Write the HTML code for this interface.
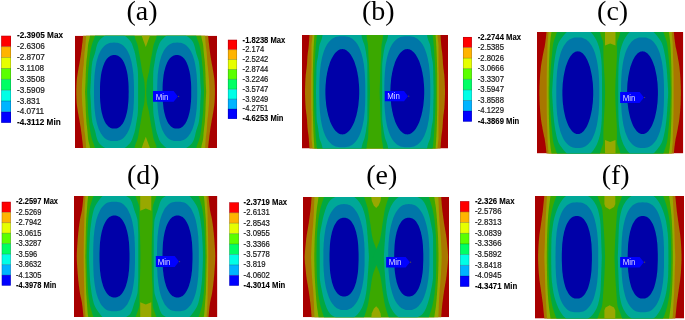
<!DOCTYPE html>
<html><head><meta charset="utf-8"><style>
html,body{margin:0;padding:0;background:#fff;width:685px;height:320px;overflow:hidden}
svg{display:block}
text{will-change:transform}
.lb{font-family:"Liberation Sans",sans-serif;fill:#1a1a1a;stroke:#1a1a1a;stroke-width:0.22px}
.b{font-weight:bold;fill:#000;stroke:#000;stroke-width:0.1px}
.mn{font-family:"Liberation Sans",sans-serif;font-size:8.3px;fill:#dcdcff}
.tt{font-family:"Liberation Serif",serif;font-size:28px;fill:#000}
</style></head><body>
<svg width="685" height="320" viewBox="0 0 685 320">
<clipPath id="c0"><rect x="75" y="35.7" width="142" height="112.3"/></clipPath>
<g clip-path="url(#c0)">
<rect x="75" y="35.7" width="142" height="112.3" fill="#a80000"/>
<path d="M83.1 33.7 L83.1 35.7 L83 36.7 L82.9 37.7 L82.8 38.7 L82.7 39.7 L82.6 40.7 L82.5 41.7 L82.4 42.7 L82.2 43.7 L82.1 44.7 L82 45.7 L81.9 46.7 L81.8 47.7 L81.7 48.7 L81.5 49.7 L81.4 50.7 L81.3 51.7 L81.1 52.7 L81 53.7 L80.9 54.7 L80.7 55.7 L80.6 56.7 L80.4 57.7 L80.2 58.7 L80.1 59.7 L79.9 60.7 L79.7 61.7 L79.6 62.7 L79.4 63.7 L79.2 64.7 L79 65.7 L78.8 66.7 L78.6 67.7 L78.5 68.7 L78.3 69.7 L78.1 70.7 L77.9 71.7 L77.8 72.7 L77.6 73.7 L77.5 74.7 L77.3 75.7 L77.2 76.7 L77 77.7 L76.9 78.7 L76.8 79.7 L76.7 80.7 L76.6 81.7 L76.6 82.7 L76.5 83.7 L76.5 84.7 L76.4 85.7 L76.4 86.7 L76.4 87.7 L76.3 88.7 L76.3 89.7 L76.3 90.7 L76.3 91.7 L76.3 93 L76.3 94 L76.3 95 L76.4 96 L76.4 97 L76.4 98 L76.5 99 L76.5 100 L76.6 101 L76.6 102 L76.7 103 L76.8 104 L76.9 105 L77 106 L77.2 107 L77.3 108 L77.5 109 L77.6 110 L77.8 111 L77.9 112 L78.1 113 L78.3 114 L78.5 115 L78.6 116 L78.8 117 L79 118 L79.2 119 L79.4 120 L79.6 121 L79.7 122 L79.9 123 L80.1 124 L80.2 125 L80.4 126 L80.6 127 L80.7 128 L80.9 129 L81 130 L81.1 131 L81.3 132 L81.4 133 L81.5 134 L81.7 135 L81.8 136 L81.9 137 L82 138 L82.1 139 L82.2 140 L82.4 141 L82.5 142 L82.6 143 L82.7 144 L82.8 145 L82.9 146 L83 147 L83.1 148 L83.1 150 L208.1 150 L208.1 148 L208.2 147 L208.3 146 L208.4 145 L208.5 144 L208.6 143 L208.7 142 L208.8 141 L209 140 L209.1 139 L209.2 138 L209.3 137 L209.4 136 L209.5 135 L209.7 134 L209.8 133 L209.9 132 L210.1 131 L210.2 130 L210.3 129 L210.5 128 L210.6 127 L210.8 126 L211 125 L211.1 124 L211.3 123 L211.5 122 L211.6 121 L211.8 120 L212 119 L212.2 118 L212.4 117 L212.6 116 L212.7 115 L212.9 114 L213.1 113 L213.3 112 L213.4 111 L213.6 110 L213.7 109 L213.9 108 L214 107 L214.2 106 L214.3 105 L214.4 104 L214.5 103 L214.6 102 L214.6 101 L214.7 100 L214.7 99 L214.8 98 L214.8 97 L214.8 96 L214.9 95 L214.9 94 L214.9 93 L214.9 91.7 L214.9 90.7 L214.9 89.7 L214.9 88.7 L214.8 87.7 L214.8 86.7 L214.8 85.7 L214.7 84.7 L214.7 83.7 L214.6 82.7 L214.6 81.7 L214.5 80.7 L214.4 79.7 L214.3 78.7 L214.2 77.7 L214 76.7 L213.9 75.7 L213.7 74.7 L213.6 73.7 L213.4 72.7 L213.3 71.7 L213.1 70.7 L212.9 69.7 L212.7 68.7 L212.6 67.7 L212.4 66.7 L212.2 65.7 L212 64.7 L211.8 63.7 L211.6 62.7 L211.5 61.7 L211.3 60.7 L211.1 59.7 L211 58.7 L210.8 57.7 L210.6 56.7 L210.5 55.7 L210.3 54.7 L210.2 53.7 L210.1 52.7 L209.9 51.7 L209.8 50.7 L209.7 49.7 L209.5 48.7 L209.4 47.7 L209.3 46.7 L209.2 45.7 L209.1 44.7 L209 43.7 L208.8 42.7 L208.7 41.7 L208.6 40.7 L208.5 39.7 L208.4 38.7 L208.3 37.7 L208.2 36.7 L208.1 35.7 L208.1 33.7Z" fill="#a87700"/>
<path d="M86.1 33.7 L86.1 35.7 L86 36.7 L86 37.7 L85.9 38.7 L85.9 39.7 L85.8 40.7 L85.7 41.7 L85.7 42.7 L85.6 43.7 L85.5 44.7 L85.4 45.7 L85.3 46.7 L85.2 47.7 L85 48.7 L84.9 49.7 L84.8 50.7 L84.6 51.7 L84.5 52.7 L84.4 53.7 L84.4 54.7 L84.3 55.7 L84.2 56.7 L84.2 57.7 L84.1 58.7 L84.1 59.7 L84 60.7 L83.9 61.7 L83.8 62.7 L83.8 63.7 L83.7 64.7 L83.6 65.7 L83.4 66.7 L83.3 67.7 L83.2 68.7 L83.1 69.7 L83 70.7 L82.9 71.7 L82.8 72.7 L82.7 73.7 L82.7 74.7 L82.6 75.7 L82.5 76.7 L82.4 77.7 L82.3 78.7 L82.2 79.7 L82.2 80.7 L82.1 81.7 L82.1 82.7 L82 83.7 L82 84.7 L81.9 85.7 L81.9 86.7 L81.9 87.7 L81.8 88.7 L81.8 89.7 L81.8 90.7 L81.8 91.7 L81.8 93 L81.8 94 L81.8 95 L81.9 96 L81.9 97 L81.9 98 L82 99 L82 100 L82.1 101 L82.1 102 L82.2 103 L82.2 104 L82.3 105 L82.4 106 L82.5 107 L82.6 108 L82.7 109 L82.7 110 L82.8 111 L82.9 112 L83 113 L83.1 114 L83.2 115 L83.3 116 L83.4 117 L83.6 118 L83.7 119 L83.8 120 L83.8 121 L83.9 122 L84 123 L84.1 124 L84.1 125 L84.2 126 L84.2 127 L84.3 128 L84.4 129 L84.4 130 L84.5 131 L84.6 132 L84.8 133 L84.9 134 L85 135 L85.2 136 L85.3 137 L85.4 138 L85.5 139 L85.6 140 L85.7 141 L85.7 142 L85.8 143 L85.9 144 L85.9 145 L86 146 L86 147 L86.1 148 L86.1 150 L205.1 150 L205.1 148 L205.2 147 L205.2 146 L205.3 145 L205.3 144 L205.4 143 L205.5 142 L205.5 141 L205.6 140 L205.7 139 L205.8 138 L205.9 137 L206 136 L206.2 135 L206.3 134 L206.4 133 L206.6 132 L206.7 131 L206.8 130 L206.8 129 L206.9 128 L207 127 L207 126 L207.1 125 L207.1 124 L207.2 123 L207.3 122 L207.4 121 L207.4 120 L207.5 119 L207.6 118 L207.8 117 L207.9 116 L208 115 L208.1 114 L208.2 113 L208.3 112 L208.4 111 L208.5 110 L208.5 109 L208.6 108 L208.7 107 L208.8 106 L208.9 105 L209 104 L209 103 L209.1 102 L209.1 101 L209.2 100 L209.2 99 L209.3 98 L209.3 97 L209.3 96 L209.4 95 L209.4 94 L209.4 93 L209.4 91.7 L209.4 90.7 L209.4 89.7 L209.4 88.7 L209.3 87.7 L209.3 86.7 L209.3 85.7 L209.2 84.7 L209.2 83.7 L209.1 82.7 L209.1 81.7 L209 80.7 L209 79.7 L208.9 78.7 L208.8 77.7 L208.7 76.7 L208.6 75.7 L208.5 74.7 L208.5 73.7 L208.4 72.7 L208.3 71.7 L208.2 70.7 L208.1 69.7 L208 68.7 L207.9 67.7 L207.8 66.7 L207.6 65.7 L207.5 64.7 L207.4 63.7 L207.4 62.7 L207.3 61.7 L207.2 60.7 L207.1 59.7 L207.1 58.7 L207 57.7 L207 56.7 L206.9 55.7 L206.8 54.7 L206.8 53.7 L206.7 52.7 L206.6 51.7 L206.4 50.7 L206.3 49.7 L206.2 48.7 L206 47.7 L205.9 46.7 L205.8 45.7 L205.7 44.7 L205.6 43.7 L205.5 42.7 L205.5 41.7 L205.4 40.7 L205.3 39.7 L205.3 38.7 L205.2 37.7 L205.2 36.7 L205.1 35.7 L205.1 33.7Z" fill="#98a800"/>
<path d="M90 33.7 L90 35.7 L89.8 36.7 L89.7 37.7 L89.5 38.7 L89.2 39.7 L89 40.7 L88.7 41.7 L88.5 42.7 L88.3 43.7 L88.1 44.7 L88 45.7 L87.9 46.7 L87.8 47.7 L87.7 48.7 L87.7 49.7 L87.6 50.7 L87.5 51.7 L87.4 52.7 L87.3 53.7 L87.2 54.7 L87.1 55.7 L87 56.7 L86.9 57.7 L86.7 58.7 L86.6 59.7 L86.5 60.7 L86.4 61.7 L86.3 62.7 L86.3 63.7 L86.2 64.7 L86.1 65.7 L86.1 66.7 L86 67.7 L86 68.7 L85.9 69.7 L85.9 70.7 L85.8 71.7 L85.8 72.7 L85.7 73.7 L85.7 74.7 L85.7 75.7 L85.7 76.7 L85.6 77.7 L85.6 78.7 L85.6 79.7 L85.5 80.7 L85.5 81.7 L85.5 82.7 L85.4 83.7 L85.4 84.7 L85.3 85.7 L85.3 86.7 L85.2 87.7 L85.2 88.7 L85.1 89.7 L85.1 90.7 L85 91.7 L85.1 93 L85.1 94 L85.2 95 L85.2 96 L85.3 97 L85.3 98 L85.4 99 L85.4 100 L85.5 101 L85.5 102 L85.5 103 L85.6 104 L85.6 105 L85.6 106 L85.7 107 L85.7 108 L85.7 109 L85.7 110 L85.8 111 L85.8 112 L85.9 113 L85.9 114 L86 115 L86 116 L86.1 117 L86.1 118 L86.2 119 L86.3 120 L86.3 121 L86.4 122 L86.5 123 L86.6 124 L86.7 125 L86.9 126 L87 127 L87.1 128 L87.2 129 L87.3 130 L87.4 131 L87.5 132 L87.6 133 L87.7 134 L87.7 135 L87.8 136 L87.9 137 L88 138 L88.1 139 L88.3 140 L88.5 141 L88.7 142 L89 143 L89.2 144 L89.5 145 L89.7 146 L89.8 147 L90 148 L90 150 L201.2 150 L201.2 148 L201.4 147 L201.5 146 L201.7 145 L202 144 L202.2 143 L202.5 142 L202.7 141 L202.9 140 L203.1 139 L203.2 138 L203.3 137 L203.4 136 L203.5 135 L203.5 134 L203.6 133 L203.7 132 L203.8 131 L203.9 130 L204 129 L204.1 128 L204.2 127 L204.3 126 L204.5 125 L204.6 124 L204.7 123 L204.8 122 L204.9 121 L204.9 120 L205 119 L205.1 118 L205.1 117 L205.2 116 L205.2 115 L205.3 114 L205.3 113 L205.4 112 L205.4 111 L205.5 110 L205.5 109 L205.5 108 L205.5 107 L205.6 106 L205.6 105 L205.6 104 L205.7 103 L205.7 102 L205.7 101 L205.8 100 L205.8 99 L205.9 98 L205.9 97 L206 96 L206 95 L206.1 94 L206.1 93 L206.2 91.7 L206.1 90.7 L206.1 89.7 L206 88.7 L206 87.7 L205.9 86.7 L205.9 85.7 L205.8 84.7 L205.8 83.7 L205.7 82.7 L205.7 81.7 L205.7 80.7 L205.6 79.7 L205.6 78.7 L205.6 77.7 L205.5 76.7 L205.5 75.7 L205.5 74.7 L205.5 73.7 L205.4 72.7 L205.4 71.7 L205.3 70.7 L205.3 69.7 L205.2 68.7 L205.2 67.7 L205.1 66.7 L205.1 65.7 L205 64.7 L204.9 63.7 L204.9 62.7 L204.8 61.7 L204.7 60.7 L204.6 59.7 L204.5 58.7 L204.3 57.7 L204.2 56.7 L204.1 55.7 L204 54.7 L203.9 53.7 L203.8 52.7 L203.7 51.7 L203.6 50.7 L203.5 49.7 L203.5 48.7 L203.4 47.7 L203.3 46.7 L203.2 45.7 L203.1 44.7 L202.9 43.7 L202.7 42.7 L202.5 41.7 L202.2 40.7 L202 39.7 L201.7 38.7 L201.5 37.7 L201.4 36.7 L201.2 35.7 L201.2 33.7Z" fill="#3ba800"/>
<path d="M140.8 33 L151 33 L148 41 L145.8 47 L143.5 41Z" fill="#98a800"/>
<path d="M140.8 150.7 L151 150.7 L148 142.7 L145.8 136.7 L143.5 142.7Z" fill="#98a800"/>
<path d="M95 33.7 L95 35.7 L94.7 36.7 L94.4 37.7 L94.1 38.7 L93.7 39.7 L93.3 40.7 L92.9 41.7 L92.5 42.7 L92.2 43.7 L91.9 44.7 L91.6 45.7 L91.4 46.7 L91.2 47.7 L90.9 48.7 L90.7 49.7 L90.6 50.7 L90.4 51.7 L90.2 52.7 L90.1 53.7 L90 54.7 L89.9 55.7 L89.7 56.7 L89.6 57.7 L89.5 58.7 L89.4 59.7 L89.3 60.7 L89.2 61.7 L89.1 62.7 L89 63.7 L88.9 64.7 L88.8 65.7 L88.6 66.7 L88.5 67.7 L88.4 68.7 L88.3 69.7 L88.2 70.7 L88.1 71.7 L88.1 72.7 L88 73.7 L87.9 74.7 L87.9 75.7 L87.8 76.7 L87.8 77.7 L87.8 78.7 L87.7 79.7 L87.7 80.7 L87.6 81.7 L87.6 82.7 L87.5 83.7 L87.5 84.7 L87.4 85.7 L87.4 86.7 L87.3 87.7 L87.3 88.7 L87.2 89.7 L87.2 90.7 L87.1 91.7 L87.2 93 L87.2 94 L87.3 95 L87.3 96 L87.4 97 L87.4 98 L87.5 99 L87.5 100 L87.6 101 L87.6 102 L87.7 103 L87.7 104 L87.8 105 L87.8 106 L87.8 107 L87.9 108 L87.9 109 L88 110 L88.1 111 L88.1 112 L88.2 113 L88.3 114 L88.4 115 L88.5 116 L88.6 117 L88.8 118 L88.9 119 L89 120 L89.1 121 L89.2 122 L89.3 123 L89.4 124 L89.5 125 L89.6 126 L89.7 127 L89.9 128 L90 129 L90.1 130 L90.2 131 L90.4 132 L90.6 133 L90.7 134 L90.9 135 L91.2 136 L91.4 137 L91.6 138 L91.9 139 L92.2 140 L92.5 141 L92.9 142 L93.3 143 L93.7 144 L94.1 145 L94.4 146 L94.7 147 L95 148 L95 150 L134.6 150 L134.6 148 L134.7 147 L134.9 146 L135.2 145 L135.6 144 L136 143 L136.4 142 L136.8 141 L137.2 140 L137.5 139 L137.8 138 L138 137 L138.2 136 L138.4 135 L138.5 134 L138.7 133 L138.9 132 L139 131 L139.2 130 L139.4 129 L139.6 128 L139.8 127 L140 126 L140.1 125 L140.3 124 L140.5 123 L140.6 122 L140.8 121 L141 120 L141.1 119 L141.3 118 L141.4 117 L141.6 116 L141.7 115 L141.9 114 L142.1 113 L142.2 112 L142.4 111 L142.7 110 L142.9 109 L143.1 108 L143.4 107 L143.6 106 L143.9 105 L144.1 104 L144.2 103 L144.4 102 L144.5 101 L144.5 100 L144.6 99 L144.7 98 L144.7 97 L144.8 96 L144.8 95 L144.9 94 L144.9 93 L144.9 91.7 L144.9 90.7 L144.9 89.7 L144.8 88.7 L144.8 87.7 L144.7 86.7 L144.7 85.7 L144.6 84.7 L144.5 83.7 L144.5 82.7 L144.4 81.7 L144.2 80.7 L144.1 79.7 L143.9 78.7 L143.6 77.7 L143.4 76.7 L143.1 75.7 L142.9 74.7 L142.7 73.7 L142.4 72.7 L142.2 71.7 L142.1 70.7 L141.9 69.7 L141.7 68.7 L141.6 67.7 L141.4 66.7 L141.3 65.7 L141.1 64.7 L141 63.7 L140.8 62.7 L140.6 61.7 L140.5 60.7 L140.3 59.7 L140.1 58.7 L140 57.7 L139.8 56.7 L139.6 55.7 L139.4 54.7 L139.2 53.7 L139 52.7 L138.9 51.7 L138.7 50.7 L138.5 49.7 L138.4 48.7 L138.2 47.7 L138 46.7 L137.8 45.7 L137.5 44.7 L137.2 43.7 L136.8 42.7 L136.4 41.7 L136 40.7 L135.6 39.7 L135.2 38.7 L134.9 37.7 L134.7 36.7 L134.6 35.7 L134.6 33.7Z" fill="#00a842"/>
<path d="M196.2 33.7 L196.2 35.7 L196.5 36.7 L196.8 37.7 L197.1 38.7 L197.5 39.7 L197.9 40.7 L198.3 41.7 L198.7 42.7 L199 43.7 L199.3 44.7 L199.6 45.7 L199.8 46.7 L200 47.7 L200.3 48.7 L200.5 49.7 L200.6 50.7 L200.8 51.7 L201 52.7 L201.1 53.7 L201.2 54.7 L201.3 55.7 L201.5 56.7 L201.6 57.7 L201.7 58.7 L201.8 59.7 L201.9 60.7 L202 61.7 L202.1 62.7 L202.2 63.7 L202.3 64.7 L202.4 65.7 L202.6 66.7 L202.7 67.7 L202.8 68.7 L202.9 69.7 L203 70.7 L203.1 71.7 L203.1 72.7 L203.2 73.7 L203.3 74.7 L203.3 75.7 L203.4 76.7 L203.4 77.7 L203.4 78.7 L203.5 79.7 L203.5 80.7 L203.6 81.7 L203.6 82.7 L203.7 83.7 L203.7 84.7 L203.8 85.7 L203.8 86.7 L203.9 87.7 L203.9 88.7 L204 89.7 L204 90.7 L204.1 91.7 L204 93 L204 94 L203.9 95 L203.9 96 L203.8 97 L203.8 98 L203.7 99 L203.7 100 L203.6 101 L203.6 102 L203.5 103 L203.5 104 L203.4 105 L203.4 106 L203.4 107 L203.3 108 L203.3 109 L203.2 110 L203.1 111 L203.1 112 L203 113 L202.9 114 L202.8 115 L202.7 116 L202.6 117 L202.4 118 L202.3 119 L202.2 120 L202.1 121 L202 122 L201.9 123 L201.8 124 L201.7 125 L201.6 126 L201.5 127 L201.3 128 L201.2 129 L201.1 130 L201 131 L200.8 132 L200.6 133 L200.5 134 L200.3 135 L200 136 L199.8 137 L199.6 138 L199.3 139 L199 140 L198.7 141 L198.3 142 L197.9 143 L197.5 144 L197.1 145 L196.8 146 L196.5 147 L196.2 148 L196.2 150 L156.6 150 L156.6 148 L156.5 147 L156.3 146 L156 145 L155.6 144 L155.2 143 L154.8 142 L154.4 141 L154 140 L153.7 139 L153.4 138 L153.2 137 L153 136 L152.8 135 L152.7 134 L152.5 133 L152.3 132 L152.2 131 L152 130 L151.8 129 L151.6 128 L151.4 127 L151.2 126 L151.1 125 L150.9 124 L150.7 123 L150.6 122 L150.4 121 L150.2 120 L150.1 119 L149.9 118 L149.8 117 L149.6 116 L149.5 115 L149.3 114 L149.1 113 L149 112 L148.8 111 L148.5 110 L148.3 109 L148.1 108 L147.8 107 L147.6 106 L147.3 105 L147.1 104 L147 103 L146.8 102 L146.7 101 L146.7 100 L146.6 99 L146.5 98 L146.5 97 L146.4 96 L146.4 95 L146.3 94 L146.3 93 L146.3 91.7 L146.3 90.7 L146.3 89.7 L146.4 88.7 L146.4 87.7 L146.5 86.7 L146.5 85.7 L146.6 84.7 L146.7 83.7 L146.7 82.7 L146.8 81.7 L147 80.7 L147.1 79.7 L147.3 78.7 L147.6 77.7 L147.8 76.7 L148.1 75.7 L148.3 74.7 L148.5 73.7 L148.8 72.7 L149 71.7 L149.1 70.7 L149.3 69.7 L149.5 68.7 L149.6 67.7 L149.8 66.7 L149.9 65.7 L150.1 64.7 L150.2 63.7 L150.4 62.7 L150.6 61.7 L150.7 60.7 L150.9 59.7 L151.1 58.7 L151.2 57.7 L151.4 56.7 L151.6 55.7 L151.8 54.7 L152 53.7 L152.2 52.7 L152.3 51.7 L152.5 50.7 L152.7 49.7 L152.8 48.7 L153 47.7 L153.2 46.7 L153.4 45.7 L153.7 44.7 L154 43.7 L154.4 42.7 L154.8 41.7 L155.2 40.7 L155.6 39.7 L156 38.7 L156.3 37.7 L156.5 36.7 L156.6 35.7 L156.6 33.7Z" fill="#00a842"/>
<path d="M105.2 33.7 L105.2 35.7 L103.4 36.7 L102.1 37.7 L100.9 38.7 L99.9 39.7 L99.1 40.7 L98.5 41.7 L97.9 42.7 L97.5 43.7 L97.1 44.7 L96.8 45.7 L96.5 46.7 L96.2 47.7 L96 48.7 L95.8 49.7 L95.6 50.7 L95.3 51.7 L95.1 52.7 L94.8 53.7 L94.5 54.7 L94.1 55.7 L93.8 56.7 L93.5 57.7 L93.1 58.7 L92.8 59.7 L92.6 60.7 L92.3 61.7 L92.2 62.7 L92.1 63.7 L91.9 64.7 L91.8 65.7 L91.7 66.7 L91.6 67.7 L91.5 68.7 L91.5 69.7 L91.4 70.7 L91.3 71.7 L91.3 72.7 L91.2 73.7 L91.1 74.7 L91.1 75.7 L91 76.7 L91 77.7 L91 78.7 L90.9 79.7 L90.9 80.7 L90.8 81.7 L90.8 82.7 L90.7 83.7 L90.6 84.7 L90.6 85.7 L90.5 86.7 L90.5 87.7 L90.4 88.7 L90.3 89.7 L90.3 90.7 L90.2 91.7 L90.3 93 L90.3 94 L90.4 95 L90.5 96 L90.5 97 L90.6 98 L90.6 99 L90.7 100 L90.8 101 L90.8 102 L90.9 103 L90.9 104 L91 105 L91 106 L91 107 L91.1 108 L91.1 109 L91.2 110 L91.3 111 L91.3 112 L91.4 113 L91.5 114 L91.5 115 L91.6 116 L91.7 117 L91.8 118 L91.9 119 L92.1 120 L92.2 121 L92.3 122 L92.6 123 L92.8 124 L93.1 125 L93.5 126 L93.8 127 L94.1 128 L94.5 129 L94.8 130 L95.1 131 L95.3 132 L95.6 133 L95.8 134 L96 135 L96.2 136 L96.5 137 L96.8 138 L97.1 139 L97.5 140 L97.9 141 L98.5 142 L99.1 143 L99.9 144 L100.9 145 L102.1 146 L103.4 147 L105.2 148 L105.2 150 L124.6 150 L124.6 148 L126.1 147 L127.2 146 L128.1 145 L129.2 144 L130.1 143 L130.8 142 L131.4 141 L131.9 140 L132.3 139 L132.6 138 L133 137 L133.3 136 L133.6 135 L134 134 L134.3 133 L134.6 132 L134.8 131 L135.1 130 L135.3 129 L135.5 128 L135.6 127 L135.8 126 L136 125 L136.1 124 L136.3 123 L136.5 122 L136.6 121 L136.8 120 L137 119 L137.1 118 L137.3 117 L137.5 116 L137.6 115 L137.7 114 L137.8 113 L137.9 112 L137.9 111 L138 110 L138 109 L138 108 L138 107 L138.1 106 L138.1 105 L138.1 104 L138.1 103 L138.1 102 L138.1 101 L138.1 100 L138.1 99 L138.1 98 L138.1 97 L138.1 96 L138.1 95 L138.1 94 L138.1 93 L138.1 91.7 L138.1 90.7 L138.1 89.7 L138.1 88.7 L138.1 87.7 L138.1 86.7 L138.1 85.7 L138.1 84.7 L138.1 83.7 L138.1 82.7 L138.1 81.7 L138.1 80.7 L138.1 79.7 L138.1 78.7 L138.1 77.7 L138 76.7 L138 75.7 L138 74.7 L138 73.7 L137.9 72.7 L137.9 71.7 L137.8 70.7 L137.7 69.7 L137.6 68.7 L137.5 67.7 L137.3 66.7 L137.1 65.7 L137 64.7 L136.8 63.7 L136.6 62.7 L136.5 61.7 L136.3 60.7 L136.1 59.7 L136 58.7 L135.8 57.7 L135.6 56.7 L135.5 55.7 L135.3 54.7 L135.1 53.7 L134.8 52.7 L134.6 51.7 L134.3 50.7 L134 49.7 L133.6 48.7 L133.3 47.7 L133 46.7 L132.6 45.7 L132.3 44.7 L131.9 43.7 L131.4 42.7 L130.8 41.7 L130.1 40.7 L129.2 39.7 L128.1 38.7 L127.2 37.7 L126.1 36.7 L124.6 35.7 L124.6 33.7Z" fill="#00a898"/>
<path d="M186 33.7 L186 35.7 L187.8 36.7 L189.1 37.7 L190.3 38.7 L191.3 39.7 L192.1 40.7 L192.7 41.7 L193.3 42.7 L193.7 43.7 L194.1 44.7 L194.4 45.7 L194.7 46.7 L195 47.7 L195.2 48.7 L195.4 49.7 L195.6 50.7 L195.9 51.7 L196.1 52.7 L196.4 53.7 L196.7 54.7 L197.1 55.7 L197.4 56.7 L197.7 57.7 L198.1 58.7 L198.4 59.7 L198.6 60.7 L198.9 61.7 L199 62.7 L199.1 63.7 L199.3 64.7 L199.4 65.7 L199.5 66.7 L199.6 67.7 L199.7 68.7 L199.7 69.7 L199.8 70.7 L199.9 71.7 L199.9 72.7 L200 73.7 L200.1 74.7 L200.1 75.7 L200.2 76.7 L200.2 77.7 L200.2 78.7 L200.3 79.7 L200.3 80.7 L200.4 81.7 L200.4 82.7 L200.5 83.7 L200.6 84.7 L200.6 85.7 L200.7 86.7 L200.7 87.7 L200.8 88.7 L200.9 89.7 L200.9 90.7 L201 91.7 L200.9 93 L200.9 94 L200.8 95 L200.7 96 L200.7 97 L200.6 98 L200.6 99 L200.5 100 L200.4 101 L200.4 102 L200.3 103 L200.3 104 L200.2 105 L200.2 106 L200.2 107 L200.1 108 L200.1 109 L200 110 L199.9 111 L199.9 112 L199.8 113 L199.7 114 L199.7 115 L199.6 116 L199.5 117 L199.4 118 L199.3 119 L199.1 120 L199 121 L198.9 122 L198.6 123 L198.4 124 L198.1 125 L197.7 126 L197.4 127 L197.1 128 L196.7 129 L196.4 130 L196.1 131 L195.9 132 L195.6 133 L195.4 134 L195.2 135 L195 136 L194.7 137 L194.4 138 L194.1 139 L193.7 140 L193.3 141 L192.7 142 L192.1 143 L191.3 144 L190.3 145 L189.1 146 L187.8 147 L186 148 L186 150 L166.6 150 L166.6 148 L165.1 147 L164 146 L163.1 145 L162 144 L161.1 143 L160.4 142 L159.8 141 L159.3 140 L158.9 139 L158.6 138 L158.2 137 L157.9 136 L157.6 135 L157.2 134 L156.9 133 L156.6 132 L156.4 131 L156.1 130 L155.9 129 L155.7 128 L155.6 127 L155.4 126 L155.2 125 L155.1 124 L154.9 123 L154.7 122 L154.6 121 L154.4 120 L154.2 119 L154.1 118 L153.9 117 L153.7 116 L153.6 115 L153.5 114 L153.4 113 L153.3 112 L153.3 111 L153.2 110 L153.2 109 L153.2 108 L153.2 107 L153.1 106 L153.1 105 L153.1 104 L153.1 103 L153.1 102 L153.1 101 L153.1 100 L153.1 99 L153.1 98 L153.1 97 L153.1 96 L153.1 95 L153.1 94 L153.1 93 L153.1 91.7 L153.1 90.7 L153.1 89.7 L153.1 88.7 L153.1 87.7 L153.1 86.7 L153.1 85.7 L153.1 84.7 L153.1 83.7 L153.1 82.7 L153.1 81.7 L153.1 80.7 L153.1 79.7 L153.1 78.7 L153.1 77.7 L153.2 76.7 L153.2 75.7 L153.2 74.7 L153.2 73.7 L153.3 72.7 L153.3 71.7 L153.4 70.7 L153.5 69.7 L153.6 68.7 L153.7 67.7 L153.9 66.7 L154.1 65.7 L154.2 64.7 L154.4 63.7 L154.6 62.7 L154.7 61.7 L154.9 60.7 L155.1 59.7 L155.2 58.7 L155.4 57.7 L155.6 56.7 L155.7 55.7 L155.9 54.7 L156.1 53.7 L156.4 52.7 L156.6 51.7 L156.9 50.7 L157.2 49.7 L157.6 48.7 L157.9 47.7 L158.2 46.7 L158.6 45.7 L158.9 44.7 L159.3 43.7 L159.8 42.7 L160.4 41.7 L161.1 40.7 L162 39.7 L163.1 38.7 L164 37.7 L165.1 36.7 L166.6 35.7 L166.6 33.7Z" fill="#00a898"/>
<path d="M134 91.8 L134 96.5 L133.9 99.9 L133.8 103 L133.6 105.9 L133.5 108.6 L133.2 111.1 L132.9 113.5 L132.6 115.8 L132.2 118 L131.8 120.1 L131.4 122.1 L130.9 124 L130.3 125.9 L129.8 127.6 L129.2 129.2 L128.5 130.7 L127.8 132.1 L127.1 133.4 L126.3 134.6 L125.5 135.7 L124.6 136.8 L123.7 137.7 L122.8 138.5 L121.8 139.2 L120.8 139.8 L119.7 140.2 L118.5 140.6 L117.3 140.9 L115.9 141 L114 141.1 L112.1 141 L110.7 140.9 L109.5 140.6 L108.3 140.2 L107.2 139.8 L106.2 139.2 L105.2 138.5 L104.3 137.7 L103.4 136.8 L102.5 135.7 L101.7 134.6 L100.9 133.4 L100.2 132.1 L99.5 130.7 L98.8 129.2 L98.2 127.6 L97.7 125.9 L97.1 124 L96.6 122.1 L96.2 120.1 L95.8 118 L95.4 115.8 L95.1 113.5 L94.8 111.1 L94.5 108.6 L94.4 105.9 L94.2 103 L94.1 99.9 L94 96.5 L94 91.9 L94 87.2 L94.1 83.8 L94.2 80.7 L94.4 77.8 L94.5 75.1 L94.8 72.6 L95.1 70.2 L95.4 67.9 L95.8 65.7 L96.2 63.6 L96.6 61.6 L97.1 59.7 L97.7 57.8 L98.2 56.1 L98.8 54.5 L99.5 53 L100.2 51.6 L100.9 50.3 L101.7 49.1 L102.5 48 L103.4 46.9 L104.3 46 L105.2 45.2 L106.2 44.5 L107.2 43.9 L108.3 43.5 L109.5 43.1 L110.7 42.8 L112.1 42.7 L114 42.6 L115.9 42.7 L117.3 42.8 L118.5 43.1 L119.7 43.5 L120.8 43.9 L121.8 44.5 L122.8 45.2 L123.7 46 L124.6 46.9 L125.5 48 L126.3 49.1 L127.1 50.3 L127.8 51.6 L128.5 53 L129.2 54.5 L129.8 56.1 L130.3 57.8 L130.9 59.7 L131.4 61.6 L131.8 63.6 L132.2 65.7 L132.6 67.9 L132.9 70.2 L133.2 72.6 L133.5 75.1 L133.6 77.8 L133.8 80.7 L133.9 83.8 L134 87.2Z" fill="#0077a8"/>
<path d="M157.2 91.8 L157.2 96.5 L157.3 99.9 L157.4 103 L157.6 105.9 L157.7 108.6 L158 111.1 L158.3 113.5 L158.6 115.8 L159 118 L159.4 120.1 L159.8 122.1 L160.3 124 L160.9 125.9 L161.4 127.6 L162 129.2 L162.7 130.7 L163.4 132.1 L164.1 133.4 L164.9 134.6 L165.7 135.7 L166.6 136.8 L167.5 137.7 L168.4 138.5 L169.4 139.2 L170.4 139.8 L171.5 140.2 L172.7 140.6 L173.9 140.9 L175.3 141 L177.2 141.1 L179.1 141 L180.5 140.9 L181.7 140.6 L182.9 140.2 L184 139.8 L185 139.2 L186 138.5 L186.9 137.7 L187.8 136.8 L188.7 135.7 L189.5 134.6 L190.3 133.4 L191 132.1 L191.7 130.7 L192.4 129.2 L193 127.6 L193.5 125.9 L194.1 124 L194.6 122.1 L195 120.1 L195.4 118 L195.8 115.8 L196.1 113.5 L196.4 111.1 L196.7 108.6 L196.8 105.9 L197 103 L197.1 99.9 L197.2 96.5 L197.2 91.9 L197.2 87.2 L197.1 83.8 L197 80.7 L196.8 77.8 L196.7 75.1 L196.4 72.6 L196.1 70.2 L195.8 67.9 L195.4 65.7 L195 63.6 L194.6 61.6 L194.1 59.7 L193.5 57.8 L193 56.1 L192.4 54.5 L191.7 53 L191 51.6 L190.3 50.3 L189.5 49.1 L188.7 48 L187.8 46.9 L186.9 46 L186 45.2 L185 44.5 L184 43.9 L182.9 43.5 L181.7 43.1 L180.5 42.8 L179.1 42.7 L177.2 42.6 L175.3 42.7 L173.9 42.8 L172.7 43.1 L171.5 43.5 L170.4 43.9 L169.4 44.5 L168.4 45.2 L167.5 46 L166.6 46.9 L165.7 48 L164.9 49.1 L164.1 50.3 L163.4 51.6 L162.7 53 L162 54.5 L161.4 56.1 L160.9 57.8 L160.3 59.7 L159.8 61.6 L159.4 63.6 L159 65.7 L158.6 67.9 L158.3 70.2 L158 72.6 L157.7 75.1 L157.6 77.8 L157.4 80.7 L157.3 83.8 L157.2 87.2Z" fill="#0077a8"/>
<path d="M128.7 91.8 L128.6 94.7 L128.6 97 L128.5 99.2 L128.4 101.2 L128.2 103.2 L128 105.1 L127.8 106.9 L127.6 108.7 L127.3 110.3 L127 112 L126.6 113.5 L126.2 115 L125.8 116.4 L125.4 117.8 L124.9 119 L124.4 120.2 L123.9 121.4 L123.3 122.4 L122.8 123.4 L122.2 124.3 L121.5 125.1 L120.9 125.8 L120.2 126.5 L119.5 127 L118.7 127.5 L118 127.9 L117.2 128.2 L116.3 128.4 L115.4 128.6 L114.3 128.6 L113.2 128.6 L112.3 128.4 L111.4 128.2 L110.6 127.9 L109.9 127.5 L109.1 127 L108.4 126.5 L107.7 125.8 L107.1 125.1 L106.4 124.3 L105.8 123.4 L105.3 122.4 L104.7 121.4 L104.2 120.2 L103.7 119 L103.2 117.8 L102.8 116.4 L102.4 115 L102 113.5 L101.6 112 L101.3 110.3 L101 108.7 L100.8 106.9 L100.6 105.1 L100.4 103.2 L100.2 101.2 L100.1 99.2 L100 97 L100 94.7 L100 91.9 L100 89 L100 86.7 L100.1 84.5 L100.2 82.5 L100.4 80.5 L100.6 78.6 L100.8 76.8 L101 75 L101.3 73.4 L101.6 71.7 L102 70.2 L102.4 68.7 L102.8 67.3 L103.2 65.9 L103.7 64.7 L104.2 63.5 L104.7 62.3 L105.3 61.3 L105.8 60.3 L106.4 59.4 L107.1 58.6 L107.7 57.9 L108.4 57.2 L109.1 56.7 L109.9 56.2 L110.6 55.8 L111.4 55.5 L112.3 55.3 L113.2 55.1 L114.3 55.1 L115.4 55.1 L116.3 55.3 L117.2 55.5 L118 55.8 L118.7 56.2 L119.5 56.7 L120.2 57.2 L120.9 57.9 L121.5 58.6 L122.2 59.4 L122.8 60.3 L123.3 61.3 L123.9 62.3 L124.4 63.5 L124.9 64.7 L125.4 65.9 L125.8 67.3 L126.2 68.7 L126.6 70.2 L127 71.7 L127.3 73.4 L127.6 75 L127.8 76.8 L128 78.6 L128.2 80.5 L128.4 82.5 L128.5 84.5 L128.6 86.7 L128.6 89Z" fill="#0000a8"/>
<path d="M162.5 91.8 L162.6 94.7 L162.6 97 L162.7 99.2 L162.8 101.2 L163 103.2 L163.2 105.1 L163.4 106.9 L163.6 108.7 L163.9 110.3 L164.2 112 L164.6 113.5 L165 115 L165.4 116.4 L165.8 117.8 L166.3 119 L166.8 120.2 L167.3 121.4 L167.9 122.4 L168.4 123.4 L169 124.3 L169.7 125.1 L170.3 125.8 L171 126.5 L171.7 127 L172.5 127.5 L173.2 127.9 L174 128.2 L174.9 128.4 L175.8 128.6 L176.9 128.6 L178 128.6 L178.9 128.4 L179.8 128.2 L180.6 127.9 L181.3 127.5 L182.1 127 L182.8 126.5 L183.5 125.8 L184.1 125.1 L184.8 124.3 L185.4 123.4 L185.9 122.4 L186.5 121.4 L187 120.2 L187.5 119 L188 117.8 L188.4 116.4 L188.8 115 L189.2 113.5 L189.6 112 L189.9 110.3 L190.2 108.7 L190.4 106.9 L190.6 105.1 L190.8 103.2 L191 101.2 L191.1 99.2 L191.2 97 L191.2 94.7 L191.2 91.9 L191.2 89 L191.2 86.7 L191.1 84.5 L191 82.5 L190.8 80.5 L190.6 78.6 L190.4 76.8 L190.2 75 L189.9 73.4 L189.6 71.7 L189.2 70.2 L188.8 68.7 L188.4 67.3 L188 65.9 L187.5 64.7 L187 63.5 L186.5 62.3 L185.9 61.3 L185.4 60.3 L184.8 59.4 L184.1 58.6 L183.5 57.9 L182.8 57.2 L182.1 56.7 L181.3 56.2 L180.6 55.8 L179.8 55.5 L178.9 55.3 L178 55.1 L176.9 55.1 L175.8 55.1 L174.9 55.3 L174 55.5 L173.2 55.8 L172.5 56.2 L171.7 56.7 L171 57.2 L170.3 57.9 L169.7 58.6 L169 59.4 L168.4 60.3 L167.9 61.3 L167.3 62.3 L166.8 63.5 L166.3 64.7 L165.8 65.9 L165.4 67.3 L165 68.7 L164.6 70.2 L164.2 71.7 L163.9 73.4 L163.6 75 L163.4 76.8 L163.2 78.6 L163 80.5 L162.8 82.5 L162.7 84.5 L162.6 86.7 L162.6 89Z" fill="#0000a8"/>
</g>
<path d="M153 91 L173.6 91 L177.9 96.4 L173.6 101.8 L153 101.8Z" fill="#0000ff"/>
<circle cx="178.6" cy="96.4" r="0.6" fill="#5a5040"/>
<text transform="translate(155.8 99.9) scale(0.95 1)" class="mn">Min</text>
<clipPath id="c1"><rect x="302" y="35" width="146" height="113.5"/></clipPath>
<g clip-path="url(#c1)">
<rect x="302" y="35" width="146" height="113.5" fill="#a80000"/>
<path d="M309.5 33 L309.5 35 L309.4 36 L309.4 37 L309.3 38 L309.2 39 L309.2 40 L309.1 41 L309 42 L308.9 43 L308.9 44 L308.8 45 L308.7 46 L308.6 47 L308.5 48 L308.4 49 L308.2 50 L308.1 51 L307.9 52 L307.8 53 L307.7 54 L307.6 55 L307.5 56 L307.4 57 L307.4 58 L307.3 59 L307.2 60 L307.2 61 L307.1 62 L307.1 63 L307 64 L306.9 65 L306.8 66 L306.7 67 L306.6 68 L306.5 69 L306.3 70 L306.2 71 L306.1 72 L306 73 L305.8 74 L305.7 75 L305.6 76 L305.6 77 L305.5 78 L305.4 79 L305.4 80 L305.3 81 L305.3 82 L305.2 83 L305.2 84 L305.2 85 L305.1 86 L305.1 87 L305.1 88 L305 89 L305 90 L305 91 L305 93.5 L305 94.5 L305.1 95.5 L305.1 96.5 L305.1 97.5 L305.2 98.5 L305.2 99.5 L305.2 100.5 L305.3 101.5 L305.3 102.5 L305.4 103.5 L305.4 104.5 L305.5 105.5 L305.6 106.5 L305.6 107.5 L305.7 108.5 L305.8 109.5 L306 110.5 L306.1 111.5 L306.2 112.5 L306.3 113.5 L306.5 114.5 L306.6 115.5 L306.7 116.5 L306.8 117.5 L306.9 118.5 L307 119.5 L307.1 120.5 L307.1 121.5 L307.2 122.5 L307.2 123.5 L307.3 124.5 L307.4 125.5 L307.4 126.5 L307.5 127.5 L307.6 128.5 L307.7 129.5 L307.8 130.5 L307.9 131.5 L308.1 132.5 L308.2 133.5 L308.4 134.5 L308.5 135.5 L308.6 136.5 L308.7 137.5 L308.8 138.5 L308.9 139.5 L308.9 140.5 L309 141.5 L309.1 142.5 L309.2 143.5 L309.2 144.5 L309.3 145.5 L309.4 146.5 L309.4 147.5 L309.5 148.5 L309.5 150.5 L440.5 150.5 L440.5 148.5 L440.6 147.5 L440.6 146.5 L440.7 145.5 L440.8 144.5 L440.8 143.5 L440.9 142.5 L441 141.5 L441.1 140.5 L441.1 139.5 L441.2 138.5 L441.3 137.5 L441.4 136.5 L441.5 135.5 L441.6 134.5 L441.8 133.5 L441.9 132.5 L442.1 131.5 L442.2 130.5 L442.3 129.5 L442.4 128.5 L442.5 127.5 L442.6 126.5 L442.6 125.5 L442.7 124.5 L442.8 123.5 L442.8 122.5 L442.9 121.5 L442.9 120.5 L443 119.5 L443.1 118.5 L443.2 117.5 L443.3 116.5 L443.4 115.5 L443.5 114.5 L443.7 113.5 L443.8 112.5 L443.9 111.5 L444 110.5 L444.2 109.5 L444.3 108.5 L444.4 107.5 L444.4 106.5 L444.5 105.5 L444.6 104.5 L444.6 103.5 L444.7 102.5 L444.7 101.5 L444.8 100.5 L444.8 99.5 L444.8 98.5 L444.9 97.5 L444.9 96.5 L444.9 95.5 L445 94.5 L445 93.5 L445 91 L445 90 L445 89 L444.9 88 L444.9 87 L444.9 86 L444.8 85 L444.8 84 L444.8 83 L444.7 82 L444.7 81 L444.6 80 L444.6 79 L444.5 78 L444.4 77 L444.4 76 L444.3 75 L444.2 74 L444 73 L443.9 72 L443.8 71 L443.7 70 L443.5 69 L443.4 68 L443.3 67 L443.2 66 L443.1 65 L443 64 L442.9 63 L442.9 62 L442.8 61 L442.8 60 L442.7 59 L442.6 58 L442.6 57 L442.5 56 L442.4 55 L442.3 54 L442.2 53 L442.1 52 L441.9 51 L441.8 50 L441.6 49 L441.5 48 L441.4 47 L441.3 46 L441.2 45 L441.1 44 L441.1 43 L441 42 L440.9 41 L440.8 40 L440.8 39 L440.7 38 L440.6 37 L440.6 36 L440.5 35 L440.5 33Z" fill="#a87700"/>
<path d="M312.5 33 L312.5 35 L312.4 36 L312.4 37 L312.3 38 L312.2 39 L312.1 40 L312 41 L311.8 42 L311.7 43 L311.6 44 L311.5 45 L311.5 46 L311.5 47 L311.5 48 L311.5 49 L311.5 50 L311.5 51 L311.5 52 L311.5 53 L311.5 54 L311.5 55 L311.5 56 L311.5 57 L311.5 58 L311.5 59 L311.5 60 L311.5 61 L311.5 62 L311.5 63 L311.5 64 L311.5 65 L311.5 66 L311.5 67 L311.5 68 L311.4 69 L311.4 70 L311.4 71 L311.3 72 L311.3 73 L311.3 74 L311.2 75 L311.2 76 L311.2 77 L311.2 78 L311.2 79 L311.2 80 L311.2 81 L311.2 82 L311.2 83 L311.2 84 L311.2 85 L311.2 86 L311.2 87 L311.2 88 L311.2 89 L311.2 90 L311.2 91 L311.2 93.5 L311.2 94.5 L311.2 95.5 L311.2 96.5 L311.2 97.5 L311.2 98.5 L311.2 99.5 L311.2 100.5 L311.2 101.5 L311.2 102.5 L311.2 103.5 L311.2 104.5 L311.2 105.5 L311.2 106.5 L311.2 107.5 L311.2 108.5 L311.3 109.5 L311.3 110.5 L311.3 111.5 L311.4 112.5 L311.4 113.5 L311.4 114.5 L311.5 115.5 L311.5 116.5 L311.5 117.5 L311.5 118.5 L311.5 119.5 L311.5 120.5 L311.5 121.5 L311.5 122.5 L311.5 123.5 L311.5 124.5 L311.5 125.5 L311.5 126.5 L311.5 127.5 L311.5 128.5 L311.5 129.5 L311.5 130.5 L311.5 131.5 L311.5 132.5 L311.5 133.5 L311.5 134.5 L311.5 135.5 L311.5 136.5 L311.5 137.5 L311.5 138.5 L311.6 139.5 L311.7 140.5 L311.8 141.5 L312 142.5 L312.1 143.5 L312.2 144.5 L312.3 145.5 L312.4 146.5 L312.4 147.5 L312.5 148.5 L312.5 150.5 L437.5 150.5 L437.5 148.5 L437.6 147.5 L437.6 146.5 L437.7 145.5 L437.8 144.5 L437.9 143.5 L438 142.5 L438.2 141.5 L438.3 140.5 L438.4 139.5 L438.5 138.5 L438.5 137.5 L438.5 136.5 L438.5 135.5 L438.5 134.5 L438.5 133.5 L438.5 132.5 L438.5 131.5 L438.5 130.5 L438.5 129.5 L438.5 128.5 L438.5 127.5 L438.5 126.5 L438.5 125.5 L438.5 124.5 L438.5 123.5 L438.5 122.5 L438.5 121.5 L438.5 120.5 L438.5 119.5 L438.5 118.5 L438.5 117.5 L438.5 116.5 L438.5 115.5 L438.6 114.5 L438.6 113.5 L438.6 112.5 L438.7 111.5 L438.7 110.5 L438.7 109.5 L438.8 108.5 L438.8 107.5 L438.8 106.5 L438.8 105.5 L438.8 104.5 L438.8 103.5 L438.8 102.5 L438.8 101.5 L438.8 100.5 L438.8 99.5 L438.8 98.5 L438.8 97.5 L438.8 96.5 L438.8 95.5 L438.8 94.5 L438.8 93.5 L438.8 91 L438.8 90 L438.8 89 L438.8 88 L438.8 87 L438.8 86 L438.8 85 L438.8 84 L438.8 83 L438.8 82 L438.8 81 L438.8 80 L438.8 79 L438.8 78 L438.8 77 L438.8 76 L438.8 75 L438.7 74 L438.7 73 L438.7 72 L438.6 71 L438.6 70 L438.6 69 L438.5 68 L438.5 67 L438.5 66 L438.5 65 L438.5 64 L438.5 63 L438.5 62 L438.5 61 L438.5 60 L438.5 59 L438.5 58 L438.5 57 L438.5 56 L438.5 55 L438.5 54 L438.5 53 L438.5 52 L438.5 51 L438.5 50 L438.5 49 L438.5 48 L438.5 47 L438.5 46 L438.5 45 L438.4 44 L438.3 43 L438.2 42 L438 41 L437.9 40 L437.8 39 L437.7 38 L437.6 37 L437.6 36 L437.5 35 L437.5 33Z" fill="#98a800"/>
<path d="M314.4 33 L314.4 35 L314.3 36 L314.3 37 L314.2 38 L314.1 39 L314.1 40 L314 41 L313.9 42 L313.9 43 L313.8 44 L313.8 45 L313.7 46 L313.6 47 L313.6 48 L313.6 49 L313.5 50 L313.5 51 L313.4 52 L313.4 53 L313.3 54 L313.3 55 L313.3 56 L313.2 57 L313.2 58 L313.2 59 L313.1 60 L313.1 61 L313.1 62 L313 63 L313 64 L313 65 L313 66 L313 67 L312.9 68 L312.9 69 L312.9 70 L312.9 71 L312.9 72 L312.8 73 L312.8 74 L312.8 75 L312.8 76 L312.8 77 L312.8 78 L312.8 79 L312.8 80 L312.8 81 L312.8 82 L312.8 83 L312.8 84 L312.8 85 L312.8 86 L312.8 87 L312.8 88 L312.8 89 L312.8 90 L312.8 91 L312.8 93.5 L312.8 94.5 L312.8 95.5 L312.8 96.5 L312.8 97.5 L312.8 98.5 L312.8 99.5 L312.8 100.5 L312.8 101.5 L312.8 102.5 L312.8 103.5 L312.8 104.5 L312.8 105.5 L312.8 106.5 L312.8 107.5 L312.8 108.5 L312.8 109.5 L312.8 110.5 L312.9 111.5 L312.9 112.5 L312.9 113.5 L312.9 114.5 L312.9 115.5 L313 116.5 L313 117.5 L313 118.5 L313 119.5 L313 120.5 L313.1 121.5 L313.1 122.5 L313.1 123.5 L313.2 124.5 L313.2 125.5 L313.2 126.5 L313.3 127.5 L313.3 128.5 L313.3 129.5 L313.4 130.5 L313.4 131.5 L313.5 132.5 L313.5 133.5 L313.6 134.5 L313.6 135.5 L313.6 136.5 L313.7 137.5 L313.8 138.5 L313.8 139.5 L313.9 140.5 L313.9 141.5 L314 142.5 L314.1 143.5 L314.1 144.5 L314.2 145.5 L314.3 146.5 L314.3 147.5 L314.4 148.5 L314.4 150.5 L435.6 150.5 L435.6 148.5 L435.7 147.5 L435.7 146.5 L435.8 145.5 L435.9 144.5 L435.9 143.5 L436 142.5 L436.1 141.5 L436.1 140.5 L436.2 139.5 L436.2 138.5 L436.3 137.5 L436.4 136.5 L436.4 135.5 L436.4 134.5 L436.5 133.5 L436.5 132.5 L436.6 131.5 L436.6 130.5 L436.7 129.5 L436.7 128.5 L436.7 127.5 L436.8 126.5 L436.8 125.5 L436.8 124.5 L436.9 123.5 L436.9 122.5 L436.9 121.5 L437 120.5 L437 119.5 L437 118.5 L437 117.5 L437 116.5 L437.1 115.5 L437.1 114.5 L437.1 113.5 L437.1 112.5 L437.1 111.5 L437.2 110.5 L437.2 109.5 L437.2 108.5 L437.2 107.5 L437.2 106.5 L437.2 105.5 L437.2 104.5 L437.2 103.5 L437.2 102.5 L437.2 101.5 L437.2 100.5 L437.2 99.5 L437.2 98.5 L437.2 97.5 L437.2 96.5 L437.2 95.5 L437.2 94.5 L437.2 93.5 L437.2 91 L437.2 90 L437.2 89 L437.2 88 L437.2 87 L437.2 86 L437.2 85 L437.2 84 L437.2 83 L437.2 82 L437.2 81 L437.2 80 L437.2 79 L437.2 78 L437.2 77 L437.2 76 L437.2 75 L437.2 74 L437.2 73 L437.1 72 L437.1 71 L437.1 70 L437.1 69 L437.1 68 L437 67 L437 66 L437 65 L437 64 L437 63 L436.9 62 L436.9 61 L436.9 60 L436.8 59 L436.8 58 L436.8 57 L436.7 56 L436.7 55 L436.7 54 L436.6 53 L436.6 52 L436.5 51 L436.5 50 L436.4 49 L436.4 48 L436.4 47 L436.3 46 L436.2 45 L436.2 44 L436.1 43 L436.1 42 L436 41 L435.9 40 L435.9 39 L435.8 38 L435.7 37 L435.7 36 L435.6 35 L435.6 33Z" fill="#3ba800"/>
<path d="M317 33 L317 35 L316.9 36 L316.7 37 L316.6 38 L316.5 39 L316.4 40 L316.3 41 L316.2 42 L316.1 43 L316 44 L315.9 45 L315.8 46 L315.7 47 L315.6 48 L315.6 49 L315.5 50 L315.4 51 L315.4 52 L315.3 53 L315.3 54 L315.2 55 L315.1 56 L315.1 57 L315 58 L315 59 L314.9 60 L314.9 61 L314.8 62 L314.8 63 L314.7 64 L314.7 65 L314.7 66 L314.6 67 L314.5 68 L314.5 69 L314.4 70 L314.4 71 L314.3 72 L314.3 73 L314.2 74 L314.2 75 L314.2 76 L314.1 77 L314.1 78 L314.1 79 L314.1 80 L314 81 L314 82 L314 83 L314 84 L314 85 L313.9 86 L313.9 87 L313.9 88 L313.9 89 L313.9 90 L313.9 91 L313.9 93.5 L313.9 94.5 L313.9 95.5 L313.9 96.5 L313.9 97.5 L314 98.5 L314 99.5 L314 100.5 L314 101.5 L314 102.5 L314.1 103.5 L314.1 104.5 L314.1 105.5 L314.1 106.5 L314.2 107.5 L314.2 108.5 L314.2 109.5 L314.3 110.5 L314.3 111.5 L314.4 112.5 L314.4 113.5 L314.5 114.5 L314.5 115.5 L314.6 116.5 L314.7 117.5 L314.7 118.5 L314.7 119.5 L314.8 120.5 L314.8 121.5 L314.9 122.5 L314.9 123.5 L315 124.5 L315 125.5 L315.1 126.5 L315.1 127.5 L315.2 128.5 L315.3 129.5 L315.3 130.5 L315.4 131.5 L315.4 132.5 L315.5 133.5 L315.6 134.5 L315.6 135.5 L315.7 136.5 L315.8 137.5 L315.9 138.5 L316 139.5 L316.1 140.5 L316.2 141.5 L316.3 142.5 L316.4 143.5 L316.5 144.5 L316.6 145.5 L316.7 146.5 L316.9 147.5 L317 148.5 L317 150.5 L366.5 150.5 L366.5 148.5 L366.6 147.5 L366.7 146.5 L366.8 145.5 L366.9 144.5 L367.1 143.5 L367.3 142.5 L367.5 141.5 L367.7 140.5 L367.9 139.5 L368 138.5 L368.1 137.5 L368.2 136.5 L368.2 135.5 L368.2 134.5 L368.3 133.5 L368.3 132.5 L368.3 131.5 L368.3 130.5 L368.4 129.5 L368.4 128.5 L368.4 127.5 L368.5 126.5 L368.6 125.5 L368.6 124.5 L368.7 123.5 L368.8 122.5 L368.8 121.5 L368.9 120.5 L368.9 119.5 L369 118.5 L369 117.5 L369.1 116.5 L369.1 115.5 L369.2 114.5 L369.2 113.5 L369.2 112.5 L369.3 111.5 L369.3 110.5 L369.4 109.5 L369.4 108.5 L369.4 107.5 L369.5 106.5 L369.5 105.5 L369.5 104.5 L369.6 103.5 L369.6 102.5 L369.6 101.5 L369.7 100.5 L369.7 99.5 L369.8 98.5 L369.8 97.5 L369.8 96.5 L369.9 95.5 L369.9 94.5 L369.9 93.5 L370 91 L369.9 90 L369.9 89 L369.9 88 L369.8 87 L369.8 86 L369.8 85 L369.7 84 L369.7 83 L369.6 82 L369.6 81 L369.6 80 L369.5 79 L369.5 78 L369.5 77 L369.4 76 L369.4 75 L369.4 74 L369.3 73 L369.3 72 L369.2 71 L369.2 70 L369.2 69 L369.1 68 L369.1 67 L369 66 L369 65 L368.9 64 L368.9 63 L368.8 62 L368.8 61 L368.7 60 L368.6 59 L368.6 58 L368.5 57 L368.4 56 L368.4 55 L368.4 54 L368.3 53 L368.3 52 L368.3 51 L368.3 50 L368.2 49 L368.2 48 L368.2 47 L368.1 46 L368 45 L367.9 44 L367.7 43 L367.5 42 L367.3 41 L367.1 40 L366.9 39 L366.8 38 L366.7 37 L366.6 36 L366.5 35 L366.5 33Z" fill="#00a842"/>
<path d="M432.6 33 L432.6 35 L432.7 36 L432.9 37 L433 38 L433.1 39 L433.2 40 L433.3 41 L433.4 42 L433.5 43 L433.6 44 L433.7 45 L433.8 46 L433.9 47 L434 48 L434 49 L434.1 50 L434.2 51 L434.2 52 L434.3 53 L434.3 54 L434.4 55 L434.5 56 L434.5 57 L434.6 58 L434.6 59 L434.7 60 L434.7 61 L434.8 62 L434.8 63 L434.9 64 L434.9 65 L434.9 66 L435 67 L435.1 68 L435.1 69 L435.2 70 L435.2 71 L435.3 72 L435.3 73 L435.4 74 L435.4 75 L435.4 76 L435.5 77 L435.5 78 L435.5 79 L435.5 80 L435.6 81 L435.6 82 L435.6 83 L435.6 84 L435.6 85 L435.7 86 L435.7 87 L435.7 88 L435.7 89 L435.7 90 L435.7 91 L435.7 93.5 L435.7 94.5 L435.7 95.5 L435.7 96.5 L435.7 97.5 L435.6 98.5 L435.6 99.5 L435.6 100.5 L435.6 101.5 L435.6 102.5 L435.5 103.5 L435.5 104.5 L435.5 105.5 L435.5 106.5 L435.4 107.5 L435.4 108.5 L435.4 109.5 L435.3 110.5 L435.3 111.5 L435.2 112.5 L435.2 113.5 L435.1 114.5 L435.1 115.5 L435 116.5 L434.9 117.5 L434.9 118.5 L434.9 119.5 L434.8 120.5 L434.8 121.5 L434.7 122.5 L434.7 123.5 L434.6 124.5 L434.6 125.5 L434.5 126.5 L434.5 127.5 L434.4 128.5 L434.3 129.5 L434.3 130.5 L434.2 131.5 L434.2 132.5 L434.1 133.5 L434 134.5 L434 135.5 L433.9 136.5 L433.8 137.5 L433.7 138.5 L433.6 139.5 L433.5 140.5 L433.4 141.5 L433.3 142.5 L433.2 143.5 L433.1 144.5 L433 145.5 L432.9 146.5 L432.7 147.5 L432.6 148.5 L432.6 150.5 L383.1 150.5 L383.1 148.5 L383 147.5 L382.9 146.5 L382.8 145.5 L382.7 144.5 L382.5 143.5 L382.3 142.5 L382.1 141.5 L381.9 140.5 L381.7 139.5 L381.6 138.5 L381.5 137.5 L381.4 136.5 L381.4 135.5 L381.4 134.5 L381.3 133.5 L381.3 132.5 L381.3 131.5 L381.3 130.5 L381.2 129.5 L381.2 128.5 L381.2 127.5 L381.1 126.5 L381 125.5 L381 124.5 L380.9 123.5 L380.8 122.5 L380.8 121.5 L380.7 120.5 L380.7 119.5 L380.6 118.5 L380.6 117.5 L380.5 116.5 L380.5 115.5 L380.4 114.5 L380.4 113.5 L380.4 112.5 L380.3 111.5 L380.3 110.5 L380.2 109.5 L380.2 108.5 L380.2 107.5 L380.1 106.5 L380.1 105.5 L380.1 104.5 L380 103.5 L380 102.5 L380 101.5 L379.9 100.5 L379.9 99.5 L379.8 98.5 L379.8 97.5 L379.8 96.5 L379.7 95.5 L379.7 94.5 L379.7 93.5 L379.6 91 L379.7 90 L379.7 89 L379.7 88 L379.8 87 L379.8 86 L379.8 85 L379.9 84 L379.9 83 L380 82 L380 81 L380 80 L380.1 79 L380.1 78 L380.1 77 L380.2 76 L380.2 75 L380.2 74 L380.3 73 L380.3 72 L380.4 71 L380.4 70 L380.4 69 L380.5 68 L380.5 67 L380.6 66 L380.6 65 L380.7 64 L380.7 63 L380.8 62 L380.8 61 L380.9 60 L381 59 L381 58 L381.1 57 L381.2 56 L381.2 55 L381.2 54 L381.3 53 L381.3 52 L381.3 51 L381.3 50 L381.4 49 L381.4 48 L381.4 47 L381.5 46 L381.6 45 L381.7 44 L381.9 43 L382.1 42 L382.3 41 L382.5 40 L382.7 39 L382.8 38 L382.9 37 L383 36 L383.1 35 L383.1 33Z" fill="#00a842"/>
<path d="M322.5 33 L322.5 35 L322.4 36 L322.2 37 L322 38 L321.7 39 L321.4 40 L321 41 L320.6 42 L320.2 43 L319.8 44 L319.5 45 L319.3 46 L319.1 47 L319 48 L318.9 49 L318.8 50 L318.7 51 L318.5 52 L318.4 53 L318.3 54 L318.2 55 L318 56 L317.9 57 L317.7 58 L317.5 59 L317.3 60 L317.1 61 L316.9 62 L316.8 63 L316.7 64 L316.6 65 L316.6 66 L316.5 67 L316.5 68 L316.5 69 L316.4 70 L316.4 71 L316.4 72 L316.4 73 L316.4 74 L316.4 75 L316.3 76 L316.3 77 L316.3 78 L316.3 79 L316.3 80 L316.2 81 L316.2 82 L316.2 83 L316.2 84 L316.1 85 L316.1 86 L316.1 87 L316.1 88 L316.1 89 L316 90 L316 91 L316 93.5 L316.1 94.5 L316.1 95.5 L316.1 96.5 L316.1 97.5 L316.1 98.5 L316.2 99.5 L316.2 100.5 L316.2 101.5 L316.2 102.5 L316.3 103.5 L316.3 104.5 L316.3 105.5 L316.3 106.5 L316.3 107.5 L316.4 108.5 L316.4 109.5 L316.4 110.5 L316.4 111.5 L316.4 112.5 L316.4 113.5 L316.5 114.5 L316.5 115.5 L316.5 116.5 L316.6 117.5 L316.6 118.5 L316.7 119.5 L316.8 120.5 L316.9 121.5 L317.1 122.5 L317.3 123.5 L317.5 124.5 L317.7 125.5 L317.9 126.5 L318 127.5 L318.2 128.5 L318.3 129.5 L318.4 130.5 L318.5 131.5 L318.7 132.5 L318.8 133.5 L318.9 134.5 L319 135.5 L319.1 136.5 L319.3 137.5 L319.5 138.5 L319.8 139.5 L320.2 140.5 L320.6 141.5 L321 142.5 L321.4 143.5 L321.7 144.5 L322 145.5 L322.2 146.5 L322.4 147.5 L322.5 148.5 L322.5 150.5 L361.5 150.5 L361.5 148.5 L361.6 147.5 L361.8 146.5 L362 145.5 L362.3 144.5 L362.6 143.5 L362.9 142.5 L363.3 141.5 L363.7 140.5 L364.1 139.5 L364.4 138.5 L364.7 137.5 L364.9 136.5 L365.1 135.5 L365.3 134.5 L365.5 133.5 L365.7 132.5 L365.9 131.5 L366 130.5 L366.2 129.5 L366.3 128.5 L366.4 127.5 L366.6 126.5 L366.7 125.5 L366.9 124.5 L367 123.5 L367.1 122.5 L367.2 121.5 L367.3 120.5 L367.4 119.5 L367.4 118.5 L367.4 117.5 L367.4 116.5 L367.4 115.5 L367.4 114.5 L367.4 113.5 L367.4 112.5 L367.4 111.5 L367.4 110.5 L367.4 109.5 L367.4 108.5 L367.4 107.5 L367.4 106.5 L367.4 105.5 L367.4 104.5 L367.4 103.5 L367.4 102.5 L367.4 101.5 L367.4 100.5 L367.4 99.5 L367.4 98.5 L367.4 97.5 L367.4 96.5 L367.4 95.5 L367.4 94.5 L367.4 93.5 L367.4 91 L367.4 90 L367.4 89 L367.4 88 L367.4 87 L367.4 86 L367.4 85 L367.4 84 L367.4 83 L367.4 82 L367.4 81 L367.4 80 L367.4 79 L367.4 78 L367.4 77 L367.4 76 L367.4 75 L367.4 74 L367.4 73 L367.4 72 L367.4 71 L367.4 70 L367.4 69 L367.4 68 L367.4 67 L367.4 66 L367.4 65 L367.4 64 L367.3 63 L367.2 62 L367.1 61 L367 60 L366.9 59 L366.7 58 L366.6 57 L366.4 56 L366.3 55 L366.2 54 L366 53 L365.9 52 L365.7 51 L365.5 50 L365.3 49 L365.1 48 L364.9 47 L364.7 46 L364.4 45 L364.1 44 L363.7 43 L363.3 42 L362.9 41 L362.6 40 L362.3 39 L362 38 L361.8 37 L361.6 36 L361.5 35 L361.5 33Z" fill="#00a898"/>
<path d="M427.1 33 L427.1 35 L427.2 36 L427.4 37 L427.6 38 L427.9 39 L428.2 40 L428.6 41 L429 42 L429.4 43 L429.8 44 L430.1 45 L430.3 46 L430.5 47 L430.6 48 L430.7 49 L430.8 50 L430.9 51 L431.1 52 L431.2 53 L431.3 54 L431.4 55 L431.6 56 L431.7 57 L431.9 58 L432.1 59 L432.3 60 L432.5 61 L432.7 62 L432.8 63 L432.9 64 L433 65 L433 66 L433.1 67 L433.1 68 L433.1 69 L433.2 70 L433.2 71 L433.2 72 L433.2 73 L433.2 74 L433.2 75 L433.3 76 L433.3 77 L433.3 78 L433.3 79 L433.3 80 L433.4 81 L433.4 82 L433.4 83 L433.4 84 L433.5 85 L433.5 86 L433.5 87 L433.5 88 L433.5 89 L433.6 90 L433.6 91 L433.6 93.5 L433.5 94.5 L433.5 95.5 L433.5 96.5 L433.5 97.5 L433.5 98.5 L433.4 99.5 L433.4 100.5 L433.4 101.5 L433.4 102.5 L433.3 103.5 L433.3 104.5 L433.3 105.5 L433.3 106.5 L433.3 107.5 L433.2 108.5 L433.2 109.5 L433.2 110.5 L433.2 111.5 L433.2 112.5 L433.2 113.5 L433.1 114.5 L433.1 115.5 L433.1 116.5 L433 117.5 L433 118.5 L432.9 119.5 L432.8 120.5 L432.7 121.5 L432.5 122.5 L432.3 123.5 L432.1 124.5 L431.9 125.5 L431.7 126.5 L431.6 127.5 L431.4 128.5 L431.3 129.5 L431.2 130.5 L431.1 131.5 L430.9 132.5 L430.8 133.5 L430.7 134.5 L430.6 135.5 L430.5 136.5 L430.3 137.5 L430.1 138.5 L429.8 139.5 L429.4 140.5 L429 141.5 L428.6 142.5 L428.2 143.5 L427.9 144.5 L427.6 145.5 L427.4 146.5 L427.2 147.5 L427.1 148.5 L427.1 150.5 L388.1 150.5 L388.1 148.5 L388 147.5 L387.8 146.5 L387.6 145.5 L387.3 144.5 L387 143.5 L386.7 142.5 L386.3 141.5 L385.9 140.5 L385.5 139.5 L385.2 138.5 L384.9 137.5 L384.7 136.5 L384.5 135.5 L384.3 134.5 L384.1 133.5 L383.9 132.5 L383.7 131.5 L383.6 130.5 L383.4 129.5 L383.3 128.5 L383.2 127.5 L383 126.5 L382.9 125.5 L382.7 124.5 L382.6 123.5 L382.5 122.5 L382.4 121.5 L382.3 120.5 L382.2 119.5 L382.2 118.5 L382.2 117.5 L382.2 116.5 L382.2 115.5 L382.2 114.5 L382.2 113.5 L382.2 112.5 L382.2 111.5 L382.2 110.5 L382.2 109.5 L382.2 108.5 L382.2 107.5 L382.2 106.5 L382.2 105.5 L382.2 104.5 L382.2 103.5 L382.2 102.5 L382.2 101.5 L382.2 100.5 L382.2 99.5 L382.2 98.5 L382.2 97.5 L382.2 96.5 L382.2 95.5 L382.2 94.5 L382.2 93.5 L382.2 91 L382.2 90 L382.2 89 L382.2 88 L382.2 87 L382.2 86 L382.2 85 L382.2 84 L382.2 83 L382.2 82 L382.2 81 L382.2 80 L382.2 79 L382.2 78 L382.2 77 L382.2 76 L382.2 75 L382.2 74 L382.2 73 L382.2 72 L382.2 71 L382.2 70 L382.2 69 L382.2 68 L382.2 67 L382.2 66 L382.2 65 L382.2 64 L382.3 63 L382.4 62 L382.5 61 L382.6 60 L382.7 59 L382.9 58 L383 57 L383.2 56 L383.3 55 L383.4 54 L383.6 53 L383.7 52 L383.9 51 L384.1 50 L384.3 49 L384.5 48 L384.7 47 L384.9 46 L385.2 45 L385.5 44 L385.9 43 L386.3 42 L386.7 41 L387 40 L387.3 39 L387.6 38 L387.8 37 L388 36 L388.1 35 L388.1 33Z" fill="#00a898"/>
<path d="M365.3 91.8 L365.3 97.5 L365.2 101.5 L365.1 105.1 L364.9 108.3 L364.7 111.4 L364.4 114.3 L364.1 117 L363.8 119.6 L363.3 122 L362.9 124.3 L362.4 126.6 L361.8 128.7 L361.2 130.7 L360.6 132.5 L359.9 134.3 L359.2 136 L358.4 137.5 L357.6 138.9 L356.7 140.3 L355.8 141.5 L354.8 142.6 L353.8 143.6 L352.7 144.4 L351.6 145.2 L350.4 145.8 L349.2 146.4 L347.8 146.8 L346.3 147.1 L344.7 147.2 L342.3 147.3 L339.9 147.2 L338.3 147.1 L336.8 146.8 L335.4 146.4 L334.2 145.8 L333 145.2 L331.9 144.4 L330.8 143.6 L329.8 142.6 L328.8 141.5 L327.9 140.3 L327 138.9 L326.2 137.5 L325.4 136 L324.7 134.3 L324 132.5 L323.4 130.7 L322.8 128.7 L322.2 126.6 L321.7 124.3 L321.3 122 L320.8 119.6 L320.5 117 L320.2 114.3 L319.9 111.4 L319.7 108.3 L319.5 105.1 L319.4 101.5 L319.3 97.5 L319.3 91.8 L319.3 86 L319.4 82 L319.5 78.4 L319.7 75.2 L319.9 72.1 L320.2 69.2 L320.5 66.5 L320.8 63.9 L321.3 61.5 L321.7 59.2 L322.2 56.9 L322.8 54.8 L323.4 52.8 L324 51 L324.7 49.2 L325.4 47.5 L326.2 46 L327 44.6 L327.9 43.2 L328.8 42 L329.8 40.9 L330.8 39.9 L331.9 39.1 L333 38.3 L334.2 37.7 L335.4 37.1 L336.8 36.7 L338.3 36.4 L339.9 36.3 L342.3 36.2 L344.7 36.3 L346.3 36.4 L347.8 36.7 L349.2 37.1 L350.4 37.7 L351.6 38.3 L352.7 39.1 L353.8 39.9 L354.8 40.9 L355.8 42 L356.7 43.2 L357.6 44.6 L358.4 46 L359.2 47.5 L359.9 49.2 L360.6 51 L361.2 52.8 L361.8 54.8 L362.4 56.9 L362.9 59.2 L363.3 61.5 L363.8 63.9 L364.1 66.5 L364.4 69.2 L364.7 72.1 L364.9 75.2 L365.1 78.4 L365.2 82 L365.3 86Z" fill="#0077a8"/>
<path d="M384.3 91.8 L384.3 97.5 L384.4 101.5 L384.5 105.1 L384.7 108.3 L384.9 111.4 L385.2 114.3 L385.5 117 L385.8 119.6 L386.3 122 L386.7 124.3 L387.2 126.6 L387.8 128.7 L388.4 130.7 L389 132.5 L389.7 134.3 L390.4 136 L391.2 137.5 L392 138.9 L392.9 140.3 L393.8 141.5 L394.8 142.6 L395.8 143.6 L396.9 144.4 L398 145.2 L399.2 145.8 L400.4 146.4 L401.8 146.8 L403.3 147.1 L404.9 147.2 L407.3 147.3 L409.7 147.2 L411.3 147.1 L412.8 146.8 L414.2 146.4 L415.4 145.8 L416.6 145.2 L417.7 144.4 L418.8 143.6 L419.8 142.6 L420.8 141.5 L421.7 140.3 L422.6 138.9 L423.4 137.5 L424.2 136 L424.9 134.3 L425.6 132.5 L426.2 130.7 L426.8 128.7 L427.4 126.6 L427.9 124.3 L428.3 122 L428.8 119.6 L429.1 117 L429.4 114.3 L429.7 111.4 L429.9 108.3 L430.1 105.1 L430.2 101.5 L430.3 97.5 L430.3 91.8 L430.3 86 L430.2 82 L430.1 78.4 L429.9 75.2 L429.7 72.1 L429.4 69.2 L429.1 66.5 L428.8 63.9 L428.3 61.5 L427.9 59.2 L427.4 56.9 L426.8 54.8 L426.2 52.8 L425.6 51 L424.9 49.2 L424.2 47.5 L423.4 46 L422.6 44.6 L421.7 43.2 L420.8 42 L419.8 40.9 L418.8 39.9 L417.7 39.1 L416.6 38.3 L415.4 37.7 L414.2 37.1 L412.8 36.7 L411.3 36.4 L409.7 36.3 L407.3 36.2 L404.9 36.3 L403.3 36.4 L401.8 36.7 L400.4 37.1 L399.2 37.7 L398 38.3 L396.9 39.1 L395.8 39.9 L394.8 40.9 L393.8 42 L392.9 43.2 L392 44.6 L391.2 46 L390.4 47.5 L389.7 49.2 L389 51 L388.4 52.8 L387.8 54.8 L387.2 56.9 L386.7 59.2 L386.3 61.5 L385.8 63.9 L385.5 66.5 L385.2 69.2 L384.9 72.1 L384.7 75.2 L384.5 78.4 L384.4 82 L384.3 86Z" fill="#0077a8"/>
<path d="M359.2 91.8 L359.2 94 L359.1 96.2 L359 98.4 L358.8 100.6 L358.6 102.8 L358.4 104.9 L358.1 107 L357.7 109.1 L357.4 111.1 L356.9 113.1 L356.5 115 L356 116.8 L355.4 118.6 L354.9 120.3 L354.3 121.9 L353.6 123.4 L352.9 124.9 L352.2 126.3 L351.5 127.5 L350.8 128.7 L350 129.8 L349.2 130.7 L348.4 131.6 L347.5 132.3 L346.7 132.9 L345.8 133.5 L344.9 133.9 L344.1 134.2 L343.2 134.3 L342.3 134.4 L341.4 134.3 L340.5 134.2 L339.7 133.9 L338.8 133.5 L337.9 132.9 L337.1 132.3 L336.2 131.6 L335.4 130.7 L334.6 129.8 L333.9 128.7 L333.1 127.5 L332.4 126.3 L331.7 124.9 L331 123.4 L330.3 121.9 L329.7 120.3 L329.2 118.6 L328.6 116.8 L328.1 115 L327.7 113.1 L327.2 111.1 L326.9 109.1 L326.5 107 L326.2 104.9 L326 102.8 L325.8 100.6 L325.6 98.4 L325.5 96.2 L325.4 94 L325.4 91.8 L325.4 89.5 L325.5 87.3 L325.6 85.1 L325.8 82.9 L326 80.7 L326.2 78.6 L326.5 76.5 L326.9 74.4 L327.2 72.4 L327.7 70.4 L328.1 68.5 L328.6 66.7 L329.2 64.9 L329.7 63.2 L330.3 61.6 L331 60.1 L331.7 58.6 L332.4 57.2 L333.1 56 L333.9 54.8 L334.6 53.7 L335.4 52.8 L336.2 51.9 L337.1 51.2 L337.9 50.6 L338.8 50 L339.7 49.6 L340.5 49.3 L341.4 49.2 L342.3 49.1 L343.2 49.2 L344.1 49.3 L344.9 49.6 L345.8 50 L346.7 50.6 L347.5 51.2 L348.4 51.9 L349.2 52.8 L350 53.7 L350.8 54.8 L351.5 56 L352.2 57.2 L352.9 58.6 L353.6 60.1 L354.3 61.6 L354.9 63.2 L355.4 64.9 L356 66.7 L356.5 68.5 L356.9 70.4 L357.4 72.4 L357.7 74.4 L358.1 76.5 L358.4 78.6 L358.6 80.7 L358.8 82.9 L359 85.1 L359.1 87.3 L359.2 89.5Z" fill="#0000a8"/>
<path d="M390.4 91.8 L390.4 94 L390.5 96.2 L390.6 98.4 L390.8 100.6 L391 102.8 L391.2 104.9 L391.5 107 L391.9 109.1 L392.2 111.1 L392.7 113.1 L393.1 115 L393.6 116.8 L394.2 118.6 L394.7 120.3 L395.3 121.9 L396 123.4 L396.7 124.9 L397.4 126.3 L398.1 127.5 L398.9 128.7 L399.6 129.8 L400.4 130.7 L401.2 131.6 L402.1 132.3 L402.9 132.9 L403.8 133.5 L404.7 133.9 L405.5 134.2 L406.4 134.3 L407.3 134.4 L408.2 134.3 L409.1 134.2 L409.9 133.9 L410.8 133.5 L411.7 132.9 L412.5 132.3 L413.4 131.6 L414.2 130.7 L415 129.8 L415.8 128.7 L416.5 127.5 L417.2 126.3 L417.9 124.9 L418.6 123.4 L419.3 121.9 L419.9 120.3 L420.4 118.6 L421 116.8 L421.5 115 L421.9 113.1 L422.4 111.1 L422.7 109.1 L423.1 107 L423.4 104.9 L423.6 102.8 L423.8 100.6 L424 98.4 L424.1 96.2 L424.2 94 L424.2 91.8 L424.2 89.5 L424.1 87.3 L424 85.1 L423.8 82.9 L423.6 80.7 L423.4 78.6 L423.1 76.5 L422.7 74.4 L422.4 72.4 L421.9 70.4 L421.5 68.5 L421 66.7 L420.4 64.9 L419.9 63.2 L419.3 61.6 L418.6 60.1 L417.9 58.6 L417.2 57.2 L416.5 56 L415.8 54.8 L415 53.7 L414.2 52.8 L413.4 51.9 L412.5 51.2 L411.7 50.6 L410.8 50 L409.9 49.6 L409.1 49.3 L408.2 49.2 L407.3 49.1 L406.4 49.2 L405.5 49.3 L404.7 49.6 L403.8 50 L402.9 50.6 L402.1 51.2 L401.2 51.9 L400.4 52.8 L399.6 53.7 L398.9 54.8 L398.1 56 L397.4 57.2 L396.7 58.6 L396 60.1 L395.3 61.6 L394.7 63.2 L394.2 64.9 L393.6 66.7 L393.1 68.5 L392.7 70.4 L392.2 72.4 L391.9 74.4 L391.5 76.5 L391.2 78.6 L391 80.7 L390.8 82.9 L390.6 85.1 L390.5 87.3 L390.4 89.5Z" fill="#0000a8"/>
</g>
<path d="M384.9 91.1 L404 91.1 L408 96.2 L404 101.3 L384.9 101.3Z" fill="#0000ff"/>
<circle cx="408.7" cy="96.2" r="0.6" fill="#5a5040"/>
<text transform="translate(387.2 99.4) scale(0.95 1)" class="mn">Min</text>
<clipPath id="c2"><rect x="537" y="32" width="146.3" height="121.4"/></clipPath>
<g clip-path="url(#c2)">
<rect x="537" y="32" width="146.3" height="121.4" fill="#a80000"/>
<path d="M546.5 30 L546.5 32 L546.4 33 L546.3 34 L546.2 35 L546.1 36 L546 37 L545.9 38 L545.8 39 L545.6 40 L545.5 41 L545.4 42 L545.2 43 L545.1 44 L544.9 45 L544.8 46 L544.6 47 L544.4 48 L544.1 49 L543.9 50 L543.7 51 L543.5 52 L543.3 53 L543.1 54 L542.9 55 L542.7 56 L542.5 57 L542.4 58 L542.2 59 L542 60 L541.8 61 L541.6 62 L541.5 63 L541.3 64 L541.2 65 L541 66 L540.9 67 L540.8 68 L540.7 69 L540.6 70 L540.5 71 L540.4 72 L540.3 73 L540.2 74 L540.1 75 L540.1 76 L540 77 L539.9 78 L539.9 79 L539.8 80 L539.7 81 L539.7 82 L539.7 83 L539.6 84 L539.6 85 L539.5 86 L539.5 87 L539.5 88 L539.5 89 L539.4 90 L539.4 91 L539.4 92 L539.4 94.4 L539.4 95.4 L539.5 96.4 L539.5 97.4 L539.5 98.4 L539.5 99.4 L539.6 100.4 L539.6 101.4 L539.7 102.4 L539.7 103.4 L539.7 104.4 L539.8 105.4 L539.9 106.4 L539.9 107.4 L540 108.4 L540.1 109.4 L540.1 110.4 L540.2 111.4 L540.3 112.4 L540.4 113.4 L540.5 114.4 L540.6 115.4 L540.7 116.4 L540.8 117.4 L540.9 118.4 L541 119.4 L541.2 120.4 L541.3 121.4 L541.5 122.4 L541.6 123.4 L541.8 124.4 L542 125.4 L542.2 126.4 L542.4 127.4 L542.5 128.4 L542.7 129.4 L542.9 130.4 L543.1 131.4 L543.3 132.4 L543.5 133.4 L543.7 134.4 L543.9 135.4 L544.1 136.4 L544.4 137.4 L544.6 138.4 L544.8 139.4 L544.9 140.4 L545.1 141.4 L545.2 142.4 L545.4 143.4 L545.5 144.4 L545.6 145.4 L545.8 146.4 L545.9 147.4 L546 148.4 L546.1 149.4 L546.2 150.4 L546.3 151.4 L546.4 152.4 L546.5 153.4 L546.5 155.4 L673.8 155.4 L673.8 153.4 L673.9 152.4 L674 151.4 L674.1 150.4 L674.2 149.4 L674.3 148.4 L674.4 147.4 L674.5 146.4 L674.7 145.4 L674.8 144.4 L674.9 143.4 L675.1 142.4 L675.2 141.4 L675.4 140.4 L675.5 139.4 L675.7 138.4 L675.9 137.4 L676.2 136.4 L676.4 135.4 L676.6 134.4 L676.8 133.4 L677 132.4 L677.2 131.4 L677.4 130.4 L677.6 129.4 L677.8 128.4 L677.9 127.4 L678.1 126.4 L678.3 125.4 L678.5 124.4 L678.7 123.4 L678.8 122.4 L679 121.4 L679.1 120.4 L679.3 119.4 L679.4 118.4 L679.5 117.4 L679.6 116.4 L679.7 115.4 L679.8 114.4 L679.9 113.4 L680 112.4 L680.1 111.4 L680.2 110.4 L680.2 109.4 L680.3 108.4 L680.4 107.4 L680.4 106.4 L680.5 105.4 L680.6 104.4 L680.6 103.4 L680.6 102.4 L680.7 101.4 L680.7 100.4 L680.8 99.4 L680.8 98.4 L680.8 97.4 L680.8 96.4 L680.9 95.4 L680.9 94.4 L680.9 92 L680.9 91 L680.9 90 L680.8 89 L680.8 88 L680.8 87 L680.8 86 L680.7 85 L680.7 84 L680.6 83 L680.6 82 L680.6 81 L680.5 80 L680.4 79 L680.4 78 L680.3 77 L680.2 76 L680.2 75 L680.1 74 L680 73 L679.9 72 L679.8 71 L679.7 70 L679.6 69 L679.5 68 L679.4 67 L679.3 66 L679.1 65 L679 64 L678.8 63 L678.7 62 L678.5 61 L678.3 60 L678.1 59 L677.9 58 L677.8 57 L677.6 56 L677.4 55 L677.2 54 L677 53 L676.8 52 L676.6 51 L676.4 50 L676.2 49 L675.9 48 L675.7 47 L675.5 46 L675.4 45 L675.2 44 L675.1 43 L674.9 42 L674.8 41 L674.7 40 L674.5 39 L674.4 38 L674.3 37 L674.2 36 L674.1 35 L674 34 L673.9 33 L673.8 32 L673.8 30Z" fill="#a87700"/>
<path d="M548.5 30 L548.5 32 L548.4 33 L548.4 34 L548.3 35 L548.2 36 L548.1 37 L548.1 38 L548 39 L547.9 40 L547.8 41 L547.7 42 L547.6 43 L547.6 44 L547.6 45 L547.5 46 L547.5 47 L547.5 48 L547.4 49 L547.4 50 L547.4 51 L547.4 52 L547.4 53 L547.3 54 L547.3 55 L547.3 56 L547.2 57 L547.2 58 L547.2 59 L547.1 60 L547.1 61 L547.1 62 L547 63 L547 64 L547 65 L546.9 66 L546.9 67 L546.9 68 L546.9 69 L546.9 70 L546.8 71 L546.8 72 L546.8 73 L546.8 74 L546.8 75 L546.7 76 L546.7 77 L546.7 78 L546.7 79 L546.7 80 L546.7 81 L546.7 82 L546.7 83 L546.7 84 L546.7 85 L546.7 86 L546.7 87 L546.7 88 L546.7 89 L546.7 90 L546.7 91 L546.7 92 L546.7 94.4 L546.7 95.4 L546.7 96.4 L546.7 97.4 L546.7 98.4 L546.7 99.4 L546.7 100.4 L546.7 101.4 L546.7 102.4 L546.7 103.4 L546.7 104.4 L546.7 105.4 L546.7 106.4 L546.7 107.4 L546.7 108.4 L546.7 109.4 L546.8 110.4 L546.8 111.4 L546.8 112.4 L546.8 113.4 L546.8 114.4 L546.9 115.4 L546.9 116.4 L546.9 117.4 L546.9 118.4 L546.9 119.4 L547 120.4 L547 121.4 L547 122.4 L547.1 123.4 L547.1 124.4 L547.1 125.4 L547.2 126.4 L547.2 127.4 L547.2 128.4 L547.3 129.4 L547.3 130.4 L547.3 131.4 L547.4 132.4 L547.4 133.4 L547.4 134.4 L547.4 135.4 L547.4 136.4 L547.5 137.4 L547.5 138.4 L547.5 139.4 L547.6 140.4 L547.6 141.4 L547.6 142.4 L547.7 143.4 L547.8 144.4 L547.9 145.4 L548 146.4 L548.1 147.4 L548.1 148.4 L548.2 149.4 L548.3 150.4 L548.4 151.4 L548.4 152.4 L548.5 153.4 L548.5 155.4 L671.8 155.4 L671.8 153.4 L671.9 152.4 L671.9 151.4 L672 150.4 L672.1 149.4 L672.2 148.4 L672.2 147.4 L672.3 146.4 L672.4 145.4 L672.5 144.4 L672.6 143.4 L672.7 142.4 L672.7 141.4 L672.7 140.4 L672.8 139.4 L672.8 138.4 L672.8 137.4 L672.9 136.4 L672.9 135.4 L672.9 134.4 L672.9 133.4 L672.9 132.4 L673 131.4 L673 130.4 L673 129.4 L673.1 128.4 L673.1 127.4 L673.1 126.4 L673.2 125.4 L673.2 124.4 L673.2 123.4 L673.3 122.4 L673.3 121.4 L673.3 120.4 L673.4 119.4 L673.4 118.4 L673.4 117.4 L673.4 116.4 L673.4 115.4 L673.5 114.4 L673.5 113.4 L673.5 112.4 L673.5 111.4 L673.5 110.4 L673.6 109.4 L673.6 108.4 L673.6 107.4 L673.6 106.4 L673.6 105.4 L673.6 104.4 L673.6 103.4 L673.6 102.4 L673.6 101.4 L673.6 100.4 L673.6 99.4 L673.6 98.4 L673.6 97.4 L673.6 96.4 L673.6 95.4 L673.6 94.4 L673.6 92 L673.6 91 L673.6 90 L673.6 89 L673.6 88 L673.6 87 L673.6 86 L673.6 85 L673.6 84 L673.6 83 L673.6 82 L673.6 81 L673.6 80 L673.6 79 L673.6 78 L673.6 77 L673.6 76 L673.5 75 L673.5 74 L673.5 73 L673.5 72 L673.5 71 L673.4 70 L673.4 69 L673.4 68 L673.4 67 L673.4 66 L673.3 65 L673.3 64 L673.3 63 L673.2 62 L673.2 61 L673.2 60 L673.1 59 L673.1 58 L673.1 57 L673 56 L673 55 L673 54 L672.9 53 L672.9 52 L672.9 51 L672.9 50 L672.9 49 L672.8 48 L672.8 47 L672.8 46 L672.7 45 L672.7 44 L672.7 43 L672.6 42 L672.5 41 L672.4 40 L672.3 39 L672.2 38 L672.2 37 L672.1 36 L672 35 L671.9 34 L671.9 33 L671.8 32 L671.8 30Z" fill="#98a800"/>
<path d="M551.5 30 L551.5 32 L551.3 33 L551.2 34 L551 35 L550.9 36 L550.7 37 L550.6 38 L550.5 39 L550.4 40 L550.3 41 L550.2 42 L550.1 43 L550 44 L549.9 45 L549.9 46 L549.8 47 L549.7 48 L549.7 49 L549.6 50 L549.6 51 L549.5 52 L549.5 53 L549.4 54 L549.4 55 L549.4 56 L549.3 57 L549.3 58 L549.2 59 L549.2 60 L549.1 61 L549.1 62 L549.1 63 L549 64 L549 65 L549 66 L548.9 67 L548.9 68 L548.9 69 L548.9 70 L548.8 71 L548.8 72 L548.8 73 L548.8 74 L548.8 75 L548.8 76 L548.8 77 L548.7 78 L548.7 79 L548.7 80 L548.7 81 L548.7 82 L548.7 83 L548.7 84 L548.7 85 L548.7 86 L548.6 87 L548.6 88 L548.6 89 L548.6 90 L548.6 91 L548.6 92 L548.6 94.4 L548.6 95.4 L548.6 96.4 L548.6 97.4 L548.6 98.4 L548.7 99.4 L548.7 100.4 L548.7 101.4 L548.7 102.4 L548.7 103.4 L548.7 104.4 L548.7 105.4 L548.7 106.4 L548.7 107.4 L548.8 108.4 L548.8 109.4 L548.8 110.4 L548.8 111.4 L548.8 112.4 L548.8 113.4 L548.8 114.4 L548.9 115.4 L548.9 116.4 L548.9 117.4 L548.9 118.4 L549 119.4 L549 120.4 L549 121.4 L549.1 122.4 L549.1 123.4 L549.1 124.4 L549.2 125.4 L549.2 126.4 L549.3 127.4 L549.3 128.4 L549.4 129.4 L549.4 130.4 L549.4 131.4 L549.5 132.4 L549.5 133.4 L549.6 134.4 L549.6 135.4 L549.7 136.4 L549.7 137.4 L549.8 138.4 L549.9 139.4 L549.9 140.4 L550 141.4 L550.1 142.4 L550.2 143.4 L550.3 144.4 L550.4 145.4 L550.5 146.4 L550.6 147.4 L550.7 148.4 L550.9 149.4 L551 150.4 L551.2 151.4 L551.3 152.4 L551.5 153.4 L551.5 155.4 L668.8 155.4 L668.8 153.4 L669 152.4 L669.1 151.4 L669.3 150.4 L669.4 149.4 L669.6 148.4 L669.7 147.4 L669.8 146.4 L669.9 145.4 L670 144.4 L670.1 143.4 L670.2 142.4 L670.3 141.4 L670.4 140.4 L670.4 139.4 L670.5 138.4 L670.6 137.4 L670.6 136.4 L670.7 135.4 L670.7 134.4 L670.8 133.4 L670.8 132.4 L670.9 131.4 L670.9 130.4 L670.9 129.4 L671 128.4 L671 127.4 L671.1 126.4 L671.1 125.4 L671.2 124.4 L671.2 123.4 L671.2 122.4 L671.3 121.4 L671.3 120.4 L671.3 119.4 L671.4 118.4 L671.4 117.4 L671.4 116.4 L671.4 115.4 L671.5 114.4 L671.5 113.4 L671.5 112.4 L671.5 111.4 L671.5 110.4 L671.5 109.4 L671.5 108.4 L671.6 107.4 L671.6 106.4 L671.6 105.4 L671.6 104.4 L671.6 103.4 L671.6 102.4 L671.6 101.4 L671.6 100.4 L671.6 99.4 L671.7 98.4 L671.7 97.4 L671.7 96.4 L671.7 95.4 L671.7 94.4 L671.7 92 L671.7 91 L671.7 90 L671.7 89 L671.7 88 L671.7 87 L671.6 86 L671.6 85 L671.6 84 L671.6 83 L671.6 82 L671.6 81 L671.6 80 L671.6 79 L671.6 78 L671.5 77 L671.5 76 L671.5 75 L671.5 74 L671.5 73 L671.5 72 L671.5 71 L671.4 70 L671.4 69 L671.4 68 L671.4 67 L671.3 66 L671.3 65 L671.3 64 L671.2 63 L671.2 62 L671.2 61 L671.1 60 L671.1 59 L671 58 L671 57 L670.9 56 L670.9 55 L670.9 54 L670.8 53 L670.8 52 L670.7 51 L670.7 50 L670.6 49 L670.6 48 L670.5 47 L670.4 46 L670.4 45 L670.3 44 L670.2 43 L670.1 42 L670 41 L669.9 40 L669.8 39 L669.7 38 L669.6 37 L669.4 36 L669.3 35 L669.1 34 L669 33 L668.8 32 L668.8 30Z" fill="#3ba800"/>
<path d="M605 30 L615.5 30 L615.5 45.4 L610.2 43.4 L605 45.4Z" fill="#98a800"/>
<path d="M605 155.4 L615.5 155.4 L615.5 140 L610.2 142 L605 140Z" fill="#98a800"/>
<path d="M557 30 L557 32 L556.6 33 L556.2 34 L555.9 35 L555.6 36 L555.2 37 L554.9 38 L554.5 39 L554.2 40 L553.9 41 L553.6 42 L553.4 43 L553.2 44 L553 45 L552.9 46 L552.7 47 L552.6 48 L552.5 49 L552.4 50 L552.3 51 L552.2 52 L552.1 53 L552 54 L551.9 55 L551.8 56 L551.7 57 L551.6 58 L551.5 59 L551.4 60 L551.3 61 L551.3 62 L551.2 63 L551.1 64 L551 65 L550.9 66 L550.9 67 L550.8 68 L550.7 69 L550.7 70 L550.6 71 L550.5 72 L550.5 73 L550.4 74 L550.3 75 L550.3 76 L550.2 77 L550.2 78 L550.1 79 L550.1 80 L550 81 L550 82 L550 83 L549.9 84 L549.9 85 L549.9 86 L549.8 87 L549.8 88 L549.8 89 L549.8 90 L549.7 91 L549.7 92 L549.7 94.4 L549.8 95.4 L549.8 96.4 L549.8 97.4 L549.8 98.4 L549.9 99.4 L549.9 100.4 L549.9 101.4 L550 102.4 L550 103.4 L550 104.4 L550.1 105.4 L550.1 106.4 L550.2 107.4 L550.2 108.4 L550.3 109.4 L550.3 110.4 L550.4 111.4 L550.5 112.4 L550.5 113.4 L550.6 114.4 L550.7 115.4 L550.7 116.4 L550.8 117.4 L550.9 118.4 L550.9 119.4 L551 120.4 L551.1 121.4 L551.2 122.4 L551.3 123.4 L551.3 124.4 L551.4 125.4 L551.5 126.4 L551.6 127.4 L551.7 128.4 L551.8 129.4 L551.9 130.4 L552 131.4 L552.1 132.4 L552.2 133.4 L552.3 134.4 L552.4 135.4 L552.5 136.4 L552.6 137.4 L552.7 138.4 L552.9 139.4 L553 140.4 L553.2 141.4 L553.4 142.4 L553.6 143.4 L553.9 144.4 L554.2 145.4 L554.5 146.4 L554.9 147.4 L555.2 148.4 L555.6 149.4 L555.9 150.4 L556.2 151.4 L556.6 152.4 L557 153.4 L557 155.4 L600 155.4 L600 153.4 L600.2 152.4 L600.5 151.4 L600.7 150.4 L601 149.4 L601.4 148.4 L601.7 147.4 L602.1 146.4 L602.5 145.4 L602.9 144.4 L603.1 143.4 L603.3 142.4 L603.4 141.4 L603.4 140.4 L603.4 139.4 L603.4 138.4 L603.4 137.4 L603.4 136.4 L603.4 135.4 L603.4 134.4 L603.4 133.4 L603.4 132.4 L603.4 131.4 L603.4 130.4 L603.4 129.4 L603.4 128.4 L603.5 127.4 L603.5 126.4 L603.5 125.4 L603.6 124.4 L603.6 123.4 L603.7 122.4 L603.8 121.4 L603.8 120.4 L603.9 119.4 L603.9 118.4 L604 117.4 L604.1 116.4 L604.1 115.4 L604.2 114.4 L604.2 113.4 L604.3 112.4 L604.4 111.4 L604.4 110.4 L604.5 109.4 L604.5 108.4 L604.6 107.4 L604.7 106.4 L604.7 105.4 L604.8 104.4 L604.8 103.4 L604.8 102.4 L604.9 101.4 L604.9 100.4 L604.9 99.4 L605 98.4 L605 97.4 L605 96.4 L605 95.4 L605.1 94.4 L605.1 92 L605.1 91 L605 90 L605 89 L605 88 L605 87 L604.9 86 L604.9 85 L604.9 84 L604.8 83 L604.8 82 L604.8 81 L604.7 80 L604.7 79 L604.6 78 L604.5 77 L604.5 76 L604.4 75 L604.4 74 L604.3 73 L604.2 72 L604.2 71 L604.1 70 L604.1 69 L604 68 L603.9 67 L603.9 66 L603.8 65 L603.8 64 L603.7 63 L603.6 62 L603.6 61 L603.5 60 L603.5 59 L603.5 58 L603.4 57 L603.4 56 L603.4 55 L603.4 54 L603.4 53 L603.4 52 L603.4 51 L603.4 50 L603.4 49 L603.4 48 L603.4 47 L603.4 46 L603.4 45 L603.4 44 L603.3 43 L603.1 42 L602.9 41 L602.5 40 L602.1 39 L601.7 38 L601.4 37 L601 36 L600.7 35 L600.5 34 L600.2 33 L600 32 L600 30Z" fill="#00a842"/>
<path d="M663.3 30 L663.3 32 L663.7 33 L664.1 34 L664.4 35 L664.7 36 L665.1 37 L665.4 38 L665.8 39 L666.1 40 L666.4 41 L666.7 42 L666.9 43 L667.1 44 L667.3 45 L667.4 46 L667.6 47 L667.7 48 L667.8 49 L667.9 50 L668 51 L668.1 52 L668.2 53 L668.3 54 L668.4 55 L668.5 56 L668.6 57 L668.7 58 L668.8 59 L668.9 60 L669 61 L669 62 L669.1 63 L669.2 64 L669.3 65 L669.4 66 L669.4 67 L669.5 68 L669.6 69 L669.6 70 L669.7 71 L669.8 72 L669.8 73 L669.9 74 L670 75 L670 76 L670.1 77 L670.1 78 L670.2 79 L670.2 80 L670.3 81 L670.3 82 L670.3 83 L670.4 84 L670.4 85 L670.4 86 L670.5 87 L670.5 88 L670.5 89 L670.5 90 L670.6 91 L670.6 92 L670.6 94.4 L670.5 95.4 L670.5 96.4 L670.5 97.4 L670.5 98.4 L670.4 99.4 L670.4 100.4 L670.4 101.4 L670.3 102.4 L670.3 103.4 L670.3 104.4 L670.2 105.4 L670.2 106.4 L670.1 107.4 L670.1 108.4 L670 109.4 L670 110.4 L669.9 111.4 L669.8 112.4 L669.8 113.4 L669.7 114.4 L669.6 115.4 L669.6 116.4 L669.5 117.4 L669.4 118.4 L669.4 119.4 L669.3 120.4 L669.2 121.4 L669.1 122.4 L669 123.4 L669 124.4 L668.9 125.4 L668.8 126.4 L668.7 127.4 L668.6 128.4 L668.5 129.4 L668.4 130.4 L668.3 131.4 L668.2 132.4 L668.1 133.4 L668 134.4 L667.9 135.4 L667.8 136.4 L667.7 137.4 L667.6 138.4 L667.4 139.4 L667.3 140.4 L667.1 141.4 L666.9 142.4 L666.7 143.4 L666.4 144.4 L666.1 145.4 L665.8 146.4 L665.4 147.4 L665.1 148.4 L664.7 149.4 L664.4 150.4 L664.1 151.4 L663.7 152.4 L663.3 153.4 L663.3 155.4 L620.3 155.4 L620.3 153.4 L620.1 152.4 L619.8 151.4 L619.6 150.4 L619.3 149.4 L618.9 148.4 L618.6 147.4 L618.2 146.4 L617.8 145.4 L617.4 144.4 L617.2 143.4 L617 142.4 L616.9 141.4 L616.9 140.4 L616.9 139.4 L616.9 138.4 L616.9 137.4 L616.9 136.4 L616.9 135.4 L616.9 134.4 L616.9 133.4 L616.9 132.4 L616.9 131.4 L616.9 130.4 L616.9 129.4 L616.9 128.4 L616.8 127.4 L616.8 126.4 L616.8 125.4 L616.7 124.4 L616.7 123.4 L616.6 122.4 L616.5 121.4 L616.5 120.4 L616.4 119.4 L616.4 118.4 L616.3 117.4 L616.2 116.4 L616.2 115.4 L616.1 114.4 L616.1 113.4 L616 112.4 L615.9 111.4 L615.9 110.4 L615.8 109.4 L615.8 108.4 L615.7 107.4 L615.6 106.4 L615.6 105.4 L615.5 104.4 L615.5 103.4 L615.5 102.4 L615.4 101.4 L615.4 100.4 L615.4 99.4 L615.3 98.4 L615.3 97.4 L615.3 96.4 L615.3 95.4 L615.2 94.4 L615.2 92 L615.2 91 L615.3 90 L615.3 89 L615.3 88 L615.3 87 L615.4 86 L615.4 85 L615.4 84 L615.5 83 L615.5 82 L615.5 81 L615.6 80 L615.6 79 L615.7 78 L615.8 77 L615.8 76 L615.9 75 L615.9 74 L616 73 L616.1 72 L616.1 71 L616.2 70 L616.2 69 L616.3 68 L616.4 67 L616.4 66 L616.5 65 L616.5 64 L616.6 63 L616.7 62 L616.7 61 L616.8 60 L616.8 59 L616.8 58 L616.9 57 L616.9 56 L616.9 55 L616.9 54 L616.9 53 L616.9 52 L616.9 51 L616.9 50 L616.9 49 L616.9 48 L616.9 47 L616.9 46 L616.9 45 L616.9 44 L617 43 L617.2 42 L617.4 41 L617.8 40 L618.2 39 L618.6 38 L618.9 37 L619.3 36 L619.6 35 L619.8 34 L620.1 33 L620.3 32 L620.3 30Z" fill="#00a842"/>
<path d="M566.8 30 L566.8 32 L565.8 33 L564.9 34 L564 35 L563.2 36 L562.4 37 L561.7 38 L560.9 39 L560.2 40 L559.6 41 L559 42 L558.5 43 L558.1 44 L557.8 45 L557.4 46 L557.1 47 L556.9 48 L556.6 49 L556.4 50 L556.2 51 L556 52 L555.8 53 L555.6 54 L555.4 55 L555.2 56 L555.1 57 L554.9 58 L554.8 59 L554.6 60 L554.5 61 L554.4 62 L554.2 63 L554.1 64 L554 65 L553.9 66 L553.8 67 L553.7 68 L553.6 69 L553.5 70 L553.4 71 L553.4 72 L553.3 73 L553.2 74 L553.1 75 L553.1 76 L553 77 L553 78 L552.9 79 L552.8 80 L552.8 81 L552.7 82 L552.6 83 L552.6 84 L552.5 85 L552.5 86 L552.4 87 L552.3 88 L552.3 89 L552.2 90 L552.2 91 L552.1 92 L552.2 94.4 L552.2 95.4 L552.3 96.4 L552.3 97.4 L552.4 98.4 L552.5 99.4 L552.5 100.4 L552.6 101.4 L552.6 102.4 L552.7 103.4 L552.8 104.4 L552.8 105.4 L552.9 106.4 L553 107.4 L553 108.4 L553.1 109.4 L553.1 110.4 L553.2 111.4 L553.3 112.4 L553.4 113.4 L553.4 114.4 L553.5 115.4 L553.6 116.4 L553.7 117.4 L553.8 118.4 L553.9 119.4 L554 120.4 L554.1 121.4 L554.2 122.4 L554.4 123.4 L554.5 124.4 L554.6 125.4 L554.8 126.4 L554.9 127.4 L555.1 128.4 L555.2 129.4 L555.4 130.4 L555.6 131.4 L555.8 132.4 L556 133.4 L556.2 134.4 L556.4 135.4 L556.6 136.4 L556.9 137.4 L557.1 138.4 L557.4 139.4 L557.8 140.4 L558.1 141.4 L558.5 142.4 L559 143.4 L559.6 144.4 L560.2 145.4 L560.9 146.4 L561.7 147.4 L562.4 148.4 L563.2 149.4 L564 150.4 L564.9 151.4 L565.8 152.4 L566.8 153.4 L566.8 155.4 L590.5 155.4 L590.5 153.4 L591.5 152.4 L592.4 151.4 L593.2 150.4 L593.9 149.4 L594.5 148.4 L595.2 147.4 L595.7 146.4 L596.3 145.4 L596.8 144.4 L597.2 143.4 L597.6 142.4 L598 141.4 L598.3 140.4 L598.7 139.4 L599 138.4 L599.2 137.4 L599.5 136.4 L599.8 135.4 L600 134.4 L600.2 133.4 L600.4 132.4 L600.6 131.4 L600.7 130.4 L600.8 129.4 L600.9 128.4 L601.1 127.4 L601.2 126.4 L601.3 125.4 L601.4 124.4 L601.5 123.4 L601.5 122.4 L601.6 121.4 L601.7 120.4 L601.7 119.4 L601.8 118.4 L601.8 117.4 L601.8 116.4 L601.8 115.4 L601.9 114.4 L601.9 113.4 L601.9 112.4 L601.9 111.4 L601.9 110.4 L602 109.4 L602 108.4 L602 107.4 L602 106.4 L602 105.4 L602 104.4 L602 103.4 L602 102.4 L602 101.4 L602 100.4 L602 99.4 L602 98.4 L602 97.4 L602 96.4 L602 95.4 L602 94.4 L602 92 L602 91 L602 90 L602 89 L602 88 L602 87 L602 86 L602 85 L602 84 L602 83 L602 82 L602 81 L602 80 L602 79 L602 78 L602 77 L602 76 L601.9 75 L601.9 74 L601.9 73 L601.9 72 L601.9 71 L601.8 70 L601.8 69 L601.8 68 L601.8 67 L601.7 66 L601.7 65 L601.6 64 L601.5 63 L601.5 62 L601.4 61 L601.3 60 L601.2 59 L601.1 58 L600.9 57 L600.8 56 L600.7 55 L600.6 54 L600.4 53 L600.2 52 L600 51 L599.8 50 L599.5 49 L599.2 48 L599 47 L598.7 46 L598.3 45 L598 44 L597.6 43 L597.2 42 L596.8 41 L596.3 40 L595.7 39 L595.2 38 L594.5 37 L593.9 36 L593.2 35 L592.4 34 L591.5 33 L590.5 32 L590.5 30Z" fill="#00a898"/>
<path d="M653.5 30 L653.5 32 L654.5 33 L655.4 34 L656.3 35 L657.1 36 L657.9 37 L658.6 38 L659.4 39 L660.1 40 L660.7 41 L661.3 42 L661.8 43 L662.2 44 L662.5 45 L662.9 46 L663.2 47 L663.4 48 L663.7 49 L663.9 50 L664.1 51 L664.3 52 L664.5 53 L664.7 54 L664.9 55 L665.1 56 L665.2 57 L665.4 58 L665.5 59 L665.7 60 L665.8 61 L665.9 62 L666.1 63 L666.2 64 L666.3 65 L666.4 66 L666.5 67 L666.6 68 L666.7 69 L666.8 70 L666.9 71 L666.9 72 L667 73 L667.1 74 L667.2 75 L667.2 76 L667.3 77 L667.3 78 L667.4 79 L667.5 80 L667.5 81 L667.6 82 L667.7 83 L667.7 84 L667.8 85 L667.8 86 L667.9 87 L668 88 L668 89 L668.1 90 L668.1 91 L668.2 92 L668.1 94.4 L668.1 95.4 L668 96.4 L668 97.4 L667.9 98.4 L667.8 99.4 L667.8 100.4 L667.7 101.4 L667.7 102.4 L667.6 103.4 L667.5 104.4 L667.5 105.4 L667.4 106.4 L667.3 107.4 L667.3 108.4 L667.2 109.4 L667.2 110.4 L667.1 111.4 L667 112.4 L666.9 113.4 L666.9 114.4 L666.8 115.4 L666.7 116.4 L666.6 117.4 L666.5 118.4 L666.4 119.4 L666.3 120.4 L666.2 121.4 L666.1 122.4 L665.9 123.4 L665.8 124.4 L665.7 125.4 L665.5 126.4 L665.4 127.4 L665.2 128.4 L665.1 129.4 L664.9 130.4 L664.7 131.4 L664.5 132.4 L664.3 133.4 L664.1 134.4 L663.9 135.4 L663.7 136.4 L663.4 137.4 L663.2 138.4 L662.9 139.4 L662.5 140.4 L662.2 141.4 L661.8 142.4 L661.3 143.4 L660.7 144.4 L660.1 145.4 L659.4 146.4 L658.6 147.4 L657.9 148.4 L657.1 149.4 L656.3 150.4 L655.4 151.4 L654.5 152.4 L653.5 153.4 L653.5 155.4 L629.8 155.4 L629.8 153.4 L628.8 152.4 L627.9 151.4 L627.1 150.4 L626.4 149.4 L625.8 148.4 L625.1 147.4 L624.6 146.4 L624 145.4 L623.5 144.4 L623.1 143.4 L622.7 142.4 L622.3 141.4 L622 140.4 L621.6 139.4 L621.3 138.4 L621.1 137.4 L620.8 136.4 L620.5 135.4 L620.3 134.4 L620.1 133.4 L619.9 132.4 L619.7 131.4 L619.6 130.4 L619.5 129.4 L619.4 128.4 L619.2 127.4 L619.1 126.4 L619 125.4 L618.9 124.4 L618.8 123.4 L618.8 122.4 L618.7 121.4 L618.6 120.4 L618.6 119.4 L618.5 118.4 L618.5 117.4 L618.5 116.4 L618.5 115.4 L618.4 114.4 L618.4 113.4 L618.4 112.4 L618.4 111.4 L618.4 110.4 L618.3 109.4 L618.3 108.4 L618.3 107.4 L618.3 106.4 L618.3 105.4 L618.3 104.4 L618.3 103.4 L618.3 102.4 L618.3 101.4 L618.3 100.4 L618.3 99.4 L618.3 98.4 L618.3 97.4 L618.3 96.4 L618.3 95.4 L618.3 94.4 L618.3 92 L618.3 91 L618.3 90 L618.3 89 L618.3 88 L618.3 87 L618.3 86 L618.3 85 L618.3 84 L618.3 83 L618.3 82 L618.3 81 L618.3 80 L618.3 79 L618.3 78 L618.3 77 L618.3 76 L618.4 75 L618.4 74 L618.4 73 L618.4 72 L618.4 71 L618.5 70 L618.5 69 L618.5 68 L618.5 67 L618.6 66 L618.6 65 L618.7 64 L618.8 63 L618.8 62 L618.9 61 L619 60 L619.1 59 L619.2 58 L619.4 57 L619.5 56 L619.6 55 L619.7 54 L619.9 53 L620.1 52 L620.3 51 L620.5 50 L620.8 49 L621.1 48 L621.3 47 L621.6 46 L622 45 L622.3 44 L622.7 43 L623.1 42 L623.5 41 L624 40 L624.6 39 L625.1 38 L625.8 37 L626.4 36 L627.1 35 L627.9 34 L628.8 33 L629.8 32 L629.8 30Z" fill="#00a898"/>
<path d="M599.3 92.7 L599.3 97.9 L599.2 101.8 L599.1 105.2 L598.9 108.4 L598.7 111.5 L598.5 114.3 L598.1 117 L597.8 119.6 L597.4 122.1 L597 124.5 L596.5 126.7 L595.9 128.8 L595.4 130.9 L594.8 132.8 L594.1 134.6 L593.4 136.3 L592.6 137.9 L591.9 139.4 L591 140.7 L590.1 142 L589.2 143.1 L588.3 144.1 L587.3 145 L586.2 145.8 L585.1 146.5 L583.9 147 L582.7 147.5 L581.3 147.8 L579.8 147.9 L577.8 148 L575.8 147.9 L574.3 147.8 L572.9 147.5 L571.7 147 L570.5 146.5 L569.4 145.8 L568.3 145 L567.3 144.1 L566.4 143.1 L565.5 142 L564.6 140.7 L563.7 139.4 L563 137.9 L562.2 136.3 L561.5 134.6 L560.8 132.8 L560.2 130.9 L559.7 128.8 L559.1 126.7 L558.6 124.5 L558.2 122.1 L557.8 119.6 L557.5 117 L557.1 114.3 L556.9 111.5 L556.7 108.4 L556.5 105.2 L556.4 101.8 L556.3 97.9 L556.3 92.7 L556.3 87.5 L556.4 83.6 L556.5 80.2 L556.7 77 L556.9 73.9 L557.1 71.1 L557.5 68.4 L557.8 65.8 L558.2 63.3 L558.6 60.9 L559.1 58.7 L559.7 56.6 L560.2 54.5 L560.8 52.6 L561.5 50.8 L562.2 49.1 L563 47.5 L563.7 46 L564.6 44.7 L565.5 43.4 L566.4 42.3 L567.3 41.3 L568.3 40.4 L569.4 39.6 L570.5 38.9 L571.7 38.4 L572.9 37.9 L574.3 37.6 L575.8 37.5 L577.8 37.4 L579.8 37.5 L581.3 37.6 L582.7 37.9 L583.9 38.4 L585.1 38.9 L586.2 39.6 L587.3 40.4 L588.3 41.3 L589.2 42.3 L590.1 43.4 L591 44.7 L591.9 46 L592.6 47.5 L593.4 49.1 L594.1 50.8 L594.8 52.6 L595.4 54.5 L595.9 56.6 L596.5 58.7 L597 60.9 L597.4 63.3 L597.8 65.8 L598.1 68.4 L598.5 71.1 L598.7 73.9 L598.9 77 L599.1 80.2 L599.2 83.6 L599.3 87.5Z" fill="#0077a8"/>
<path d="M621 92.7 L621 97.9 L621.1 101.8 L621.2 105.2 L621.4 108.4 L621.6 111.5 L621.8 114.3 L622.2 117 L622.5 119.6 L622.9 122.1 L623.3 124.5 L623.8 126.7 L624.4 128.8 L624.9 130.9 L625.5 132.8 L626.2 134.6 L626.9 136.3 L627.7 137.9 L628.4 139.4 L629.3 140.7 L630.2 142 L631.1 143.1 L632 144.1 L633 145 L634.1 145.8 L635.2 146.5 L636.4 147 L637.6 147.5 L639 147.8 L640.5 147.9 L642.5 148 L644.5 147.9 L646 147.8 L647.4 147.5 L648.6 147 L649.8 146.5 L650.9 145.8 L652 145 L653 144.1 L653.9 143.1 L654.8 142 L655.7 140.7 L656.6 139.4 L657.3 137.9 L658.1 136.3 L658.8 134.6 L659.5 132.8 L660.1 130.9 L660.6 128.8 L661.2 126.7 L661.7 124.5 L662.1 122.1 L662.5 119.6 L662.8 117 L663.2 114.3 L663.4 111.5 L663.6 108.4 L663.8 105.2 L663.9 101.8 L664 97.9 L664 92.7 L664 87.5 L663.9 83.6 L663.8 80.2 L663.6 77 L663.4 73.9 L663.2 71.1 L662.8 68.4 L662.5 65.8 L662.1 63.3 L661.7 60.9 L661.2 58.7 L660.6 56.6 L660.1 54.5 L659.5 52.6 L658.8 50.8 L658.1 49.1 L657.3 47.5 L656.6 46 L655.7 44.7 L654.8 43.4 L653.9 42.3 L653 41.3 L652 40.4 L650.9 39.6 L649.8 38.9 L648.6 38.4 L647.4 37.9 L646 37.6 L644.5 37.5 L642.5 37.4 L640.5 37.5 L639 37.6 L637.6 37.9 L636.4 38.4 L635.2 38.9 L634.1 39.6 L633 40.4 L632 41.3 L631.1 42.3 L630.2 43.4 L629.3 44.7 L628.4 46 L627.7 47.5 L626.9 49.1 L626.2 50.8 L625.5 52.6 L624.9 54.5 L624.4 56.6 L623.8 58.7 L623.3 60.9 L622.9 63.3 L622.5 65.8 L622.2 68.4 L621.8 71.1 L621.6 73.9 L621.4 77 L621.2 80.2 L621.1 83.6 L621 87.5Z" fill="#0077a8"/>
<path d="M593.2 92.7 L593.2 94.9 L593.1 97 L593 99.2 L592.9 101.3 L592.7 103.4 L592.4 105.5 L592.2 107.5 L591.9 109.5 L591.5 111.5 L591.1 113.4 L590.7 115.2 L590.3 117 L589.8 118.8 L589.2 120.4 L588.7 122 L588.1 123.5 L587.5 124.9 L586.9 126.2 L586.2 127.4 L585.5 128.6 L584.8 129.6 L584.1 130.5 L583.3 131.4 L582.6 132.1 L581.8 132.7 L581 133.2 L580.2 133.6 L579.4 133.9 L578.6 134 L577.8 134.1 L577 134 L576.2 133.9 L575.4 133.6 L574.6 133.2 L573.8 132.7 L573 132.1 L572.3 131.4 L571.5 130.5 L570.8 129.6 L570.1 128.6 L569.4 127.4 L568.7 126.2 L568.1 124.9 L567.5 123.5 L566.9 122 L566.4 120.4 L565.8 118.8 L565.3 117 L564.9 115.2 L564.5 113.4 L564.1 111.5 L563.7 109.5 L563.4 107.5 L563.2 105.5 L562.9 103.4 L562.7 101.3 L562.6 99.2 L562.5 97 L562.4 94.9 L562.4 92.7 L562.4 90.5 L562.5 88.4 L562.6 86.2 L562.7 84.1 L562.9 82 L563.2 79.9 L563.4 77.9 L563.7 75.9 L564.1 73.9 L564.5 72 L564.9 70.2 L565.3 68.4 L565.8 66.6 L566.4 65 L566.9 63.4 L567.5 61.9 L568.1 60.5 L568.7 59.2 L569.4 58 L570.1 56.8 L570.8 55.8 L571.5 54.9 L572.3 54 L573 53.3 L573.8 52.7 L574.6 52.2 L575.4 51.8 L576.2 51.5 L577 51.4 L577.8 51.3 L578.6 51.4 L579.4 51.5 L580.2 51.8 L581 52.2 L581.8 52.7 L582.6 53.3 L583.3 54 L584.1 54.9 L584.8 55.8 L585.5 56.8 L586.2 58 L586.9 59.2 L587.5 60.5 L588.1 61.9 L588.7 63.4 L589.2 65 L589.8 66.6 L590.3 68.4 L590.7 70.2 L591.1 72 L591.5 73.9 L591.9 75.9 L592.2 77.9 L592.4 79.9 L592.7 82 L592.9 84.1 L593 86.2 L593.1 88.4 L593.2 90.5Z" fill="#0000a8"/>
<path d="M627.1 92.7 L627.1 94.9 L627.2 97 L627.3 99.2 L627.4 101.3 L627.6 103.4 L627.9 105.5 L628.1 107.5 L628.4 109.5 L628.8 111.5 L629.2 113.4 L629.6 115.2 L630 117 L630.5 118.8 L631.1 120.4 L631.6 122 L632.2 123.5 L632.8 124.9 L633.4 126.2 L634.1 127.4 L634.8 128.6 L635.5 129.6 L636.2 130.5 L637 131.4 L637.7 132.1 L638.5 132.7 L639.3 133.2 L640.1 133.6 L640.9 133.9 L641.7 134 L642.5 134.1 L643.3 134 L644.1 133.9 L644.9 133.6 L645.7 133.2 L646.5 132.7 L647.3 132.1 L648 131.4 L648.8 130.5 L649.5 129.6 L650.2 128.6 L650.9 127.4 L651.6 126.2 L652.2 124.9 L652.8 123.5 L653.4 122 L653.9 120.4 L654.5 118.8 L655 117 L655.4 115.2 L655.8 113.4 L656.2 111.5 L656.6 109.5 L656.9 107.5 L657.1 105.5 L657.4 103.4 L657.6 101.3 L657.7 99.2 L657.8 97 L657.9 94.9 L657.9 92.7 L657.9 90.5 L657.8 88.4 L657.7 86.2 L657.6 84.1 L657.4 82 L657.1 79.9 L656.9 77.9 L656.6 75.9 L656.2 73.9 L655.8 72 L655.4 70.2 L655 68.4 L654.5 66.6 L653.9 65 L653.4 63.4 L652.8 61.9 L652.2 60.5 L651.6 59.2 L650.9 58 L650.2 56.8 L649.5 55.8 L648.8 54.9 L648 54 L647.3 53.3 L646.5 52.7 L645.7 52.2 L644.9 51.8 L644.1 51.5 L643.3 51.4 L642.5 51.3 L641.7 51.4 L640.9 51.5 L640.1 51.8 L639.3 52.2 L638.5 52.7 L637.7 53.3 L637 54 L636.2 54.9 L635.5 55.8 L634.8 56.8 L634.1 58 L633.4 59.2 L632.8 60.5 L632.2 61.9 L631.6 63.4 L631.1 65 L630.5 66.6 L630 68.4 L629.6 70.2 L629.2 72 L628.8 73.9 L628.4 75.9 L628.1 77.9 L627.9 79.9 L627.6 82 L627.4 84.1 L627.3 86.2 L627.2 88.4 L627.1 90.5Z" fill="#0000a8"/>
</g>
<path d="M620.1 92.1 L639.6 92.1 L643.9 97.5 L639.6 102.9 L620.1 102.9Z" fill="#0000ff"/>
<circle cx="644.6" cy="97.5" r="0.6" fill="#5a5040"/>
<text transform="translate(622.8 100.9) scale(0.95 1)" class="mn">Min</text>
<clipPath id="c3"><rect x="74" y="196" width="143.4" height="121"/></clipPath>
<g clip-path="url(#c3)">
<rect x="74" y="196" width="143.4" height="121" fill="#a80000"/>
<path d="M83.5 194 L83.5 196 L83.4 197 L83.3 198 L83.2 199 L83.1 200 L83 201 L82.9 202 L82.8 203 L82.7 204 L82.6 205 L82.5 206 L82.4 207 L82.2 208 L82.1 209 L82 210 L81.8 211 L81.6 212 L81.4 213 L81.2 214 L81 215 L80.7 216 L80.5 217 L80.3 218 L80.1 219 L79.9 220 L79.8 221 L79.6 222 L79.5 223 L79.3 224 L79.2 225 L79.1 226 L78.9 227 L78.8 228 L78.7 229 L78.6 230 L78.5 231 L78.4 232 L78.2 233 L78.2 234 L78.1 235 L78 236 L77.9 237 L77.8 238 L77.7 239 L77.6 240 L77.6 241 L77.5 242 L77.4 243 L77.4 244 L77.3 245 L77.2 246 L77.2 247 L77.1 248 L77 249 L77 250 L76.9 251 L76.9 252 L76.8 253 L76.8 254 L76.8 255 L76.7 256 L76.8 258 L76.8 259 L76.8 260 L76.9 261 L76.9 262 L77 263 L77 264 L77.1 265 L77.2 266 L77.2 267 L77.3 268 L77.4 269 L77.4 270 L77.5 271 L77.6 272 L77.6 273 L77.7 274 L77.8 275 L77.9 276 L78 277 L78.1 278 L78.2 279 L78.2 280 L78.4 281 L78.5 282 L78.6 283 L78.7 284 L78.8 285 L78.9 286 L79.1 287 L79.2 288 L79.3 289 L79.5 290 L79.6 291 L79.8 292 L79.9 293 L80.1 294 L80.3 295 L80.5 296 L80.7 297 L81 298 L81.2 299 L81.4 300 L81.6 301 L81.8 302 L82 303 L82.1 304 L82.2 305 L82.4 306 L82.5 307 L82.6 308 L82.7 309 L82.8 310 L82.9 311 L83 312 L83.1 313 L83.2 314 L83.3 315 L83.4 316 L83.5 317 L83.5 319 L208.5 319 L208.5 317 L208.6 316 L208.7 315 L208.8 314 L208.9 313 L209 312 L209.1 311 L209.2 310 L209.3 309 L209.4 308 L209.5 307 L209.6 306 L209.8 305 L209.9 304 L210 303 L210.2 302 L210.4 301 L210.6 300 L210.8 299 L211 298 L211.3 297 L211.5 296 L211.7 295 L211.9 294 L212.1 293 L212.2 292 L212.4 291 L212.5 290 L212.7 289 L212.8 288 L212.9 287 L213.1 286 L213.2 285 L213.3 284 L213.4 283 L213.5 282 L213.6 281 L213.8 280 L213.8 279 L213.9 278 L214 277 L214.1 276 L214.2 275 L214.3 274 L214.4 273 L214.4 272 L214.5 271 L214.6 270 L214.6 269 L214.7 268 L214.8 267 L214.8 266 L214.9 265 L215 264 L215 263 L215.1 262 L215.1 261 L215.2 260 L215.2 259 L215.2 258 L215.3 256 L215.2 255 L215.2 254 L215.2 253 L215.1 252 L215.1 251 L215 250 L215 249 L214.9 248 L214.8 247 L214.8 246 L214.7 245 L214.6 244 L214.6 243 L214.5 242 L214.4 241 L214.4 240 L214.3 239 L214.2 238 L214.1 237 L214 236 L213.9 235 L213.8 234 L213.8 233 L213.6 232 L213.5 231 L213.4 230 L213.3 229 L213.2 228 L213.1 227 L212.9 226 L212.8 225 L212.7 224 L212.5 223 L212.4 222 L212.2 221 L212.1 220 L211.9 219 L211.7 218 L211.5 217 L211.3 216 L211 215 L210.8 214 L210.6 213 L210.4 212 L210.2 211 L210 210 L209.9 209 L209.8 208 L209.6 207 L209.5 206 L209.4 205 L209.3 204 L209.2 203 L209.1 202 L209 201 L208.9 200 L208.8 199 L208.7 198 L208.6 197 L208.5 196 L208.5 194Z" fill="#a87700"/>
<path d="M85.5 194 L85.5 196 L85.4 197 L85.4 198 L85.3 199 L85.2 200 L85.2 201 L85.1 202 L85 203 L84.9 204 L84.8 205 L84.8 206 L84.7 207 L84.6 208 L84.6 209 L84.6 210 L84.5 211 L84.5 212 L84.5 213 L84.5 214 L84.4 215 L84.4 216 L84.4 217 L84.4 218 L84.4 219 L84.3 220 L84.3 221 L84.3 222 L84.3 223 L84.2 224 L84.2 225 L84.2 226 L84.2 227 L84.1 228 L84.1 229 L84.1 230 L84.1 231 L84 232 L84 233 L84 234 L84 235 L83.9 236 L83.9 237 L83.9 238 L83.9 239 L83.9 240 L83.9 241 L83.8 242 L83.8 243 L83.8 244 L83.8 245 L83.8 246 L83.8 247 L83.8 248 L83.8 249 L83.7 250 L83.7 251 L83.7 252 L83.7 253 L83.7 254 L83.7 255 L83.7 256 L83.7 258 L83.7 259 L83.7 260 L83.7 261 L83.7 262 L83.7 263 L83.8 264 L83.8 265 L83.8 266 L83.8 267 L83.8 268 L83.8 269 L83.8 270 L83.8 271 L83.9 272 L83.9 273 L83.9 274 L83.9 275 L83.9 276 L83.9 277 L84 278 L84 279 L84 280 L84 281 L84.1 282 L84.1 283 L84.1 284 L84.1 285 L84.2 286 L84.2 287 L84.2 288 L84.2 289 L84.3 290 L84.3 291 L84.3 292 L84.3 293 L84.4 294 L84.4 295 L84.4 296 L84.4 297 L84.4 298 L84.5 299 L84.5 300 L84.5 301 L84.5 302 L84.6 303 L84.6 304 L84.6 305 L84.7 306 L84.8 307 L84.8 308 L84.9 309 L85 310 L85.1 311 L85.2 312 L85.2 313 L85.3 314 L85.4 315 L85.4 316 L85.5 317 L85.5 319 L206.5 319 L206.5 317 L206.6 316 L206.6 315 L206.7 314 L206.8 313 L206.8 312 L206.9 311 L207 310 L207.1 309 L207.2 308 L207.2 307 L207.3 306 L207.4 305 L207.4 304 L207.4 303 L207.5 302 L207.5 301 L207.5 300 L207.5 299 L207.6 298 L207.6 297 L207.6 296 L207.6 295 L207.6 294 L207.7 293 L207.7 292 L207.7 291 L207.7 290 L207.8 289 L207.8 288 L207.8 287 L207.8 286 L207.9 285 L207.9 284 L207.9 283 L207.9 282 L208 281 L208 280 L208 279 L208 278 L208.1 277 L208.1 276 L208.1 275 L208.1 274 L208.1 273 L208.1 272 L208.2 271 L208.2 270 L208.2 269 L208.2 268 L208.2 267 L208.2 266 L208.2 265 L208.2 264 L208.3 263 L208.3 262 L208.3 261 L208.3 260 L208.3 259 L208.3 258 L208.3 256 L208.3 255 L208.3 254 L208.3 253 L208.3 252 L208.3 251 L208.3 250 L208.2 249 L208.2 248 L208.2 247 L208.2 246 L208.2 245 L208.2 244 L208.2 243 L208.2 242 L208.1 241 L208.1 240 L208.1 239 L208.1 238 L208.1 237 L208.1 236 L208 235 L208 234 L208 233 L208 232 L207.9 231 L207.9 230 L207.9 229 L207.9 228 L207.8 227 L207.8 226 L207.8 225 L207.8 224 L207.7 223 L207.7 222 L207.7 221 L207.7 220 L207.6 219 L207.6 218 L207.6 217 L207.6 216 L207.6 215 L207.5 214 L207.5 213 L207.5 212 L207.5 211 L207.4 210 L207.4 209 L207.4 208 L207.3 207 L207.2 206 L207.2 205 L207.1 204 L207 203 L206.9 202 L206.8 201 L206.8 200 L206.7 199 L206.6 198 L206.6 197 L206.5 196 L206.5 194Z" fill="#98a800"/>
<path d="M88.3 194 L88.3 196 L88.1 197 L87.9 198 L87.8 199 L87.7 200 L87.6 201 L87.5 202 L87.4 203 L87.3 204 L87.3 205 L87.2 206 L87.1 207 L87.1 208 L87 209 L86.9 210 L86.8 211 L86.8 212 L86.7 213 L86.6 214 L86.5 215 L86.5 216 L86.4 217 L86.3 218 L86.2 219 L86.2 220 L86.1 221 L86.1 222 L86.1 223 L86 224 L86 225 L86 226 L85.9 227 L85.9 228 L85.9 229 L85.9 230 L85.8 231 L85.8 232 L85.8 233 L85.8 234 L85.8 235 L85.7 236 L85.7 237 L85.7 238 L85.7 239 L85.7 240 L85.6 241 L85.6 242 L85.6 243 L85.6 244 L85.5 245 L85.5 246 L85.5 247 L85.5 248 L85.5 249 L85.4 250 L85.4 251 L85.4 252 L85.4 253 L85.4 254 L85.3 255 L85.3 256 L85.3 258 L85.4 259 L85.4 260 L85.4 261 L85.4 262 L85.4 263 L85.5 264 L85.5 265 L85.5 266 L85.5 267 L85.5 268 L85.6 269 L85.6 270 L85.6 271 L85.6 272 L85.7 273 L85.7 274 L85.7 275 L85.7 276 L85.7 277 L85.8 278 L85.8 279 L85.8 280 L85.8 281 L85.8 282 L85.9 283 L85.9 284 L85.9 285 L85.9 286 L86 287 L86 288 L86 289 L86.1 290 L86.1 291 L86.1 292 L86.2 293 L86.2 294 L86.3 295 L86.4 296 L86.5 297 L86.5 298 L86.6 299 L86.7 300 L86.8 301 L86.8 302 L86.9 303 L87 304 L87.1 305 L87.1 306 L87.2 307 L87.3 308 L87.3 309 L87.4 310 L87.5 311 L87.6 312 L87.7 313 L87.8 314 L87.9 315 L88.1 316 L88.3 317 L88.3 319 L203.7 319 L203.7 317 L203.9 316 L204.1 315 L204.2 314 L204.3 313 L204.4 312 L204.5 311 L204.6 310 L204.7 309 L204.7 308 L204.8 307 L204.9 306 L204.9 305 L205 304 L205.1 303 L205.2 302 L205.2 301 L205.3 300 L205.4 299 L205.5 298 L205.5 297 L205.6 296 L205.7 295 L205.8 294 L205.8 293 L205.9 292 L205.9 291 L205.9 290 L206 289 L206 288 L206 287 L206.1 286 L206.1 285 L206.1 284 L206.1 283 L206.2 282 L206.2 281 L206.2 280 L206.2 279 L206.2 278 L206.3 277 L206.3 276 L206.3 275 L206.3 274 L206.3 273 L206.4 272 L206.4 271 L206.4 270 L206.4 269 L206.5 268 L206.5 267 L206.5 266 L206.5 265 L206.5 264 L206.6 263 L206.6 262 L206.6 261 L206.6 260 L206.6 259 L206.7 258 L206.7 256 L206.7 255 L206.6 254 L206.6 253 L206.6 252 L206.6 251 L206.6 250 L206.5 249 L206.5 248 L206.5 247 L206.5 246 L206.5 245 L206.4 244 L206.4 243 L206.4 242 L206.4 241 L206.3 240 L206.3 239 L206.3 238 L206.3 237 L206.3 236 L206.2 235 L206.2 234 L206.2 233 L206.2 232 L206.2 231 L206.1 230 L206.1 229 L206.1 228 L206.1 227 L206 226 L206 225 L206 224 L205.9 223 L205.9 222 L205.9 221 L205.8 220 L205.8 219 L205.7 218 L205.6 217 L205.5 216 L205.5 215 L205.4 214 L205.3 213 L205.2 212 L205.2 211 L205.1 210 L205 209 L204.9 208 L204.9 207 L204.8 206 L204.7 205 L204.7 204 L204.6 203 L204.5 202 L204.4 201 L204.3 200 L204.2 199 L204.1 198 L203.9 197 L203.7 196 L203.7 194Z" fill="#3ba800"/>
<path d="M140.2 194 L151.3 194 L151.3 210.7 L145.8 208.6 L140.2 210.7Z" fill="#98a800"/>
<path d="M140.2 319 L151.3 319 L151.3 302.3 L145.8 304.4 L140.2 302.3Z" fill="#98a800"/>
<path d="M93.5 194 L93.5 196 L93.1 197 L92.7 198 L92.4 199 L92.1 200 L91.8 201 L91.5 202 L91.2 203 L90.9 204 L90.6 205 L90.3 206 L90.1 207 L89.9 208 L89.7 209 L89.5 210 L89.4 211 L89.2 212 L89 213 L88.9 214 L88.7 215 L88.6 216 L88.5 217 L88.4 218 L88.3 219 L88.2 220 L88.1 221 L88 222 L87.9 223 L87.9 224 L87.8 225 L87.7 226 L87.7 227 L87.6 228 L87.6 229 L87.5 230 L87.5 231 L87.4 232 L87.4 233 L87.3 234 L87.3 235 L87.3 236 L87.2 237 L87.2 238 L87.2 239 L87.1 240 L87.1 241 L87.1 242 L87 243 L87 244 L87 245 L86.9 246 L86.9 247 L86.9 248 L86.9 249 L86.8 250 L86.8 251 L86.8 252 L86.8 253 L86.7 254 L86.7 255 L86.7 256 L86.7 258 L86.7 259 L86.8 260 L86.8 261 L86.8 262 L86.8 263 L86.9 264 L86.9 265 L86.9 266 L86.9 267 L87 268 L87 269 L87 270 L87.1 271 L87.1 272 L87.1 273 L87.2 274 L87.2 275 L87.2 276 L87.3 277 L87.3 278 L87.3 279 L87.4 280 L87.4 281 L87.5 282 L87.5 283 L87.6 284 L87.6 285 L87.7 286 L87.7 287 L87.8 288 L87.9 289 L87.9 290 L88 291 L88.1 292 L88.2 293 L88.3 294 L88.4 295 L88.5 296 L88.6 297 L88.7 298 L88.9 299 L89 300 L89.2 301 L89.4 302 L89.5 303 L89.7 304 L89.9 305 L90.1 306 L90.3 307 L90.6 308 L90.9 309 L91.2 310 L91.5 311 L91.8 312 L92.1 313 L92.4 314 L92.7 315 L93.1 316 L93.5 317 L93.5 319 L135.5 319 L135.5 317 L135.9 316 L136.3 315 L136.7 314 L137 313 L137.4 312 L137.8 311 L138.1 310 L138.5 309 L138.8 308 L139 307 L139.2 306 L139.4 305 L139.4 304 L139.4 303 L139.4 302 L139.4 301 L139.4 300 L139.4 299 L139.4 298 L139.4 297 L139.4 296 L139.4 295 L139.4 294 L139.4 293 L139.4 292 L139.4 291 L139.4 290 L139.4 289 L139.5 288 L139.5 287 L139.5 286 L139.6 285 L139.6 284 L139.7 283 L139.8 282 L139.8 281 L139.9 280 L139.9 279 L140 278 L140 277 L140.1 276 L140.1 275 L140.1 274 L140.1 273 L140.2 272 L140.2 271 L140.2 270 L140.2 269 L140.3 268 L140.3 267 L140.3 266 L140.3 265 L140.3 264 L140.3 263 L140.4 262 L140.4 261 L140.4 260 L140.4 259 L140.4 258 L140.4 256 L140.4 255 L140.4 254 L140.4 253 L140.4 252 L140.4 251 L140.3 250 L140.3 249 L140.3 248 L140.3 247 L140.3 246 L140.3 245 L140.2 244 L140.2 243 L140.2 242 L140.2 241 L140.1 240 L140.1 239 L140.1 238 L140.1 237 L140 236 L140 235 L139.9 234 L139.9 233 L139.8 232 L139.8 231 L139.7 230 L139.6 229 L139.6 228 L139.5 227 L139.5 226 L139.5 225 L139.4 224 L139.4 223 L139.4 222 L139.4 221 L139.4 220 L139.4 219 L139.4 218 L139.4 217 L139.4 216 L139.4 215 L139.4 214 L139.4 213 L139.4 212 L139.4 211 L139.4 210 L139.4 209 L139.4 208 L139.2 207 L139 206 L138.8 205 L138.5 204 L138.1 203 L137.8 202 L137.4 201 L137 200 L136.7 199 L136.3 198 L135.9 197 L135.5 196 L135.5 194Z" fill="#00a842"/>
<path d="M198.5 194 L198.5 196 L198.9 197 L199.3 198 L199.6 199 L199.9 200 L200.2 201 L200.5 202 L200.8 203 L201.1 204 L201.4 205 L201.7 206 L201.9 207 L202.1 208 L202.3 209 L202.5 210 L202.6 211 L202.8 212 L203 213 L203.1 214 L203.3 215 L203.4 216 L203.5 217 L203.6 218 L203.7 219 L203.8 220 L203.9 221 L204 222 L204.1 223 L204.1 224 L204.2 225 L204.3 226 L204.3 227 L204.4 228 L204.4 229 L204.5 230 L204.5 231 L204.6 232 L204.6 233 L204.7 234 L204.7 235 L204.7 236 L204.8 237 L204.8 238 L204.8 239 L204.9 240 L204.9 241 L204.9 242 L205 243 L205 244 L205 245 L205.1 246 L205.1 247 L205.1 248 L205.1 249 L205.2 250 L205.2 251 L205.2 252 L205.2 253 L205.3 254 L205.3 255 L205.3 256 L205.3 258 L205.3 259 L205.2 260 L205.2 261 L205.2 262 L205.2 263 L205.1 264 L205.1 265 L205.1 266 L205.1 267 L205 268 L205 269 L205 270 L204.9 271 L204.9 272 L204.9 273 L204.8 274 L204.8 275 L204.8 276 L204.7 277 L204.7 278 L204.7 279 L204.6 280 L204.6 281 L204.5 282 L204.5 283 L204.4 284 L204.4 285 L204.3 286 L204.3 287 L204.2 288 L204.1 289 L204.1 290 L204 291 L203.9 292 L203.8 293 L203.7 294 L203.6 295 L203.5 296 L203.4 297 L203.3 298 L203.1 299 L203 300 L202.8 301 L202.6 302 L202.5 303 L202.3 304 L202.1 305 L201.9 306 L201.7 307 L201.4 308 L201.1 309 L200.8 310 L200.5 311 L200.2 312 L199.9 313 L199.6 314 L199.3 315 L198.9 316 L198.5 317 L198.5 319 L156.5 319 L156.5 317 L156.1 316 L155.7 315 L155.3 314 L155 313 L154.6 312 L154.2 311 L153.9 310 L153.5 309 L153.2 308 L153 307 L152.8 306 L152.6 305 L152.6 304 L152.6 303 L152.6 302 L152.6 301 L152.6 300 L152.6 299 L152.6 298 L152.6 297 L152.6 296 L152.6 295 L152.6 294 L152.6 293 L152.6 292 L152.6 291 L152.6 290 L152.6 289 L152.5 288 L152.5 287 L152.5 286 L152.4 285 L152.4 284 L152.3 283 L152.2 282 L152.2 281 L152.1 280 L152.1 279 L152 278 L152 277 L151.9 276 L151.9 275 L151.9 274 L151.9 273 L151.8 272 L151.8 271 L151.8 270 L151.8 269 L151.7 268 L151.7 267 L151.7 266 L151.7 265 L151.7 264 L151.7 263 L151.6 262 L151.6 261 L151.6 260 L151.6 259 L151.6 258 L151.6 256 L151.6 255 L151.6 254 L151.6 253 L151.6 252 L151.6 251 L151.7 250 L151.7 249 L151.7 248 L151.7 247 L151.7 246 L151.7 245 L151.8 244 L151.8 243 L151.8 242 L151.8 241 L151.9 240 L151.9 239 L151.9 238 L151.9 237 L152 236 L152 235 L152.1 234 L152.1 233 L152.2 232 L152.2 231 L152.3 230 L152.4 229 L152.4 228 L152.5 227 L152.5 226 L152.5 225 L152.6 224 L152.6 223 L152.6 222 L152.6 221 L152.6 220 L152.6 219 L152.6 218 L152.6 217 L152.6 216 L152.6 215 L152.6 214 L152.6 213 L152.6 212 L152.6 211 L152.6 210 L152.6 209 L152.6 208 L152.8 207 L153 206 L153.2 205 L153.5 204 L153.9 203 L154.2 202 L154.6 201 L155 200 L155.3 199 L155.7 198 L156.1 197 L156.5 196 L156.5 194Z" fill="#00a842"/>
<path d="M102.6 194 L102.6 196 L101.6 197 L100.7 198 L99.9 199 L99.2 200 L98.4 201 L97.7 202 L97.1 203 L96.4 204 L95.8 205 L95.3 206 L94.8 207 L94.4 208 L94 209 L93.7 210 L93.4 211 L93.2 212 L92.9 213 L92.7 214 L92.5 215 L92.3 216 L92.1 217 L91.9 218 L91.7 219 L91.6 220 L91.4 221 L91.3 222 L91.2 223 L91 224 L90.9 225 L90.8 226 L90.7 227 L90.5 228 L90.4 229 L90.3 230 L90.2 231 L90.1 232 L90 233 L90 234 L89.9 235 L89.8 236 L89.8 237 L89.7 238 L89.7 239 L89.6 240 L89.6 241 L89.5 242 L89.5 243 L89.4 244 L89.4 245 L89.3 246 L89.3 247 L89.3 248 L89.2 249 L89.2 250 L89.2 251 L89.1 252 L89.1 253 L89.1 254 L89.1 255 L89.1 256 L89.1 258 L89.1 259 L89.1 260 L89.1 261 L89.2 262 L89.2 263 L89.2 264 L89.3 265 L89.3 266 L89.3 267 L89.4 268 L89.4 269 L89.5 270 L89.5 271 L89.6 272 L89.6 273 L89.7 274 L89.7 275 L89.8 276 L89.8 277 L89.9 278 L90 279 L90 280 L90.1 281 L90.2 282 L90.3 283 L90.4 284 L90.5 285 L90.7 286 L90.8 287 L90.9 288 L91 289 L91.2 290 L91.3 291 L91.4 292 L91.6 293 L91.7 294 L91.9 295 L92.1 296 L92.3 297 L92.5 298 L92.7 299 L92.9 300 L93.2 301 L93.4 302 L93.7 303 L94 304 L94.4 305 L94.8 306 L95.3 307 L95.8 308 L96.4 309 L97.1 310 L97.7 311 L98.4 312 L99.2 313 L99.9 314 L100.7 315 L101.6 316 L102.6 317 L102.6 319 L126.1 319 L126.1 317 L127.7 316 L129.2 315 L130.2 314 L130.8 313 L131.3 312 L131.8 311 L132.2 310 L132.5 309 L132.8 308 L133.1 307 L133.4 306 L133.7 305 L134 304 L134.3 303 L134.7 302 L135 301 L135.4 300 L135.8 299 L136.1 298 L136.4 297 L136.7 296 L137 295 L137.3 294 L137.5 293 L137.6 292 L137.7 291 L137.8 290 L137.8 289 L137.9 288 L137.9 287 L138 286 L138 285 L138.1 284 L138.1 283 L138.2 282 L138.2 281 L138.2 280 L138.3 279 L138.3 278 L138.3 277 L138.3 276 L138.3 275 L138.3 274 L138.3 273 L138.3 272 L138.3 271 L138.3 270 L138.3 269 L138.3 268 L138.3 267 L138.3 266 L138.3 265 L138.3 264 L138.3 263 L138.3 262 L138.3 261 L138.3 260 L138.3 259 L138.3 258 L138.3 256 L138.3 255 L138.3 254 L138.3 253 L138.3 252 L138.3 251 L138.3 250 L138.3 249 L138.3 248 L138.3 247 L138.3 246 L138.3 245 L138.3 244 L138.3 243 L138.3 242 L138.3 241 L138.3 240 L138.3 239 L138.3 238 L138.3 237 L138.3 236 L138.3 235 L138.3 234 L138.2 233 L138.2 232 L138.2 231 L138.1 230 L138.1 229 L138 228 L138 227 L137.9 226 L137.9 225 L137.8 224 L137.8 223 L137.7 222 L137.6 221 L137.5 220 L137.3 219 L137 218 L136.7 217 L136.4 216 L136.1 215 L135.8 214 L135.4 213 L135 212 L134.7 211 L134.3 210 L134 209 L133.7 208 L133.4 207 L133.1 206 L132.8 205 L132.5 204 L132.2 203 L131.8 202 L131.3 201 L130.8 200 L130.2 199 L129.2 198 L127.7 197 L126.1 196 L126.1 194Z" fill="#00a898"/>
<path d="M189.4 194 L189.4 196 L190.4 197 L191.3 198 L192.1 199 L192.8 200 L193.6 201 L194.3 202 L194.9 203 L195.6 204 L196.2 205 L196.7 206 L197.2 207 L197.6 208 L198 209 L198.3 210 L198.6 211 L198.8 212 L199.1 213 L199.3 214 L199.5 215 L199.7 216 L199.9 217 L200.1 218 L200.3 219 L200.4 220 L200.6 221 L200.7 222 L200.8 223 L201 224 L201.1 225 L201.2 226 L201.3 227 L201.5 228 L201.6 229 L201.7 230 L201.8 231 L201.9 232 L202 233 L202 234 L202.1 235 L202.2 236 L202.2 237 L202.3 238 L202.3 239 L202.4 240 L202.4 241 L202.5 242 L202.5 243 L202.6 244 L202.6 245 L202.7 246 L202.7 247 L202.7 248 L202.8 249 L202.8 250 L202.8 251 L202.9 252 L202.9 253 L202.9 254 L202.9 255 L202.9 256 L202.9 258 L202.9 259 L202.9 260 L202.9 261 L202.8 262 L202.8 263 L202.8 264 L202.7 265 L202.7 266 L202.7 267 L202.6 268 L202.6 269 L202.5 270 L202.5 271 L202.4 272 L202.4 273 L202.3 274 L202.3 275 L202.2 276 L202.2 277 L202.1 278 L202 279 L202 280 L201.9 281 L201.8 282 L201.7 283 L201.6 284 L201.5 285 L201.3 286 L201.2 287 L201.1 288 L201 289 L200.8 290 L200.7 291 L200.6 292 L200.4 293 L200.3 294 L200.1 295 L199.9 296 L199.7 297 L199.5 298 L199.3 299 L199.1 300 L198.8 301 L198.6 302 L198.3 303 L198 304 L197.6 305 L197.2 306 L196.7 307 L196.2 308 L195.6 309 L194.9 310 L194.3 311 L193.6 312 L192.8 313 L192.1 314 L191.3 315 L190.4 316 L189.4 317 L189.4 319 L165.9 319 L165.9 317 L164.3 316 L162.8 315 L161.8 314 L161.2 313 L160.7 312 L160.2 311 L159.8 310 L159.5 309 L159.2 308 L158.9 307 L158.6 306 L158.3 305 L158 304 L157.7 303 L157.3 302 L157 301 L156.6 300 L156.2 299 L155.9 298 L155.6 297 L155.3 296 L155 295 L154.7 294 L154.5 293 L154.4 292 L154.3 291 L154.2 290 L154.2 289 L154.1 288 L154.1 287 L154 286 L154 285 L153.9 284 L153.9 283 L153.8 282 L153.8 281 L153.8 280 L153.7 279 L153.7 278 L153.7 277 L153.7 276 L153.7 275 L153.7 274 L153.7 273 L153.7 272 L153.7 271 L153.7 270 L153.7 269 L153.7 268 L153.7 267 L153.7 266 L153.7 265 L153.7 264 L153.7 263 L153.7 262 L153.7 261 L153.7 260 L153.7 259 L153.7 258 L153.7 256 L153.7 255 L153.7 254 L153.7 253 L153.7 252 L153.7 251 L153.7 250 L153.7 249 L153.7 248 L153.7 247 L153.7 246 L153.7 245 L153.7 244 L153.7 243 L153.7 242 L153.7 241 L153.7 240 L153.7 239 L153.7 238 L153.7 237 L153.7 236 L153.7 235 L153.7 234 L153.8 233 L153.8 232 L153.8 231 L153.9 230 L153.9 229 L154 228 L154 227 L154.1 226 L154.1 225 L154.2 224 L154.2 223 L154.3 222 L154.4 221 L154.5 220 L154.7 219 L155 218 L155.3 217 L155.6 216 L155.9 215 L156.2 214 L156.6 213 L157 212 L157.3 211 L157.7 210 L158 209 L158.3 208 L158.6 207 L158.9 206 L159.2 205 L159.5 204 L159.8 203 L160.2 202 L160.7 201 L161.2 200 L161.8 199 L162.8 198 L164.3 197 L165.9 196 L165.9 194Z" fill="#00a898"/>
<path d="M135 256.5 L135 262.2 L134.9 266.1 L134.8 269.7 L134.6 272.9 L134.5 275.9 L134.2 278.7 L133.9 281.4 L133.6 283.9 L133.2 286.4 L132.8 288.7 L132.4 290.8 L131.9 292.9 L131.3 294.9 L130.7 296.7 L130.1 298.5 L129.4 300.1 L128.7 301.6 L128 303.1 L127.2 304.4 L126.4 305.6 L125.5 306.6 L124.6 307.6 L123.6 308.5 L122.6 309.2 L121.5 309.9 L120.3 310.4 L119.1 310.8 L117.8 311.1 L116.3 311.2 L114.1 311.3 L111.9 311.2 L110.4 311.1 L109.1 310.8 L107.9 310.4 L106.7 309.9 L105.6 309.2 L104.6 308.5 L103.6 307.6 L102.7 306.6 L101.8 305.6 L101 304.4 L100.2 303.1 L99.5 301.6 L98.8 300.1 L98.1 298.5 L97.5 296.7 L96.9 294.9 L96.3 292.9 L95.8 290.8 L95.4 288.7 L95 286.4 L94.6 283.9 L94.3 281.4 L94 278.7 L93.7 275.9 L93.6 272.9 L93.4 269.7 L93.3 266.1 L93.2 262.2 L93.2 256.5 L93.2 250.8 L93.3 246.9 L93.4 243.3 L93.6 240.1 L93.7 237.1 L94 234.3 L94.3 231.6 L94.6 229.1 L95 226.6 L95.4 224.3 L95.8 222.2 L96.3 220.1 L96.9 218.1 L97.5 216.3 L98.1 214.5 L98.8 212.9 L99.5 211.4 L100.2 209.9 L101 208.6 L101.8 207.4 L102.7 206.4 L103.6 205.4 L104.6 204.5 L105.6 203.8 L106.7 203.1 L107.9 202.6 L109.1 202.2 L110.4 201.9 L111.9 201.8 L114.1 201.7 L116.3 201.8 L117.8 201.9 L119.1 202.2 L120.3 202.6 L121.5 203.1 L122.6 203.8 L123.6 204.5 L124.6 205.4 L125.5 206.4 L126.4 207.4 L127.2 208.6 L128 209.9 L128.7 211.4 L129.4 212.9 L130.1 214.5 L130.7 216.3 L131.3 218.1 L131.9 220.1 L132.4 222.2 L132.8 224.3 L133.2 226.6 L133.6 229.1 L133.9 231.6 L134.2 234.3 L134.5 237.1 L134.6 240.1 L134.8 243.3 L134.9 246.9 L135 250.8Z" fill="#0077a8"/>
<path d="M157 256.5 L157 262.2 L157.1 266.1 L157.2 269.7 L157.4 272.9 L157.5 275.9 L157.8 278.7 L158.1 281.4 L158.4 283.9 L158.8 286.4 L159.2 288.7 L159.6 290.8 L160.1 292.9 L160.7 294.9 L161.3 296.7 L161.9 298.5 L162.6 300.1 L163.3 301.6 L164 303.1 L164.8 304.4 L165.6 305.6 L166.5 306.6 L167.4 307.6 L168.4 308.5 L169.4 309.2 L170.5 309.9 L171.7 310.4 L172.9 310.8 L174.2 311.1 L175.7 311.2 L177.9 311.3 L180.1 311.2 L181.6 311.1 L182.9 310.8 L184.1 310.4 L185.3 309.9 L186.4 309.2 L187.4 308.5 L188.4 307.6 L189.3 306.6 L190.2 305.6 L191 304.4 L191.8 303.1 L192.5 301.6 L193.2 300.1 L193.9 298.5 L194.5 296.7 L195.1 294.9 L195.7 292.9 L196.2 290.8 L196.6 288.7 L197 286.4 L197.4 283.9 L197.7 281.4 L198 278.7 L198.3 275.9 L198.4 272.9 L198.6 269.7 L198.7 266.1 L198.8 262.2 L198.8 256.5 L198.8 250.8 L198.7 246.9 L198.6 243.3 L198.4 240.1 L198.3 237.1 L198 234.3 L197.7 231.6 L197.4 229.1 L197 226.6 L196.6 224.3 L196.2 222.2 L195.7 220.1 L195.1 218.1 L194.5 216.3 L193.9 214.5 L193.2 212.9 L192.5 211.4 L191.8 209.9 L191 208.6 L190.2 207.4 L189.3 206.4 L188.4 205.4 L187.4 204.5 L186.4 203.8 L185.3 203.1 L184.1 202.6 L182.9 202.2 L181.6 201.9 L180.1 201.8 L177.9 201.7 L175.7 201.8 L174.2 201.9 L172.9 202.2 L171.7 202.6 L170.5 203.1 L169.4 203.8 L168.4 204.5 L167.4 205.4 L166.5 206.4 L165.6 207.4 L164.8 208.6 L164 209.9 L163.3 211.4 L162.6 212.9 L161.9 214.5 L161.3 216.3 L160.7 218.1 L160.1 220.1 L159.6 222.2 L159.2 224.3 L158.8 226.6 L158.4 229.1 L158.1 231.6 L157.8 234.3 L157.5 237.1 L157.4 240.1 L157.2 243.3 L157.1 246.9 L157 250.8Z" fill="#0077a8"/>
<path d="M129.5 256.5 L129.5 259.6 L129.4 262.2 L129.3 264.6 L129.2 266.9 L129.1 269.1 L128.9 271.2 L128.6 273.3 L128.4 275.2 L128.1 277.1 L127.7 278.9 L127.4 280.6 L127 282.3 L126.5 283.8 L126.1 285.3 L125.6 286.8 L125.1 288.1 L124.5 289.3 L123.9 290.5 L123.3 291.6 L122.7 292.6 L122 293.5 L121.4 294.3 L120.6 295 L119.9 295.7 L119.1 296.2 L118.3 296.6 L117.5 297 L116.6 297.2 L115.7 297.4 L114.5 297.4 L113.3 297.4 L112.4 297.2 L111.5 297 L110.7 296.6 L109.9 296.2 L109.1 295.7 L108.4 295 L107.6 294.3 L107 293.5 L106.3 292.6 L105.7 291.6 L105.1 290.5 L104.5 289.3 L103.9 288.1 L103.4 286.8 L102.9 285.3 L102.5 283.8 L102 282.3 L101.6 280.6 L101.3 278.9 L100.9 277.1 L100.6 275.2 L100.4 273.3 L100.1 271.2 L99.9 269.1 L99.8 266.9 L99.7 264.6 L99.6 262.2 L99.5 259.6 L99.5 256.5 L99.5 253.4 L99.6 250.8 L99.7 248.4 L99.8 246.1 L99.9 243.9 L100.1 241.8 L100.4 239.7 L100.6 237.8 L100.9 235.9 L101.3 234.1 L101.6 232.4 L102 230.7 L102.5 229.2 L102.9 227.7 L103.4 226.2 L103.9 224.9 L104.5 223.7 L105.1 222.5 L105.7 221.4 L106.3 220.4 L107 219.5 L107.6 218.7 L108.4 218 L109.1 217.3 L109.9 216.8 L110.7 216.4 L111.5 216 L112.4 215.8 L113.3 215.6 L114.5 215.6 L115.7 215.6 L116.6 215.8 L117.5 216 L118.3 216.4 L119.1 216.8 L119.9 217.3 L120.6 218 L121.4 218.7 L122 219.5 L122.7 220.4 L123.3 221.4 L123.9 222.5 L124.5 223.7 L125.1 224.9 L125.6 226.2 L126.1 227.7 L126.5 229.2 L127 230.7 L127.4 232.4 L127.7 234.1 L128.1 235.9 L128.4 237.8 L128.6 239.7 L128.9 241.8 L129.1 243.9 L129.2 246.1 L129.3 248.4 L129.4 250.8 L129.5 253.4Z" fill="#0000a8"/>
<path d="M162.5 256.5 L162.5 259.6 L162.6 262.2 L162.7 264.6 L162.8 266.9 L162.9 269.1 L163.1 271.2 L163.4 273.3 L163.6 275.2 L163.9 277.1 L164.3 278.9 L164.6 280.6 L165 282.3 L165.5 283.8 L165.9 285.3 L166.4 286.8 L166.9 288.1 L167.5 289.3 L168.1 290.5 L168.7 291.6 L169.3 292.6 L170 293.5 L170.6 294.3 L171.4 295 L172.1 295.7 L172.9 296.2 L173.7 296.6 L174.5 297 L175.4 297.2 L176.3 297.4 L177.5 297.4 L178.7 297.4 L179.6 297.2 L180.5 297 L181.3 296.6 L182.1 296.2 L182.9 295.7 L183.6 295 L184.4 294.3 L185 293.5 L185.7 292.6 L186.3 291.6 L186.9 290.5 L187.5 289.3 L188.1 288.1 L188.6 286.8 L189.1 285.3 L189.5 283.8 L190 282.3 L190.4 280.6 L190.7 278.9 L191.1 277.1 L191.4 275.2 L191.6 273.3 L191.9 271.2 L192.1 269.1 L192.2 266.9 L192.3 264.6 L192.4 262.2 L192.5 259.6 L192.5 256.5 L192.5 253.4 L192.4 250.8 L192.3 248.4 L192.2 246.1 L192.1 243.9 L191.9 241.8 L191.6 239.7 L191.4 237.8 L191.1 235.9 L190.7 234.1 L190.4 232.4 L190 230.7 L189.5 229.2 L189.1 227.7 L188.6 226.2 L188.1 224.9 L187.5 223.7 L186.9 222.5 L186.3 221.4 L185.7 220.4 L185 219.5 L184.4 218.7 L183.6 218 L182.9 217.3 L182.1 216.8 L181.3 216.4 L180.5 216 L179.6 215.8 L178.7 215.6 L177.5 215.6 L176.3 215.6 L175.4 215.8 L174.5 216 L173.7 216.4 L172.9 216.8 L172.1 217.3 L171.4 218 L170.6 218.7 L170 219.5 L169.3 220.4 L168.7 221.4 L168.1 222.5 L167.5 223.7 L166.9 224.9 L166.4 226.2 L165.9 227.7 L165.5 229.2 L165 230.7 L164.6 232.4 L164.3 234.1 L163.9 235.9 L163.6 237.8 L163.4 239.7 L163.1 241.8 L162.9 243.9 L162.8 246.1 L162.7 248.4 L162.6 250.8 L162.5 253.4Z" fill="#0000a8"/>
</g>
<path d="M155.8 256.1 L174.7 256.1 L178.9 261.6 L174.7 267 L155.8 267Z" fill="#0000ff"/>
<circle cx="179.6" cy="261.6" r="0.6" fill="#5a5040"/>
<text transform="translate(157.8 265) scale(0.95 1)" class="mn">Min</text>
<clipPath id="c4"><rect x="303" y="197" width="146" height="120.2"/></clipPath>
<g clip-path="url(#c4)">
<rect x="303" y="197" width="146" height="120.2" fill="#a80000"/>
<path d="M311.6 195 L311.6 197 L311.5 198 L311.5 199 L311.4 200 L311.3 201 L311.2 202 L311.2 203 L311.1 204 L311 205 L310.9 206 L310.8 207 L310.7 208 L310.6 209 L310.5 210 L310.4 211 L310.3 212 L310.1 213 L310 214 L309.9 215 L309.7 216 L309.6 217 L309.5 218 L309.3 219 L309.2 220 L309 221 L308.9 222 L308.8 223 L308.6 224 L308.4 225 L308.3 226 L308.1 227 L307.9 228 L307.8 229 L307.6 230 L307.4 231 L307.2 232 L307.1 233 L306.9 234 L306.7 235 L306.6 236 L306.5 237 L306.3 238 L306.2 239 L306.1 240 L306 241 L305.9 242 L305.8 243 L305.7 244 L305.6 245 L305.5 246 L305.4 247 L305.3 248 L305.2 249 L305.1 250 L305 251 L304.9 252 L304.9 253 L304.8 254 L304.7 255 L304.7 256 L304.6 257 L304.7 258.2 L304.7 259.2 L304.8 260.2 L304.9 261.2 L304.9 262.2 L305 263.2 L305.1 264.2 L305.2 265.2 L305.3 266.2 L305.4 267.2 L305.5 268.2 L305.6 269.2 L305.7 270.2 L305.8 271.2 L305.9 272.2 L306 273.2 L306.1 274.2 L306.2 275.2 L306.3 276.2 L306.5 277.2 L306.6 278.2 L306.7 279.2 L306.9 280.2 L307.1 281.2 L307.2 282.2 L307.4 283.2 L307.6 284.2 L307.8 285.2 L307.9 286.2 L308.1 287.2 L308.3 288.2 L308.4 289.2 L308.6 290.2 L308.8 291.2 L308.9 292.2 L309 293.2 L309.2 294.2 L309.3 295.2 L309.5 296.2 L309.6 297.2 L309.7 298.2 L309.9 299.2 L310 300.2 L310.1 301.2 L310.3 302.2 L310.4 303.2 L310.5 304.2 L310.6 305.2 L310.7 306.2 L310.8 307.2 L310.9 308.2 L311 309.2 L311.1 310.2 L311.2 311.2 L311.2 312.2 L311.3 313.2 L311.4 314.2 L311.5 315.2 L311.5 316.2 L311.6 317.2 L311.6 319.2 L441.2 319.2 L441.2 317.2 L441.3 316.2 L441.3 315.2 L441.4 314.2 L441.5 313.2 L441.6 312.2 L441.6 311.2 L441.7 310.2 L441.8 309.2 L441.9 308.2 L442 307.2 L442.1 306.2 L442.2 305.2 L442.3 304.2 L442.4 303.2 L442.5 302.2 L442.7 301.2 L442.8 300.2 L442.9 299.2 L443.1 298.2 L443.2 297.2 L443.3 296.2 L443.5 295.2 L443.6 294.2 L443.8 293.2 L443.9 292.2 L444 291.2 L444.2 290.2 L444.4 289.2 L444.5 288.2 L444.7 287.2 L444.9 286.2 L445 285.2 L445.2 284.2 L445.4 283.2 L445.6 282.2 L445.7 281.2 L445.9 280.2 L446.1 279.2 L446.2 278.2 L446.3 277.2 L446.5 276.2 L446.6 275.2 L446.7 274.2 L446.8 273.2 L446.9 272.2 L447 271.2 L447.1 270.2 L447.2 269.2 L447.3 268.2 L447.4 267.2 L447.5 266.2 L447.6 265.2 L447.7 264.2 L447.8 263.2 L447.9 262.2 L447.9 261.2 L448 260.2 L448.1 259.2 L448.1 258.2 L448.2 257 L448.1 256 L448.1 255 L448 254 L447.9 253 L447.9 252 L447.8 251 L447.7 250 L447.6 249 L447.5 248 L447.4 247 L447.3 246 L447.2 245 L447.1 244 L447 243 L446.9 242 L446.8 241 L446.7 240 L446.6 239 L446.5 238 L446.3 237 L446.2 236 L446.1 235 L445.9 234 L445.7 233 L445.6 232 L445.4 231 L445.2 230 L445 229 L444.9 228 L444.7 227 L444.5 226 L444.4 225 L444.2 224 L444 223 L443.9 222 L443.8 221 L443.6 220 L443.5 219 L443.3 218 L443.2 217 L443.1 216 L442.9 215 L442.8 214 L442.7 213 L442.5 212 L442.4 211 L442.3 210 L442.2 209 L442.1 208 L442 207 L441.9 206 L441.8 205 L441.7 204 L441.6 203 L441.6 202 L441.5 201 L441.4 200 L441.3 199 L441.3 198 L441.2 197 L441.2 195Z" fill="#a87700"/>
<path d="M314.5 195 L314.5 197 L314.4 198 L314.4 199 L314.3 200 L314.3 201 L314.2 202 L314.2 203 L314.2 204 L314.1 205 L314.1 206 L314.1 207 L314 208 L314 209 L314 210 L313.9 211 L313.9 212 L313.8 213 L313.8 214 L313.7 215 L313.7 216 L313.6 217 L313.5 218 L313.5 219 L313.4 220 L313.4 221 L313.3 222 L313.2 223 L313.2 224 L313.1 225 L313 226 L312.9 227 L312.8 228 L312.7 229 L312.6 230 L312.5 231 L312.4 232 L312.4 233 L312.3 234 L312.2 235 L312.1 236 L312 237 L312 238 L311.9 239 L311.8 240 L311.8 241 L311.7 242 L311.7 243 L311.6 244 L311.6 245 L311.5 246 L311.5 247 L311.4 248 L311.4 249 L311.3 250 L311.3 251 L311.3 252 L311.2 253 L311.2 254 L311.2 255 L311.1 256 L311.1 257 L311.1 258.2 L311.2 259.2 L311.2 260.2 L311.2 261.2 L311.3 262.2 L311.3 263.2 L311.3 264.2 L311.4 265.2 L311.4 266.2 L311.5 267.2 L311.5 268.2 L311.6 269.2 L311.6 270.2 L311.7 271.2 L311.7 272.2 L311.8 273.2 L311.8 274.2 L311.9 275.2 L312 276.2 L312 277.2 L312.1 278.2 L312.2 279.2 L312.3 280.2 L312.4 281.2 L312.4 282.2 L312.5 283.2 L312.6 284.2 L312.7 285.2 L312.8 286.2 L312.9 287.2 L313 288.2 L313.1 289.2 L313.2 290.2 L313.2 291.2 L313.3 292.2 L313.4 293.2 L313.4 294.2 L313.5 295.2 L313.5 296.2 L313.6 297.2 L313.7 298.2 L313.7 299.2 L313.8 300.2 L313.8 301.2 L313.9 302.2 L313.9 303.2 L314 304.2 L314 305.2 L314 306.2 L314.1 307.2 L314.1 308.2 L314.1 309.2 L314.2 310.2 L314.2 311.2 L314.2 312.2 L314.3 313.2 L314.3 314.2 L314.4 315.2 L314.4 316.2 L314.5 317.2 L314.5 319.2 L438.3 319.2 L438.3 317.2 L438.4 316.2 L438.4 315.2 L438.5 314.2 L438.5 313.2 L438.6 312.2 L438.6 311.2 L438.6 310.2 L438.7 309.2 L438.7 308.2 L438.7 307.2 L438.8 306.2 L438.8 305.2 L438.8 304.2 L438.9 303.2 L438.9 302.2 L439 301.2 L439 300.2 L439.1 299.2 L439.1 298.2 L439.2 297.2 L439.3 296.2 L439.3 295.2 L439.4 294.2 L439.4 293.2 L439.5 292.2 L439.6 291.2 L439.6 290.2 L439.7 289.2 L439.8 288.2 L439.9 287.2 L440 286.2 L440.1 285.2 L440.2 284.2 L440.3 283.2 L440.4 282.2 L440.4 281.2 L440.5 280.2 L440.6 279.2 L440.7 278.2 L440.8 277.2 L440.8 276.2 L440.9 275.2 L441 274.2 L441 273.2 L441.1 272.2 L441.1 271.2 L441.2 270.2 L441.2 269.2 L441.3 268.2 L441.3 267.2 L441.4 266.2 L441.4 265.2 L441.5 264.2 L441.5 263.2 L441.5 262.2 L441.6 261.2 L441.6 260.2 L441.6 259.2 L441.7 258.2 L441.7 257 L441.7 256 L441.6 255 L441.6 254 L441.6 253 L441.5 252 L441.5 251 L441.5 250 L441.4 249 L441.4 248 L441.3 247 L441.3 246 L441.2 245 L441.2 244 L441.1 243 L441.1 242 L441 241 L441 240 L440.9 239 L440.8 238 L440.8 237 L440.7 236 L440.6 235 L440.5 234 L440.4 233 L440.4 232 L440.3 231 L440.2 230 L440.1 229 L440 228 L439.9 227 L439.8 226 L439.7 225 L439.6 224 L439.6 223 L439.5 222 L439.4 221 L439.4 220 L439.3 219 L439.3 218 L439.2 217 L439.1 216 L439.1 215 L439 214 L439 213 L438.9 212 L438.9 211 L438.8 210 L438.8 209 L438.8 208 L438.7 207 L438.7 206 L438.7 205 L438.6 204 L438.6 203 L438.6 202 L438.5 201 L438.5 200 L438.4 199 L438.4 198 L438.3 197 L438.3 195Z" fill="#98a800"/>
<path d="M318.5 195 L318.5 197 L318.4 198 L318.2 199 L318.1 200 L318 201 L317.8 202 L317.7 203 L317.5 204 L317.3 205 L317.2 206 L317 207 L316.9 208 L316.8 209 L316.7 210 L316.6 211 L316.5 212 L316.4 213 L316.3 214 L316.2 215 L316.1 216 L316.1 217 L316 218 L315.9 219 L315.8 220 L315.8 221 L315.7 222 L315.6 223 L315.6 224 L315.5 225 L315.4 226 L315.4 227 L315.3 228 L315.2 229 L315.2 230 L315.1 231 L315 232 L315 233 L314.9 234 L314.9 235 L314.8 236 L314.8 237 L314.7 238 L314.7 239 L314.7 240 L314.6 241 L314.6 242 L314.6 243 L314.5 244 L314.5 245 L314.5 246 L314.5 247 L314.4 248 L314.4 249 L314.4 250 L314.4 251 L314.4 252 L314.3 253 L314.3 254 L314.3 255 L314.3 256 L314.3 257 L314.3 258.2 L314.3 259.2 L314.3 260.2 L314.3 261.2 L314.4 262.2 L314.4 263.2 L314.4 264.2 L314.4 265.2 L314.4 266.2 L314.5 267.2 L314.5 268.2 L314.5 269.2 L314.5 270.2 L314.6 271.2 L314.6 272.2 L314.6 273.2 L314.7 274.2 L314.7 275.2 L314.7 276.2 L314.8 277.2 L314.8 278.2 L314.9 279.2 L314.9 280.2 L315 281.2 L315 282.2 L315.1 283.2 L315.2 284.2 L315.2 285.2 L315.3 286.2 L315.4 287.2 L315.4 288.2 L315.5 289.2 L315.6 290.2 L315.6 291.2 L315.7 292.2 L315.8 293.2 L315.8 294.2 L315.9 295.2 L316 296.2 L316.1 297.2 L316.1 298.2 L316.2 299.2 L316.3 300.2 L316.4 301.2 L316.5 302.2 L316.6 303.2 L316.7 304.2 L316.8 305.2 L316.9 306.2 L317 307.2 L317.2 308.2 L317.3 309.2 L317.5 310.2 L317.7 311.2 L317.8 312.2 L318 313.2 L318.1 314.2 L318.2 315.2 L318.4 316.2 L318.5 317.2 L318.5 319.2 L434.3 319.2 L434.3 317.2 L434.4 316.2 L434.6 315.2 L434.7 314.2 L434.8 313.2 L435 312.2 L435.1 311.2 L435.3 310.2 L435.5 309.2 L435.6 308.2 L435.8 307.2 L435.9 306.2 L436 305.2 L436.1 304.2 L436.2 303.2 L436.3 302.2 L436.4 301.2 L436.5 300.2 L436.6 299.2 L436.7 298.2 L436.7 297.2 L436.8 296.2 L436.9 295.2 L437 294.2 L437 293.2 L437.1 292.2 L437.2 291.2 L437.2 290.2 L437.3 289.2 L437.4 288.2 L437.4 287.2 L437.5 286.2 L437.6 285.2 L437.6 284.2 L437.7 283.2 L437.8 282.2 L437.8 281.2 L437.9 280.2 L437.9 279.2 L438 278.2 L438 277.2 L438.1 276.2 L438.1 275.2 L438.1 274.2 L438.2 273.2 L438.2 272.2 L438.2 271.2 L438.3 270.2 L438.3 269.2 L438.3 268.2 L438.3 267.2 L438.4 266.2 L438.4 265.2 L438.4 264.2 L438.4 263.2 L438.4 262.2 L438.5 261.2 L438.5 260.2 L438.5 259.2 L438.5 258.2 L438.5 257 L438.5 256 L438.5 255 L438.5 254 L438.5 253 L438.4 252 L438.4 251 L438.4 250 L438.4 249 L438.4 248 L438.3 247 L438.3 246 L438.3 245 L438.3 244 L438.2 243 L438.2 242 L438.2 241 L438.1 240 L438.1 239 L438.1 238 L438 237 L438 236 L437.9 235 L437.9 234 L437.8 233 L437.8 232 L437.7 231 L437.6 230 L437.6 229 L437.5 228 L437.4 227 L437.4 226 L437.3 225 L437.2 224 L437.2 223 L437.1 222 L437 221 L437 220 L436.9 219 L436.8 218 L436.7 217 L436.7 216 L436.6 215 L436.5 214 L436.4 213 L436.3 212 L436.2 211 L436.1 210 L436 209 L435.9 208 L435.8 207 L435.6 206 L435.5 205 L435.3 204 L435.1 203 L435 202 L434.8 201 L434.7 200 L434.6 199 L434.4 198 L434.3 197 L434.3 195Z" fill="#3ba800"/>
<path d="M371 195 L381.3 195 L380.5 201 L378.5 205.5 L376.2 208 L373.8 205.5 L371.8 201Z" fill="#98a800"/>
<path d="M371 319.2 L381.3 319.2 L380.5 313.2 L378.5 308.7 L376.2 306.2 L373.8 308.7 L371.8 313.2Z" fill="#98a800"/>
<path d="M324 195 L324 197 L323.7 198 L323.3 199 L323 200 L322.7 201 L322.3 202 L322 203 L321.7 204 L321.4 205 L321.1 206 L320.8 207 L320.5 208 L320.3 209 L320.1 210 L319.9 211 L319.7 212 L319.5 213 L319.3 214 L319.1 215 L318.9 216 L318.8 217 L318.6 218 L318.5 219 L318.3 220 L318.2 221 L318.1 222 L318 223 L317.9 224 L317.8 225 L317.7 226 L317.6 227 L317.5 228 L317.4 229 L317.3 230 L317.2 231 L317.2 232 L317.1 233 L317 234 L317 235 L316.9 236 L316.9 237 L316.8 238 L316.8 239 L316.8 240 L316.7 241 L316.7 242 L316.7 243 L316.7 244 L316.6 245 L316.6 246 L316.6 247 L316.6 248 L316.6 249 L316.6 250 L316.5 251 L316.5 252 L316.5 253 L316.5 254 L316.5 255 L316.5 256 L316.5 257 L316.5 258.2 L316.5 259.2 L316.5 260.2 L316.5 261.2 L316.5 262.2 L316.5 263.2 L316.6 264.2 L316.6 265.2 L316.6 266.2 L316.6 267.2 L316.6 268.2 L316.6 269.2 L316.7 270.2 L316.7 271.2 L316.7 272.2 L316.7 273.2 L316.8 274.2 L316.8 275.2 L316.8 276.2 L316.9 277.2 L316.9 278.2 L317 279.2 L317 280.2 L317.1 281.2 L317.2 282.2 L317.2 283.2 L317.3 284.2 L317.4 285.2 L317.5 286.2 L317.6 287.2 L317.7 288.2 L317.8 289.2 L317.9 290.2 L318 291.2 L318.1 292.2 L318.2 293.2 L318.3 294.2 L318.5 295.2 L318.6 296.2 L318.8 297.2 L318.9 298.2 L319.1 299.2 L319.3 300.2 L319.5 301.2 L319.7 302.2 L319.9 303.2 L320.1 304.2 L320.3 305.2 L320.5 306.2 L320.8 307.2 L321.1 308.2 L321.4 309.2 L321.7 310.2 L322 311.2 L322.3 312.2 L322.7 313.2 L323 314.2 L323.3 315.2 L323.7 316.2 L324 317.2 L324 319.2 L364 319.2 L364 317.2 L364.4 316.2 L364.8 315.2 L365.1 314.2 L365.4 313.2 L365.8 312.2 L366.1 311.2 L366.4 310.2 L366.7 309.2 L367 308.2 L367.3 307.2 L367.6 306.2 L367.8 305.2 L368 304.2 L368.2 303.2 L368.4 302.2 L368.6 301.2 L368.7 300.2 L368.9 299.2 L369.1 298.2 L369.2 297.2 L369.4 296.2 L369.5 295.2 L369.7 294.2 L369.8 293.2 L370 292.2 L370.2 291.2 L370.3 290.2 L370.5 289.2 L370.6 288.2 L370.7 287.2 L370.9 286.2 L371 285.2 L371.1 284.2 L371.3 283.2 L371.4 282.2 L371.6 281.2 L371.7 280.2 L371.9 279.2 L372.1 278.2 L372.3 277.2 L372.5 276.2 L372.7 275.2 L373 274.2 L373.3 273.2 L373.6 272.2 L374 271.2 L374.4 270.2 L374.8 269.2 L375.2 268.2 L375.6 267.2 L376 266.2 L376.4 265.2 L376.8 264.2 L377.3 263.2 L377.7 262.2 L378.1 261.2 L378.6 260.2 L379 259.2 L379.5 258.2 L380 257 L379.5 256 L379 255 L378.6 254 L378.1 253 L377.7 252 L377.3 251 L376.8 250 L376.4 249 L376 248 L375.6 247 L375.2 246 L374.8 245 L374.4 244 L374 243 L373.6 242 L373.3 241 L373 240 L372.7 239 L372.5 238 L372.3 237 L372.1 236 L371.9 235 L371.7 234 L371.6 233 L371.4 232 L371.3 231 L371.1 230 L371 229 L370.9 228 L370.7 227 L370.6 226 L370.5 225 L370.3 224 L370.2 223 L370 222 L369.8 221 L369.7 220 L369.5 219 L369.4 218 L369.2 217 L369.1 216 L368.9 215 L368.7 214 L368.6 213 L368.4 212 L368.2 211 L368 210 L367.8 209 L367.6 208 L367.3 207 L367 206 L366.7 205 L366.4 204 L366.1 203 L365.8 202 L365.4 201 L365.1 200 L364.8 199 L364.4 198 L364 197 L364 195Z" fill="#00a842"/>
<path d="M428.8 195 L428.8 197 L429.1 198 L429.5 199 L429.8 200 L430.1 201 L430.5 202 L430.8 203 L431.1 204 L431.4 205 L431.7 206 L432 207 L432.3 208 L432.5 209 L432.7 210 L432.9 211 L433.1 212 L433.3 213 L433.5 214 L433.7 215 L433.9 216 L434 217 L434.2 218 L434.3 219 L434.5 220 L434.6 221 L434.7 222 L434.8 223 L434.9 224 L435 225 L435.1 226 L435.2 227 L435.3 228 L435.4 229 L435.5 230 L435.6 231 L435.6 232 L435.7 233 L435.8 234 L435.8 235 L435.9 236 L435.9 237 L436 238 L436 239 L436 240 L436.1 241 L436.1 242 L436.1 243 L436.1 244 L436.2 245 L436.2 246 L436.2 247 L436.2 248 L436.2 249 L436.2 250 L436.3 251 L436.3 252 L436.3 253 L436.3 254 L436.3 255 L436.3 256 L436.3 257 L436.3 258.2 L436.3 259.2 L436.3 260.2 L436.3 261.2 L436.3 262.2 L436.3 263.2 L436.2 264.2 L436.2 265.2 L436.2 266.2 L436.2 267.2 L436.2 268.2 L436.2 269.2 L436.1 270.2 L436.1 271.2 L436.1 272.2 L436.1 273.2 L436 274.2 L436 275.2 L436 276.2 L435.9 277.2 L435.9 278.2 L435.8 279.2 L435.8 280.2 L435.7 281.2 L435.6 282.2 L435.6 283.2 L435.5 284.2 L435.4 285.2 L435.3 286.2 L435.2 287.2 L435.1 288.2 L435 289.2 L434.9 290.2 L434.8 291.2 L434.7 292.2 L434.6 293.2 L434.5 294.2 L434.3 295.2 L434.2 296.2 L434 297.2 L433.9 298.2 L433.7 299.2 L433.5 300.2 L433.3 301.2 L433.1 302.2 L432.9 303.2 L432.7 304.2 L432.5 305.2 L432.3 306.2 L432 307.2 L431.7 308.2 L431.4 309.2 L431.1 310.2 L430.8 311.2 L430.5 312.2 L430.1 313.2 L429.8 314.2 L429.5 315.2 L429.1 316.2 L428.8 317.2 L428.8 319.2 L388.8 319.2 L388.8 317.2 L388.4 316.2 L388 315.2 L387.7 314.2 L387.4 313.2 L387 312.2 L386.7 311.2 L386.4 310.2 L386.1 309.2 L385.8 308.2 L385.5 307.2 L385.2 306.2 L385 305.2 L384.8 304.2 L384.6 303.2 L384.4 302.2 L384.2 301.2 L384.1 300.2 L383.9 299.2 L383.7 298.2 L383.6 297.2 L383.4 296.2 L383.3 295.2 L383.1 294.2 L383 293.2 L382.8 292.2 L382.6 291.2 L382.5 290.2 L382.3 289.2 L382.2 288.2 L382.1 287.2 L381.9 286.2 L381.8 285.2 L381.7 284.2 L381.5 283.2 L381.4 282.2 L381.2 281.2 L381.1 280.2 L380.9 279.2 L380.7 278.2 L380.5 277.2 L380.3 276.2 L380.1 275.2 L379.8 274.2 L379.5 273.2 L379.2 272.2 L378.8 271.2 L378.4 270.2 L378 269.2 L377.6 268.2 L377.2 267.2 L376.8 266.2 L376.4 265.2 L376 264.2 L375.5 263.2 L375.1 262.2 L374.7 261.2 L374.2 260.2 L373.8 259.2 L373.3 258.2 L372.8 257 L373.3 256 L373.8 255 L374.2 254 L374.7 253 L375.1 252 L375.5 251 L376 250 L376.4 249 L376.8 248 L377.2 247 L377.6 246 L378 245 L378.4 244 L378.8 243 L379.2 242 L379.5 241 L379.8 240 L380.1 239 L380.3 238 L380.5 237 L380.7 236 L380.9 235 L381.1 234 L381.2 233 L381.4 232 L381.5 231 L381.7 230 L381.8 229 L381.9 228 L382.1 227 L382.2 226 L382.3 225 L382.5 224 L382.6 223 L382.8 222 L383 221 L383.1 220 L383.3 219 L383.4 218 L383.6 217 L383.7 216 L383.9 215 L384.1 214 L384.2 213 L384.4 212 L384.6 211 L384.8 210 L385 209 L385.2 208 L385.5 207 L385.8 206 L386.1 205 L386.4 204 L386.7 203 L387 202 L387.4 201 L387.7 200 L388 199 L388.4 198 L388.8 197 L388.8 195Z" fill="#00a842"/>
<path d="M335.4 195 L335.4 197 L333.5 198 L331.7 199 L330.5 200 L329.7 201 L329 202 L328.3 203 L327.8 204 L327.3 205 L326.8 206 L326.4 207 L326.1 208 L325.7 209 L325.3 210 L325 211 L324.7 212 L324.4 213 L324.1 214 L323.8 215 L323.5 216 L323.3 217 L323 218 L322.8 219 L322.6 220 L322.4 221 L322.2 222 L322 223 L321.8 224 L321.6 225 L321.4 226 L321.2 227 L321 228 L320.8 229 L320.6 230 L320.5 231 L320.3 232 L320.2 233 L320 234 L319.9 235 L319.8 236 L319.8 237 L319.7 238 L319.7 239 L319.7 240 L319.7 241 L319.7 242 L319.7 243 L319.7 244 L319.7 245 L319.7 246 L319.7 247 L319.7 248 L319.7 249 L319.7 250 L319.7 251 L319.7 252 L319.7 253 L319.7 254 L319.7 255 L319.7 256 L319.7 257 L319.7 258.2 L319.7 259.2 L319.7 260.2 L319.7 261.2 L319.7 262.2 L319.7 263.2 L319.7 264.2 L319.7 265.2 L319.7 266.2 L319.7 267.2 L319.7 268.2 L319.7 269.2 L319.7 270.2 L319.7 271.2 L319.7 272.2 L319.7 273.2 L319.7 274.2 L319.7 275.2 L319.7 276.2 L319.8 277.2 L319.8 278.2 L319.9 279.2 L320 280.2 L320.2 281.2 L320.3 282.2 L320.5 283.2 L320.6 284.2 L320.8 285.2 L321 286.2 L321.2 287.2 L321.4 288.2 L321.6 289.2 L321.8 290.2 L322 291.2 L322.2 292.2 L322.4 293.2 L322.6 294.2 L322.8 295.2 L323 296.2 L323.3 297.2 L323.5 298.2 L323.8 299.2 L324.1 300.2 L324.4 301.2 L324.7 302.2 L325 303.2 L325.3 304.2 L325.7 305.2 L326.1 306.2 L326.4 307.2 L326.8 308.2 L327.3 309.2 L327.8 310.2 L328.3 311.2 L329 312.2 L329.7 313.2 L330.5 314.2 L331.7 315.2 L333.5 316.2 L335.4 317.2 L335.4 319.2 L354.1 319.2 L354.1 317.2 L355.4 316.2 L356.6 315.2 L357.6 314.2 L358.4 313.2 L359.2 312.2 L359.9 311.2 L360.5 310.2 L361.1 309.2 L361.7 308.2 L362.2 307.2 L362.6 306.2 L363 305.2 L363.3 304.2 L363.7 303.2 L364 302.2 L364.3 301.2 L364.6 300.2 L364.8 299.2 L365.1 298.2 L365.3 297.2 L365.5 296.2 L365.7 295.2 L365.9 294.2 L366.1 293.2 L366.2 292.2 L366.3 291.2 L366.5 290.2 L366.6 289.2 L366.7 288.2 L366.8 287.2 L366.9 286.2 L367 285.2 L367.1 284.2 L367.2 283.2 L367.3 282.2 L367.3 281.2 L367.4 280.2 L367.5 279.2 L367.6 278.2 L367.7 277.2 L367.7 276.2 L367.8 275.2 L367.9 274.2 L367.9 273.2 L368 272.2 L368.1 271.2 L368.2 270.2 L368.2 269.2 L368.3 268.2 L368.4 267.2 L368.4 266.2 L368.5 265.2 L368.5 264.2 L368.6 263.2 L368.6 262.2 L368.7 261.2 L368.8 260.2 L368.8 259.2 L368.9 258.2 L368.9 257 L368.9 256 L368.8 255 L368.8 254 L368.7 253 L368.6 252 L368.6 251 L368.5 250 L368.5 249 L368.4 248 L368.4 247 L368.3 246 L368.2 245 L368.2 244 L368.1 243 L368 242 L367.9 241 L367.9 240 L367.8 239 L367.7 238 L367.7 237 L367.6 236 L367.5 235 L367.4 234 L367.3 233 L367.3 232 L367.2 231 L367.1 230 L367 229 L366.9 228 L366.8 227 L366.7 226 L366.6 225 L366.5 224 L366.3 223 L366.2 222 L366.1 221 L365.9 220 L365.7 219 L365.5 218 L365.3 217 L365.1 216 L364.8 215 L364.6 214 L364.3 213 L364 212 L363.7 211 L363.3 210 L363 209 L362.6 208 L362.2 207 L361.7 206 L361.1 205 L360.5 204 L359.9 203 L359.2 202 L358.4 201 L357.6 200 L356.6 199 L355.4 198 L354.1 197 L354.1 195Z" fill="#00a898"/>
<path d="M417.4 195 L417.4 197 L419.3 198 L421.1 199 L422.3 200 L423.1 201 L423.8 202 L424.5 203 L425 204 L425.5 205 L426 206 L426.4 207 L426.7 208 L427.1 209 L427.5 210 L427.8 211 L428.1 212 L428.4 213 L428.7 214 L429 215 L429.3 216 L429.5 217 L429.8 218 L430 219 L430.2 220 L430.4 221 L430.6 222 L430.8 223 L431 224 L431.2 225 L431.4 226 L431.6 227 L431.8 228 L432 229 L432.2 230 L432.3 231 L432.5 232 L432.6 233 L432.8 234 L432.9 235 L433 236 L433 237 L433.1 238 L433.1 239 L433.1 240 L433.1 241 L433.1 242 L433.1 243 L433.1 244 L433.1 245 L433.1 246 L433.1 247 L433.1 248 L433.1 249 L433.1 250 L433.1 251 L433.1 252 L433.1 253 L433.1 254 L433.1 255 L433.1 256 L433.1 257 L433.1 258.2 L433.1 259.2 L433.1 260.2 L433.1 261.2 L433.1 262.2 L433.1 263.2 L433.1 264.2 L433.1 265.2 L433.1 266.2 L433.1 267.2 L433.1 268.2 L433.1 269.2 L433.1 270.2 L433.1 271.2 L433.1 272.2 L433.1 273.2 L433.1 274.2 L433.1 275.2 L433.1 276.2 L433 277.2 L433 278.2 L432.9 279.2 L432.8 280.2 L432.6 281.2 L432.5 282.2 L432.3 283.2 L432.2 284.2 L432 285.2 L431.8 286.2 L431.6 287.2 L431.4 288.2 L431.2 289.2 L431 290.2 L430.8 291.2 L430.6 292.2 L430.4 293.2 L430.2 294.2 L430 295.2 L429.8 296.2 L429.5 297.2 L429.3 298.2 L429 299.2 L428.7 300.2 L428.4 301.2 L428.1 302.2 L427.8 303.2 L427.5 304.2 L427.1 305.2 L426.7 306.2 L426.4 307.2 L426 308.2 L425.5 309.2 L425 310.2 L424.5 311.2 L423.8 312.2 L423.1 313.2 L422.3 314.2 L421.1 315.2 L419.3 316.2 L417.4 317.2 L417.4 319.2 L398.7 319.2 L398.7 317.2 L397.4 316.2 L396.2 315.2 L395.2 314.2 L394.4 313.2 L393.6 312.2 L392.9 311.2 L392.3 310.2 L391.7 309.2 L391.1 308.2 L390.6 307.2 L390.2 306.2 L389.8 305.2 L389.5 304.2 L389.1 303.2 L388.8 302.2 L388.5 301.2 L388.2 300.2 L388 299.2 L387.7 298.2 L387.5 297.2 L387.3 296.2 L387.1 295.2 L386.9 294.2 L386.7 293.2 L386.6 292.2 L386.5 291.2 L386.3 290.2 L386.2 289.2 L386.1 288.2 L386 287.2 L385.9 286.2 L385.8 285.2 L385.7 284.2 L385.6 283.2 L385.5 282.2 L385.5 281.2 L385.4 280.2 L385.3 279.2 L385.2 278.2 L385.1 277.2 L385.1 276.2 L385 275.2 L384.9 274.2 L384.9 273.2 L384.8 272.2 L384.7 271.2 L384.6 270.2 L384.6 269.2 L384.5 268.2 L384.4 267.2 L384.4 266.2 L384.3 265.2 L384.3 264.2 L384.2 263.2 L384.2 262.2 L384.1 261.2 L384 260.2 L384 259.2 L383.9 258.2 L383.9 257 L383.9 256 L384 255 L384 254 L384.1 253 L384.2 252 L384.2 251 L384.3 250 L384.3 249 L384.4 248 L384.4 247 L384.5 246 L384.6 245 L384.6 244 L384.7 243 L384.8 242 L384.9 241 L384.9 240 L385 239 L385.1 238 L385.1 237 L385.2 236 L385.3 235 L385.4 234 L385.5 233 L385.5 232 L385.6 231 L385.7 230 L385.8 229 L385.9 228 L386 227 L386.1 226 L386.2 225 L386.3 224 L386.5 223 L386.6 222 L386.7 221 L386.9 220 L387.1 219 L387.3 218 L387.5 217 L387.7 216 L388 215 L388.2 214 L388.5 213 L388.8 212 L389.1 211 L389.5 210 L389.8 209 L390.2 208 L390.6 207 L391.1 206 L391.7 205 L392.3 204 L392.9 203 L393.6 202 L394.4 201 L395.2 200 L396.2 199 L397.4 198 L398.7 197 L398.7 195Z" fill="#00a898"/>
<path d="M364.6 257.1 L364.6 261.4 L364.6 264.9 L364.4 268 L364.3 271 L364 273.9 L363.8 276.6 L363.5 279.2 L363.1 281.7 L362.7 284.2 L362.3 286.5 L361.8 288.7 L361.2 290.8 L360.7 292.8 L360 294.8 L359.4 296.6 L358.7 298.3 L357.9 299.9 L357.1 301.4 L356.3 302.7 L355.4 304 L354.5 305.1 L353.6 306.2 L352.6 307.1 L351.6 307.9 L350.5 308.6 L349.4 309.1 L348.3 309.5 L347 309.9 L345.7 310 L344 310.1 L342.3 310 L341 309.9 L339.7 309.5 L338.6 309.1 L337.5 308.6 L336.4 307.9 L335.4 307.1 L334.4 306.2 L333.5 305.1 L332.6 304 L331.7 302.7 L330.9 301.4 L330.1 299.9 L329.3 298.3 L328.6 296.6 L328 294.8 L327.3 292.8 L326.8 290.8 L326.2 288.7 L325.7 286.5 L325.3 284.2 L324.9 281.7 L324.5 279.2 L324.2 276.6 L324 273.9 L323.7 271 L323.6 268 L323.4 264.9 L323.4 261.4 L323.4 257.1 L323.4 252.8 L323.4 249.3 L323.6 246.2 L323.7 243.2 L324 240.3 L324.2 237.6 L324.5 235 L324.9 232.5 L325.3 230 L325.7 227.7 L326.2 225.5 L326.8 223.4 L327.3 221.4 L328 219.4 L328.6 217.6 L329.3 215.9 L330.1 214.3 L330.9 212.8 L331.7 211.5 L332.6 210.2 L333.5 209.1 L334.4 208 L335.4 207.1 L336.4 206.3 L337.5 205.6 L338.6 205.1 L339.7 204.7 L341 204.3 L342.3 204.2 L344 204.1 L345.7 204.2 L347 204.3 L348.3 204.7 L349.4 205.1 L350.5 205.6 L351.6 206.3 L352.6 207.1 L353.6 208 L354.5 209.1 L355.4 210.2 L356.3 211.5 L357.1 212.8 L357.9 214.3 L358.7 215.9 L359.4 217.6 L360 219.4 L360.7 221.4 L361.2 223.4 L361.8 225.5 L362.3 227.7 L362.7 230 L363.1 232.5 L363.5 235 L363.8 237.6 L364 240.3 L364.3 243.2 L364.4 246.2 L364.6 249.3 L364.6 252.8Z" fill="#0077a8"/>
<path d="M388.1 257.1 L388.2 261.4 L388.2 264.9 L388.4 268 L388.5 271 L388.8 273.9 L389 276.6 L389.3 279.2 L389.7 281.7 L390.1 284.2 L390.5 286.5 L391 288.7 L391.6 290.8 L392.1 292.8 L392.8 294.8 L393.4 296.6 L394.1 298.3 L394.9 299.9 L395.7 301.4 L396.5 302.7 L397.4 304 L398.3 305.1 L399.2 306.2 L400.2 307.1 L401.2 307.9 L402.3 308.6 L403.4 309.1 L404.5 309.5 L405.8 309.9 L407.1 310 L408.8 310.1 L410.5 310 L411.8 309.9 L413.1 309.5 L414.2 309.1 L415.3 308.6 L416.4 307.9 L417.4 307.1 L418.4 306.2 L419.3 305.1 L420.2 304 L421.1 302.7 L421.9 301.4 L422.7 299.9 L423.5 298.3 L424.2 296.6 L424.8 294.8 L425.5 292.8 L426 290.8 L426.6 288.7 L427.1 286.5 L427.5 284.2 L427.9 281.7 L428.3 279.2 L428.6 276.6 L428.8 273.9 L429.1 271 L429.2 268 L429.4 264.9 L429.4 261.4 L429.4 257.1 L429.4 252.8 L429.4 249.3 L429.2 246.2 L429.1 243.2 L428.8 240.3 L428.6 237.6 L428.3 235 L427.9 232.5 L427.5 230 L427.1 227.7 L426.6 225.5 L426 223.4 L425.5 221.4 L424.8 219.4 L424.2 217.6 L423.5 215.9 L422.7 214.3 L421.9 212.8 L421.1 211.5 L420.2 210.2 L419.3 209.1 L418.4 208 L417.4 207.1 L416.4 206.3 L415.3 205.6 L414.2 205.1 L413.1 204.7 L411.8 204.3 L410.5 204.2 L408.8 204.1 L407.1 204.2 L405.8 204.3 L404.5 204.7 L403.4 205.1 L402.3 205.6 L401.2 206.3 L400.2 207.1 L399.2 208 L398.3 209.1 L397.4 210.2 L396.5 211.5 L395.7 212.8 L394.9 214.3 L394.1 215.9 L393.4 217.6 L392.8 219.4 L392.1 221.4 L391.6 223.4 L391 225.5 L390.5 227.7 L390.1 230 L389.7 232.5 L389.3 235 L389 237.6 L388.8 240.3 L388.5 243.2 L388.4 246.2 L388.2 249.3 L388.2 252.8Z" fill="#0077a8"/>
<path d="M358.6 257.1 L358.6 260.1 L358.5 262.6 L358.4 264.9 L358.3 267.1 L358.2 269.2 L358 271.3 L357.8 273.2 L357.5 275.1 L357.2 276.9 L356.9 278.6 L356.5 280.3 L356.2 281.9 L355.7 283.4 L355.3 284.8 L354.8 286.2 L354.3 287.5 L353.8 288.7 L353.2 289.8 L352.6 290.8 L352 291.8 L351.4 292.6 L350.7 293.4 L350 294.1 L349.3 294.7 L348.5 295.2 L347.8 295.7 L346.9 296 L346.1 296.2 L345.2 296.4 L344.1 296.4 L342.9 296.4 L342 296.2 L341.2 296 L340.3 295.7 L339.6 295.2 L338.8 294.7 L338.1 294.1 L337.4 293.4 L336.7 292.6 L336.1 291.8 L335.5 290.8 L334.9 289.8 L334.3 288.7 L333.8 287.5 L333.3 286.2 L332.8 284.8 L332.4 283.4 L331.9 281.9 L331.6 280.3 L331.2 278.6 L330.9 276.9 L330.6 275.1 L330.3 273.2 L330.1 271.3 L329.9 269.2 L329.8 267.1 L329.7 264.9 L329.6 262.6 L329.5 260.1 L329.5 257.1 L329.5 254.1 L329.6 251.6 L329.7 249.3 L329.8 247.1 L329.9 245 L330.1 242.9 L330.3 241 L330.6 239.1 L330.9 237.3 L331.2 235.6 L331.6 233.9 L331.9 232.3 L332.4 230.8 L332.8 229.4 L333.3 228 L333.8 226.7 L334.3 225.5 L334.9 224.4 L335.5 223.4 L336.1 222.4 L336.7 221.6 L337.4 220.8 L338.1 220.1 L338.8 219.5 L339.6 219 L340.3 218.5 L341.2 218.2 L342 218 L342.9 217.8 L344 217.8 L345.2 217.8 L346.1 218 L346.9 218.2 L347.8 218.5 L348.5 219 L349.3 219.5 L350 220.1 L350.7 220.8 L351.4 221.6 L352 222.4 L352.6 223.4 L353.2 224.4 L353.8 225.5 L354.3 226.7 L354.8 228 L355.3 229.4 L355.7 230.8 L356.2 232.3 L356.5 233.9 L356.9 235.6 L357.2 237.3 L357.5 239.1 L357.8 241 L358 242.9 L358.2 245 L358.3 247.1 L358.4 249.3 L358.5 251.6 L358.6 254.1Z" fill="#0000a8"/>
<path d="M394.2 257.1 L394.2 260.1 L394.3 262.6 L394.4 264.9 L394.5 267.1 L394.6 269.2 L394.8 271.3 L395 273.2 L395.3 275.1 L395.6 276.9 L395.9 278.6 L396.3 280.3 L396.6 281.9 L397.1 283.4 L397.5 284.8 L398 286.2 L398.5 287.5 L399 288.7 L399.6 289.8 L400.2 290.8 L400.8 291.8 L401.4 292.6 L402.1 293.4 L402.8 294.1 L403.5 294.7 L404.3 295.2 L405 295.7 L405.9 296 L406.7 296.2 L407.6 296.4 L408.7 296.4 L409.9 296.4 L410.8 296.2 L411.6 296 L412.5 295.7 L413.2 295.2 L414 294.7 L414.7 294.1 L415.4 293.4 L416.1 292.6 L416.7 291.8 L417.3 290.8 L417.9 289.8 L418.5 288.7 L419 287.5 L419.5 286.2 L420 284.8 L420.4 283.4 L420.9 281.9 L421.2 280.3 L421.6 278.6 L421.9 276.9 L422.2 275.1 L422.5 273.2 L422.7 271.3 L422.9 269.2 L423 267.1 L423.1 264.9 L423.2 262.6 L423.3 260.1 L423.3 257.1 L423.3 254.1 L423.2 251.6 L423.1 249.3 L423 247.1 L422.9 245 L422.7 242.9 L422.5 241 L422.2 239.1 L421.9 237.3 L421.6 235.6 L421.2 233.9 L420.9 232.3 L420.4 230.8 L420 229.4 L419.5 228 L419 226.7 L418.5 225.5 L417.9 224.4 L417.3 223.4 L416.7 222.4 L416.1 221.6 L415.4 220.8 L414.7 220.1 L414 219.5 L413.2 219 L412.5 218.5 L411.6 218.2 L410.8 218 L409.9 217.8 L408.8 217.8 L407.6 217.8 L406.7 218 L405.9 218.2 L405 218.5 L404.3 219 L403.5 219.5 L402.8 220.1 L402.1 220.8 L401.4 221.6 L400.8 222.4 L400.2 223.4 L399.6 224.4 L399 225.5 L398.5 226.7 L398 228 L397.5 229.4 L397.1 230.8 L396.6 232.3 L396.3 233.9 L395.9 235.6 L395.6 237.3 L395.3 239.1 L395 241 L394.8 242.9 L394.6 245 L394.5 247.1 L394.4 249.3 L394.3 251.6 L394.2 254.1Z" fill="#0000a8"/>
</g>
<path d="M386.1 256.9 L405.6 256.9 L409.9 262.2 L405.6 267.5 L386.1 267.5Z" fill="#0000ff"/>
<circle cx="410.6" cy="262.2" r="0.6" fill="#5a5040"/>
<text transform="translate(388.8 265.3) scale(0.95 1)" class="mn">Min</text>
<clipPath id="c5"><rect x="535" y="196" width="149" height="122.6"/></clipPath>
<g clip-path="url(#c5)">
<rect x="535" y="196" width="149" height="122.6" fill="#a80000"/>
<path d="M544.3 194 L544.3 196 L544.2 197 L544.1 198 L544 199 L543.9 200 L543.8 201 L543.7 202 L543.6 203 L543.5 204 L543.4 205 L543.3 206 L543.2 207 L543.1 208 L543 209 L542.9 210 L542.8 211 L542.7 212 L542.5 213 L542.4 214 L542.3 215 L542.1 216 L542 217 L541.8 218 L541.7 219 L541.6 220 L541.4 221 L541.3 222 L541.1 223 L541 224 L540.9 225 L540.7 226 L540.6 227 L540.4 228 L540.3 229 L540.1 230 L540 231 L539.8 232 L539.7 233 L539.5 234 L539.4 235 L539.3 236 L539.2 237 L539.1 238 L539 239 L538.9 240 L538.8 241 L538.7 242 L538.7 243 L538.6 244 L538.5 245 L538.5 246 L538.4 247 L538.4 248 L538.3 249 L538.3 250 L538.2 251 L538.2 252 L538.2 253 L538.1 254 L538.1 255 L538.1 256 L538.1 257 L538.1 258.6 L538.1 259.6 L538.1 260.6 L538.2 261.6 L538.2 262.6 L538.2 263.6 L538.3 264.6 L538.3 265.6 L538.4 266.6 L538.4 267.6 L538.5 268.6 L538.5 269.6 L538.6 270.6 L538.7 271.6 L538.7 272.6 L538.8 273.6 L538.9 274.6 L539 275.6 L539.1 276.6 L539.2 277.6 L539.3 278.6 L539.4 279.6 L539.5 280.6 L539.7 281.6 L539.8 282.6 L540 283.6 L540.1 284.6 L540.3 285.6 L540.4 286.6 L540.6 287.6 L540.7 288.6 L540.9 289.6 L541 290.6 L541.1 291.6 L541.3 292.6 L541.4 293.6 L541.6 294.6 L541.7 295.6 L541.8 296.6 L542 297.6 L542.1 298.6 L542.3 299.6 L542.4 300.6 L542.5 301.6 L542.7 302.6 L542.8 303.6 L542.9 304.6 L543 305.6 L543.1 306.6 L543.2 307.6 L543.3 308.6 L543.4 309.6 L543.5 310.6 L543.6 311.6 L543.7 312.6 L543.8 313.6 L543.9 314.6 L544 315.6 L544.1 316.6 L544.2 317.6 L544.3 318.6 L544.3 320.6 L675.3 320.6 L675.3 318.6 L675.4 317.6 L675.5 316.6 L675.6 315.6 L675.7 314.6 L675.8 313.6 L675.9 312.6 L676 311.6 L676.1 310.6 L676.2 309.6 L676.3 308.6 L676.4 307.6 L676.5 306.6 L676.6 305.6 L676.7 304.6 L676.8 303.6 L676.9 302.6 L677.1 301.6 L677.2 300.6 L677.3 299.6 L677.5 298.6 L677.6 297.6 L677.8 296.6 L677.9 295.6 L678 294.6 L678.2 293.6 L678.3 292.6 L678.5 291.6 L678.6 290.6 L678.7 289.6 L678.9 288.6 L679 287.6 L679.2 286.6 L679.3 285.6 L679.5 284.6 L679.6 283.6 L679.8 282.6 L679.9 281.6 L680.1 280.6 L680.2 279.6 L680.3 278.6 L680.4 277.6 L680.5 276.6 L680.6 275.6 L680.7 274.6 L680.8 273.6 L680.9 272.6 L680.9 271.6 L681 270.6 L681.1 269.6 L681.1 268.6 L681.2 267.6 L681.2 266.6 L681.3 265.6 L681.3 264.6 L681.4 263.6 L681.4 262.6 L681.4 261.6 L681.5 260.6 L681.5 259.6 L681.5 258.6 L681.5 257 L681.5 256 L681.5 255 L681.5 254 L681.4 253 L681.4 252 L681.4 251 L681.3 250 L681.3 249 L681.2 248 L681.2 247 L681.1 246 L681.1 245 L681 244 L680.9 243 L680.9 242 L680.8 241 L680.7 240 L680.6 239 L680.5 238 L680.4 237 L680.3 236 L680.2 235 L680.1 234 L679.9 233 L679.8 232 L679.6 231 L679.5 230 L679.3 229 L679.2 228 L679 227 L678.9 226 L678.7 225 L678.6 224 L678.5 223 L678.3 222 L678.2 221 L678 220 L677.9 219 L677.8 218 L677.6 217 L677.5 216 L677.3 215 L677.2 214 L677.1 213 L676.9 212 L676.8 211 L676.7 210 L676.6 209 L676.5 208 L676.4 207 L676.3 206 L676.2 205 L676.1 204 L676 203 L675.9 202 L675.8 201 L675.7 200 L675.6 199 L675.5 198 L675.4 197 L675.3 196 L675.3 194Z" fill="#a87700"/>
<path d="M547 194 L547 196 L546.9 197 L546.9 198 L546.8 199 L546.7 200 L546.7 201 L546.6 202 L546.6 203 L546.5 204 L546.5 205 L546.4 206 L546.4 207 L546.3 208 L546.3 209 L546.2 210 L546.1 211 L546.1 212 L546 213 L546 214 L545.9 215 L545.8 216 L545.8 217 L545.7 218 L545.7 219 L545.6 220 L545.5 221 L545.5 222 L545.4 223 L545.4 224 L545.4 225 L545.3 226 L545.3 227 L545.3 228 L545.2 229 L545.2 230 L545.2 231 L545.1 232 L545.1 233 L545.1 234 L545.1 235 L545 236 L545 237 L545 238 L545 239 L544.9 240 L544.9 241 L544.9 242 L544.8 243 L544.8 244 L544.8 245 L544.7 246 L544.7 247 L544.7 248 L544.6 249 L544.6 250 L544.5 251 L544.5 252 L544.5 253 L544.4 254 L544.4 255 L544.4 256 L544.3 257 L544.4 258.6 L544.4 259.6 L544.4 260.6 L544.5 261.6 L544.5 262.6 L544.5 263.6 L544.6 264.6 L544.6 265.6 L544.7 266.6 L544.7 267.6 L544.7 268.6 L544.8 269.6 L544.8 270.6 L544.8 271.6 L544.9 272.6 L544.9 273.6 L544.9 274.6 L545 275.6 L545 276.6 L545 277.6 L545 278.6 L545.1 279.6 L545.1 280.6 L545.1 281.6 L545.1 282.6 L545.2 283.6 L545.2 284.6 L545.2 285.6 L545.3 286.6 L545.3 287.6 L545.3 288.6 L545.4 289.6 L545.4 290.6 L545.4 291.6 L545.5 292.6 L545.5 293.6 L545.6 294.6 L545.7 295.6 L545.7 296.6 L545.8 297.6 L545.8 298.6 L545.9 299.6 L546 300.6 L546 301.6 L546.1 302.6 L546.1 303.6 L546.2 304.6 L546.3 305.6 L546.3 306.6 L546.4 307.6 L546.4 308.6 L546.5 309.6 L546.5 310.6 L546.6 311.6 L546.6 312.6 L546.7 313.6 L546.7 314.6 L546.8 315.6 L546.9 316.6 L546.9 317.6 L547 318.6 L547 320.6 L672.6 320.6 L672.6 318.6 L672.7 317.6 L672.7 316.6 L672.8 315.6 L672.9 314.6 L672.9 313.6 L673 312.6 L673 311.6 L673.1 310.6 L673.1 309.6 L673.2 308.6 L673.2 307.6 L673.3 306.6 L673.3 305.6 L673.4 304.6 L673.5 303.6 L673.5 302.6 L673.6 301.6 L673.6 300.6 L673.7 299.6 L673.8 298.6 L673.8 297.6 L673.9 296.6 L673.9 295.6 L674 294.6 L674.1 293.6 L674.1 292.6 L674.2 291.6 L674.2 290.6 L674.2 289.6 L674.3 288.6 L674.3 287.6 L674.3 286.6 L674.4 285.6 L674.4 284.6 L674.4 283.6 L674.5 282.6 L674.5 281.6 L674.5 280.6 L674.5 279.6 L674.6 278.6 L674.6 277.6 L674.6 276.6 L674.6 275.6 L674.7 274.6 L674.7 273.6 L674.7 272.6 L674.8 271.6 L674.8 270.6 L674.8 269.6 L674.9 268.6 L674.9 267.6 L674.9 266.6 L675 265.6 L675 264.6 L675.1 263.6 L675.1 262.6 L675.1 261.6 L675.2 260.6 L675.2 259.6 L675.2 258.6 L675.3 257 L675.2 256 L675.2 255 L675.2 254 L675.1 253 L675.1 252 L675.1 251 L675 250 L675 249 L674.9 248 L674.9 247 L674.9 246 L674.8 245 L674.8 244 L674.8 243 L674.7 242 L674.7 241 L674.7 240 L674.6 239 L674.6 238 L674.6 237 L674.6 236 L674.5 235 L674.5 234 L674.5 233 L674.5 232 L674.4 231 L674.4 230 L674.4 229 L674.3 228 L674.3 227 L674.3 226 L674.2 225 L674.2 224 L674.2 223 L674.1 222 L674.1 221 L674 220 L673.9 219 L673.9 218 L673.8 217 L673.8 216 L673.7 215 L673.6 214 L673.6 213 L673.5 212 L673.5 211 L673.4 210 L673.3 209 L673.3 208 L673.2 207 L673.2 206 L673.1 205 L673.1 204 L673 203 L673 202 L672.9 201 L672.9 200 L672.8 199 L672.7 198 L672.7 197 L672.6 196 L672.6 194Z" fill="#98a800"/>
<path d="M550.5 194 L550.5 196 L550.4 197 L550.2 198 L550.1 199 L550 200 L549.8 201 L549.7 202 L549.6 203 L549.4 204 L549.3 205 L549.2 206 L549 207 L548.9 208 L548.8 209 L548.7 210 L548.6 211 L548.5 212 L548.4 213 L548.3 214 L548.2 215 L548.1 216 L548.1 217 L548 218 L547.9 219 L547.8 220 L547.8 221 L547.7 222 L547.7 223 L547.6 224 L547.6 225 L547.5 226 L547.5 227 L547.4 228 L547.4 229 L547.3 230 L547.3 231 L547.3 232 L547.2 233 L547.2 234 L547.1 235 L547.1 236 L547.1 237 L547.1 238 L547 239 L547 240 L547 241 L547 242 L547 243 L546.9 244 L546.9 245 L546.9 246 L546.9 247 L546.9 248 L546.9 249 L546.9 250 L546.8 251 L546.8 252 L546.8 253 L546.8 254 L546.8 255 L546.8 256 L546.8 257 L546.8 258.6 L546.8 259.6 L546.8 260.6 L546.8 261.6 L546.8 262.6 L546.8 263.6 L546.9 264.6 L546.9 265.6 L546.9 266.6 L546.9 267.6 L546.9 268.6 L546.9 269.6 L546.9 270.6 L547 271.6 L547 272.6 L547 273.6 L547 274.6 L547 275.6 L547.1 276.6 L547.1 277.6 L547.1 278.6 L547.1 279.6 L547.2 280.6 L547.2 281.6 L547.3 282.6 L547.3 283.6 L547.3 284.6 L547.4 285.6 L547.4 286.6 L547.5 287.6 L547.5 288.6 L547.6 289.6 L547.6 290.6 L547.7 291.6 L547.7 292.6 L547.8 293.6 L547.8 294.6 L547.9 295.6 L548 296.6 L548.1 297.6 L548.1 298.6 L548.2 299.6 L548.3 300.6 L548.4 301.6 L548.5 302.6 L548.6 303.6 L548.7 304.6 L548.8 305.6 L548.9 306.6 L549 307.6 L549.2 308.6 L549.3 309.6 L549.4 310.6 L549.6 311.6 L549.7 312.6 L549.8 313.6 L550 314.6 L550.1 315.6 L550.2 316.6 L550.4 317.6 L550.5 318.6 L550.5 320.6 L669.1 320.6 L669.1 318.6 L669.2 317.6 L669.4 316.6 L669.5 315.6 L669.6 314.6 L669.8 313.6 L669.9 312.6 L670 311.6 L670.2 310.6 L670.3 309.6 L670.4 308.6 L670.6 307.6 L670.7 306.6 L670.8 305.6 L670.9 304.6 L671 303.6 L671.1 302.6 L671.2 301.6 L671.3 300.6 L671.4 299.6 L671.5 298.6 L671.5 297.6 L671.6 296.6 L671.7 295.6 L671.8 294.6 L671.8 293.6 L671.9 292.6 L671.9 291.6 L672 290.6 L672 289.6 L672.1 288.6 L672.1 287.6 L672.2 286.6 L672.2 285.6 L672.3 284.6 L672.3 283.6 L672.3 282.6 L672.4 281.6 L672.4 280.6 L672.5 279.6 L672.5 278.6 L672.5 277.6 L672.5 276.6 L672.6 275.6 L672.6 274.6 L672.6 273.6 L672.6 272.6 L672.6 271.6 L672.7 270.6 L672.7 269.6 L672.7 268.6 L672.7 267.6 L672.7 266.6 L672.7 265.6 L672.7 264.6 L672.8 263.6 L672.8 262.6 L672.8 261.6 L672.8 260.6 L672.8 259.6 L672.8 258.6 L672.8 257 L672.8 256 L672.8 255 L672.8 254 L672.8 253 L672.8 252 L672.8 251 L672.7 250 L672.7 249 L672.7 248 L672.7 247 L672.7 246 L672.7 245 L672.7 244 L672.6 243 L672.6 242 L672.6 241 L672.6 240 L672.6 239 L672.5 238 L672.5 237 L672.5 236 L672.5 235 L672.4 234 L672.4 233 L672.3 232 L672.3 231 L672.3 230 L672.2 229 L672.2 228 L672.1 227 L672.1 226 L672 225 L672 224 L671.9 223 L671.9 222 L671.8 221 L671.8 220 L671.7 219 L671.6 218 L671.5 217 L671.5 216 L671.4 215 L671.3 214 L671.2 213 L671.1 212 L671 211 L670.9 210 L670.8 209 L670.7 208 L670.6 207 L670.4 206 L670.3 205 L670.2 204 L670 203 L669.9 202 L669.8 201 L669.6 200 L669.5 199 L669.4 198 L669.2 197 L669.1 196 L669.1 194Z" fill="#3ba800"/>
<path d="M604.4 194 L615.3 194 L615.3 204 L614 207 L609.7 209.4 L605.5 207 L604.4 204Z" fill="#98a800"/>
<path d="M604.4 320.6 L615.3 320.6 L615.3 310.6 L614 307.6 L609.7 305.2 L605.5 307.6 L604.4 310.6Z" fill="#98a800"/>
<path d="M556.5 194 L556.5 196 L556.1 197 L555.7 198 L555.3 199 L554.9 200 L554.6 201 L554.3 202 L553.9 203 L553.6 204 L553.3 205 L553 206 L552.7 207 L552.5 208 L552.2 209 L552 210 L551.8 211 L551.6 212 L551.4 213 L551.2 214 L551 215 L550.9 216 L550.7 217 L550.5 218 L550.4 219 L550.3 220 L550.1 221 L550 222 L549.9 223 L549.8 224 L549.7 225 L549.6 226 L549.5 227 L549.4 228 L549.4 229 L549.3 230 L549.2 231 L549.1 232 L549.1 233 L549 234 L549 235 L548.9 236 L548.9 237 L548.8 238 L548.8 239 L548.7 240 L548.7 241 L548.7 242 L548.6 243 L548.6 244 L548.6 245 L548.6 246 L548.5 247 L548.5 248 L548.5 249 L548.5 250 L548.5 251 L548.4 252 L548.4 253 L548.4 254 L548.4 255 L548.4 256 L548.4 257 L548.4 258.6 L548.4 259.6 L548.4 260.6 L548.4 261.6 L548.4 262.6 L548.5 263.6 L548.5 264.6 L548.5 265.6 L548.5 266.6 L548.5 267.6 L548.6 268.6 L548.6 269.6 L548.6 270.6 L548.6 271.6 L548.7 272.6 L548.7 273.6 L548.7 274.6 L548.8 275.6 L548.8 276.6 L548.9 277.6 L548.9 278.6 L549 279.6 L549 280.6 L549.1 281.6 L549.1 282.6 L549.2 283.6 L549.3 284.6 L549.4 285.6 L549.4 286.6 L549.5 287.6 L549.6 288.6 L549.7 289.6 L549.8 290.6 L549.9 291.6 L550 292.6 L550.1 293.6 L550.3 294.6 L550.4 295.6 L550.5 296.6 L550.7 297.6 L550.9 298.6 L551 299.6 L551.2 300.6 L551.4 301.6 L551.6 302.6 L551.8 303.6 L552 304.6 L552.2 305.6 L552.5 306.6 L552.7 307.6 L553 308.6 L553.3 309.6 L553.6 310.6 L553.9 311.6 L554.3 312.6 L554.6 313.6 L554.9 314.6 L555.3 315.6 L555.7 316.6 L556.1 317.6 L556.5 318.6 L556.5 320.6 L597.5 320.6 L597.5 318.6 L597.8 317.6 L598.2 316.6 L598.5 315.6 L598.9 314.6 L599.2 313.6 L599.7 312.6 L600.1 311.6 L600.5 310.6 L600.9 309.6 L601.3 308.6 L601.6 307.6 L601.9 306.6 L602.1 305.6 L602.3 304.6 L602.4 303.6 L602.5 302.6 L602.6 301.6 L602.7 300.6 L602.8 299.6 L602.9 298.6 L603 297.6 L603 296.6 L603.1 295.6 L603.1 294.6 L603.2 293.6 L603.3 292.6 L603.3 291.6 L603.4 290.6 L603.5 289.6 L603.5 288.6 L603.6 287.6 L603.7 286.6 L603.8 285.6 L603.8 284.6 L603.9 283.6 L604 282.6 L604 281.6 L604.1 280.6 L604.2 279.6 L604.2 278.6 L604.3 277.6 L604.3 276.6 L604.4 275.6 L604.5 274.6 L604.5 273.6 L604.5 272.6 L604.6 271.6 L604.6 270.6 L604.7 269.6 L604.7 268.6 L604.8 267.6 L604.8 266.6 L604.8 265.6 L604.9 264.6 L604.9 263.6 L604.9 262.6 L605 261.6 L605 260.6 L605 259.6 L605.1 258.6 L605.1 257 L605.1 256 L605 255 L605 254 L605 253 L604.9 252 L604.9 251 L604.9 250 L604.8 249 L604.8 248 L604.8 247 L604.7 246 L604.7 245 L604.6 244 L604.6 243 L604.5 242 L604.5 241 L604.5 240 L604.4 239 L604.3 238 L604.3 237 L604.2 236 L604.2 235 L604.1 234 L604 233 L604 232 L603.9 231 L603.8 230 L603.8 229 L603.7 228 L603.6 227 L603.5 226 L603.5 225 L603.4 224 L603.3 223 L603.3 222 L603.2 221 L603.1 220 L603.1 219 L603 218 L603 217 L602.9 216 L602.8 215 L602.7 214 L602.6 213 L602.5 212 L602.4 211 L602.3 210 L602.1 209 L601.9 208 L601.6 207 L601.3 206 L600.9 205 L600.5 204 L600.1 203 L599.7 202 L599.2 201 L598.9 200 L598.5 199 L598.2 198 L597.8 197 L597.5 196 L597.5 194Z" fill="#00a842"/>
<path d="M663.1 194 L663.1 196 L663.5 197 L663.9 198 L664.3 199 L664.7 200 L665 201 L665.3 202 L665.7 203 L666 204 L666.3 205 L666.6 206 L666.9 207 L667.1 208 L667.4 209 L667.6 210 L667.8 211 L668 212 L668.2 213 L668.4 214 L668.6 215 L668.7 216 L668.9 217 L669.1 218 L669.2 219 L669.3 220 L669.5 221 L669.6 222 L669.7 223 L669.8 224 L669.9 225 L670 226 L670.1 227 L670.2 228 L670.2 229 L670.3 230 L670.4 231 L670.5 232 L670.5 233 L670.6 234 L670.6 235 L670.7 236 L670.7 237 L670.8 238 L670.8 239 L670.9 240 L670.9 241 L670.9 242 L671 243 L671 244 L671 245 L671 246 L671.1 247 L671.1 248 L671.1 249 L671.1 250 L671.1 251 L671.2 252 L671.2 253 L671.2 254 L671.2 255 L671.2 256 L671.2 257 L671.2 258.6 L671.2 259.6 L671.2 260.6 L671.2 261.6 L671.2 262.6 L671.1 263.6 L671.1 264.6 L671.1 265.6 L671.1 266.6 L671.1 267.6 L671 268.6 L671 269.6 L671 270.6 L671 271.6 L670.9 272.6 L670.9 273.6 L670.9 274.6 L670.8 275.6 L670.8 276.6 L670.7 277.6 L670.7 278.6 L670.6 279.6 L670.6 280.6 L670.5 281.6 L670.5 282.6 L670.4 283.6 L670.3 284.6 L670.2 285.6 L670.2 286.6 L670.1 287.6 L670 288.6 L669.9 289.6 L669.8 290.6 L669.7 291.6 L669.6 292.6 L669.5 293.6 L669.3 294.6 L669.2 295.6 L669.1 296.6 L668.9 297.6 L668.7 298.6 L668.6 299.6 L668.4 300.6 L668.2 301.6 L668 302.6 L667.8 303.6 L667.6 304.6 L667.4 305.6 L667.1 306.6 L666.9 307.6 L666.6 308.6 L666.3 309.6 L666 310.6 L665.7 311.6 L665.3 312.6 L665 313.6 L664.7 314.6 L664.3 315.6 L663.9 316.6 L663.5 317.6 L663.1 318.6 L663.1 320.6 L622.1 320.6 L622.1 318.6 L621.8 317.6 L621.4 316.6 L621.1 315.6 L620.7 314.6 L620.4 313.6 L619.9 312.6 L619.5 311.6 L619.1 310.6 L618.7 309.6 L618.3 308.6 L618 307.6 L617.7 306.6 L617.5 305.6 L617.3 304.6 L617.2 303.6 L617.1 302.6 L617 301.6 L616.9 300.6 L616.8 299.6 L616.7 298.6 L616.6 297.6 L616.6 296.6 L616.5 295.6 L616.5 294.6 L616.4 293.6 L616.3 292.6 L616.3 291.6 L616.2 290.6 L616.1 289.6 L616.1 288.6 L616 287.6 L615.9 286.6 L615.8 285.6 L615.8 284.6 L615.7 283.6 L615.6 282.6 L615.6 281.6 L615.5 280.6 L615.4 279.6 L615.4 278.6 L615.3 277.6 L615.3 276.6 L615.2 275.6 L615.1 274.6 L615.1 273.6 L615.1 272.6 L615 271.6 L615 270.6 L614.9 269.6 L614.9 268.6 L614.8 267.6 L614.8 266.6 L614.8 265.6 L614.7 264.6 L614.7 263.6 L614.7 262.6 L614.6 261.6 L614.6 260.6 L614.6 259.6 L614.5 258.6 L614.5 257 L614.5 256 L614.6 255 L614.6 254 L614.6 253 L614.7 252 L614.7 251 L614.7 250 L614.8 249 L614.8 248 L614.8 247 L614.9 246 L614.9 245 L615 244 L615 243 L615.1 242 L615.1 241 L615.1 240 L615.2 239 L615.3 238 L615.3 237 L615.4 236 L615.4 235 L615.5 234 L615.6 233 L615.6 232 L615.7 231 L615.8 230 L615.8 229 L615.9 228 L616 227 L616.1 226 L616.1 225 L616.2 224 L616.3 223 L616.3 222 L616.4 221 L616.5 220 L616.5 219 L616.6 218 L616.6 217 L616.7 216 L616.8 215 L616.9 214 L617 213 L617.1 212 L617.2 211 L617.3 210 L617.5 209 L617.7 208 L618 207 L618.3 206 L618.7 205 L619.1 204 L619.5 203 L619.9 202 L620.4 201 L620.7 200 L621.1 199 L621.4 198 L621.8 197 L622.1 196 L622.1 194Z" fill="#00a842"/>
<path d="M566.1 194 L566.1 196 L564.9 197 L563.8 198 L562.9 199 L562.2 200 L561.5 201 L560.8 202 L560.2 203 L559.6 204 L559.1 205 L558.6 206 L558.1 207 L557.7 208 L557.3 209 L556.9 210 L556.5 211 L556.2 212 L555.8 213 L555.5 214 L555.2 215 L554.9 216 L554.6 217 L554.3 218 L554.1 219 L553.9 220 L553.6 221 L553.4 222 L553.3 223 L553.1 224 L553 225 L552.8 226 L552.7 227 L552.5 228 L552.4 229 L552.3 230 L552.2 231 L552 232 L551.9 233 L551.8 234 L551.7 235 L551.7 236 L551.6 237 L551.5 238 L551.5 239 L551.4 240 L551.4 241 L551.4 242 L551.4 243 L551.3 244 L551.3 245 L551.3 246 L551.3 247 L551.3 248 L551.3 249 L551.2 250 L551.2 251 L551.2 252 L551.2 253 L551.2 254 L551.2 255 L551.2 256 L551.2 257 L551.2 258.6 L551.2 259.6 L551.2 260.6 L551.2 261.6 L551.2 262.6 L551.2 263.6 L551.2 264.6 L551.3 265.6 L551.3 266.6 L551.3 267.6 L551.3 268.6 L551.3 269.6 L551.3 270.6 L551.4 271.6 L551.4 272.6 L551.4 273.6 L551.4 274.6 L551.5 275.6 L551.5 276.6 L551.6 277.6 L551.7 278.6 L551.7 279.6 L551.8 280.6 L551.9 281.6 L552 282.6 L552.2 283.6 L552.3 284.6 L552.4 285.6 L552.5 286.6 L552.7 287.6 L552.8 288.6 L553 289.6 L553.1 290.6 L553.3 291.6 L553.4 292.6 L553.6 293.6 L553.9 294.6 L554.1 295.6 L554.3 296.6 L554.6 297.6 L554.9 298.6 L555.2 299.6 L555.5 300.6 L555.8 301.6 L556.2 302.6 L556.5 303.6 L556.9 304.6 L557.3 305.6 L557.7 306.6 L558.1 307.6 L558.6 308.6 L559.1 309.6 L559.6 310.6 L560.2 311.6 L560.8 312.6 L561.5 313.6 L562.2 314.6 L562.9 315.6 L563.8 316.6 L564.9 317.6 L566.1 318.6 L566.1 320.6 L588 320.6 L588 318.6 L589.5 317.6 L590.8 316.6 L591.9 315.6 L592.7 314.6 L593.5 313.6 L594.2 312.6 L594.8 311.6 L595.4 310.6 L596 309.6 L596.5 308.6 L596.9 307.6 L597.3 306.6 L597.7 305.6 L598 304.6 L598.3 303.6 L598.5 302.6 L598.8 301.6 L599 300.6 L599.2 299.6 L599.4 298.6 L599.6 297.6 L599.8 296.6 L599.9 295.6 L600.1 294.6 L600.2 293.6 L600.3 292.6 L600.4 291.6 L600.5 290.6 L600.6 289.6 L600.6 288.6 L600.7 287.6 L600.7 286.6 L600.8 285.6 L600.8 284.6 L600.9 283.6 L600.9 282.6 L600.9 281.6 L601 280.6 L601 279.6 L601 278.6 L601.1 277.6 L601.1 276.6 L601.1 275.6 L601.2 274.6 L601.2 273.6 L601.2 272.6 L601.3 271.6 L601.3 270.6 L601.4 269.6 L601.4 268.6 L601.4 267.6 L601.5 266.6 L601.5 265.6 L601.5 264.6 L601.6 263.6 L601.6 262.6 L601.6 261.6 L601.7 260.6 L601.7 259.6 L601.8 258.6 L601.8 257 L601.8 256 L601.7 255 L601.7 254 L601.6 253 L601.6 252 L601.6 251 L601.5 250 L601.5 249 L601.5 248 L601.4 247 L601.4 246 L601.4 245 L601.3 244 L601.3 243 L601.2 242 L601.2 241 L601.2 240 L601.1 239 L601.1 238 L601.1 237 L601 236 L601 235 L601 234 L600.9 233 L600.9 232 L600.9 231 L600.8 230 L600.8 229 L600.7 228 L600.7 227 L600.6 226 L600.6 225 L600.5 224 L600.4 223 L600.3 222 L600.2 221 L600.1 220 L599.9 219 L599.8 218 L599.6 217 L599.4 216 L599.2 215 L599 214 L598.8 213 L598.5 212 L598.3 211 L598 210 L597.7 209 L597.3 208 L596.9 207 L596.5 206 L596 205 L595.4 204 L594.8 203 L594.2 202 L593.5 201 L592.7 200 L591.9 199 L590.8 198 L589.5 197 L588 196 L588 194Z" fill="#00a898"/>
<path d="M653.5 194 L653.5 196 L654.7 197 L655.8 198 L656.7 199 L657.4 200 L658.1 201 L658.8 202 L659.4 203 L660 204 L660.5 205 L661 206 L661.5 207 L661.9 208 L662.3 209 L662.7 210 L663.1 211 L663.4 212 L663.8 213 L664.1 214 L664.4 215 L664.7 216 L665 217 L665.3 218 L665.5 219 L665.7 220 L666 221 L666.2 222 L666.3 223 L666.5 224 L666.6 225 L666.8 226 L666.9 227 L667.1 228 L667.2 229 L667.3 230 L667.4 231 L667.6 232 L667.7 233 L667.8 234 L667.9 235 L667.9 236 L668 237 L668.1 238 L668.1 239 L668.2 240 L668.2 241 L668.2 242 L668.2 243 L668.3 244 L668.3 245 L668.3 246 L668.3 247 L668.3 248 L668.3 249 L668.4 250 L668.4 251 L668.4 252 L668.4 253 L668.4 254 L668.4 255 L668.4 256 L668.4 257 L668.4 258.6 L668.4 259.6 L668.4 260.6 L668.4 261.6 L668.4 262.6 L668.4 263.6 L668.4 264.6 L668.3 265.6 L668.3 266.6 L668.3 267.6 L668.3 268.6 L668.3 269.6 L668.3 270.6 L668.2 271.6 L668.2 272.6 L668.2 273.6 L668.2 274.6 L668.1 275.6 L668.1 276.6 L668 277.6 L667.9 278.6 L667.9 279.6 L667.8 280.6 L667.7 281.6 L667.6 282.6 L667.4 283.6 L667.3 284.6 L667.2 285.6 L667.1 286.6 L666.9 287.6 L666.8 288.6 L666.6 289.6 L666.5 290.6 L666.3 291.6 L666.2 292.6 L666 293.6 L665.7 294.6 L665.5 295.6 L665.3 296.6 L665 297.6 L664.7 298.6 L664.4 299.6 L664.1 300.6 L663.8 301.6 L663.4 302.6 L663.1 303.6 L662.7 304.6 L662.3 305.6 L661.9 306.6 L661.5 307.6 L661 308.6 L660.5 309.6 L660 310.6 L659.4 311.6 L658.8 312.6 L658.1 313.6 L657.4 314.6 L656.7 315.6 L655.8 316.6 L654.7 317.6 L653.5 318.6 L653.5 320.6 L631.6 320.6 L631.6 318.6 L630.1 317.6 L628.8 316.6 L627.7 315.6 L626.9 314.6 L626.1 313.6 L625.4 312.6 L624.8 311.6 L624.2 310.6 L623.6 309.6 L623.1 308.6 L622.7 307.6 L622.3 306.6 L621.9 305.6 L621.6 304.6 L621.3 303.6 L621.1 302.6 L620.8 301.6 L620.6 300.6 L620.4 299.6 L620.2 298.6 L620 297.6 L619.8 296.6 L619.7 295.6 L619.5 294.6 L619.4 293.6 L619.3 292.6 L619.2 291.6 L619.1 290.6 L619 289.6 L619 288.6 L618.9 287.6 L618.9 286.6 L618.8 285.6 L618.8 284.6 L618.7 283.6 L618.7 282.6 L618.7 281.6 L618.6 280.6 L618.6 279.6 L618.6 278.6 L618.5 277.6 L618.5 276.6 L618.5 275.6 L618.4 274.6 L618.4 273.6 L618.4 272.6 L618.3 271.6 L618.3 270.6 L618.2 269.6 L618.2 268.6 L618.2 267.6 L618.1 266.6 L618.1 265.6 L618.1 264.6 L618 263.6 L618 262.6 L618 261.6 L617.9 260.6 L617.9 259.6 L617.8 258.6 L617.8 257 L617.8 256 L617.9 255 L617.9 254 L618 253 L618 252 L618 251 L618.1 250 L618.1 249 L618.1 248 L618.2 247 L618.2 246 L618.2 245 L618.3 244 L618.3 243 L618.4 242 L618.4 241 L618.4 240 L618.5 239 L618.5 238 L618.5 237 L618.6 236 L618.6 235 L618.6 234 L618.7 233 L618.7 232 L618.7 231 L618.8 230 L618.8 229 L618.9 228 L618.9 227 L619 226 L619 225 L619.1 224 L619.2 223 L619.3 222 L619.4 221 L619.5 220 L619.7 219 L619.8 218 L620 217 L620.2 216 L620.4 215 L620.6 214 L620.8 213 L621.1 212 L621.3 211 L621.6 210 L621.9 209 L622.3 208 L622.7 207 L623.1 206 L623.6 205 L624.2 204 L624.8 203 L625.4 202 L626.1 201 L626.9 200 L627.7 199 L628.8 198 L630.1 197 L631.6 196 L631.6 194Z" fill="#00a898"/>
<path d="M598.2 257.3 L598.2 263 L598.2 267 L598 270.5 L597.9 273.7 L597.7 276.7 L597.4 279.6 L597.2 282.3 L596.8 284.8 L596.4 287.3 L596 289.6 L595.5 291.8 L595 293.8 L594.5 295.8 L593.9 297.7 L593.3 299.4 L592.6 301.1 L591.9 302.6 L591.1 304 L590.3 305.3 L589.4 306.5 L588.5 307.6 L587.6 308.6 L586.6 309.5 L585.6 310.2 L584.4 310.9 L583.3 311.4 L582 311.8 L580.7 312.1 L579.1 312.2 L576.9 312.3 L574.7 312.2 L573.1 312.1 L571.8 311.8 L570.5 311.4 L569.4 310.9 L568.2 310.2 L567.2 309.5 L566.2 308.6 L565.3 307.6 L564.4 306.5 L563.5 305.3 L562.7 304 L561.9 302.6 L561.2 301.1 L560.5 299.4 L559.9 297.7 L559.3 295.8 L558.8 293.8 L558.3 291.8 L557.8 289.6 L557.4 287.3 L557 284.8 L556.6 282.3 L556.4 279.6 L556.1 276.7 L555.9 273.7 L555.8 270.5 L555.6 267 L555.6 263 L555.5 257.3 L555.6 251.6 L555.6 247.6 L555.8 244.1 L555.9 240.9 L556.1 237.9 L556.4 235 L556.6 232.3 L557 229.8 L557.4 227.3 L557.8 225 L558.3 222.8 L558.8 220.8 L559.3 218.8 L559.9 216.9 L560.5 215.2 L561.2 213.5 L561.9 212 L562.7 210.6 L563.5 209.3 L564.4 208.1 L565.3 207 L566.2 206 L567.2 205.1 L568.2 204.4 L569.4 203.7 L570.5 203.2 L571.8 202.8 L573.1 202.5 L574.7 202.4 L576.9 202.3 L579.1 202.4 L580.7 202.5 L582 202.8 L583.3 203.2 L584.4 203.7 L585.6 204.4 L586.6 205.1 L587.6 206 L588.5 207 L589.4 208.1 L590.3 209.3 L591.1 210.6 L591.9 212 L592.6 213.5 L593.3 215.2 L593.9 216.9 L594.5 218.8 L595 220.8 L595.5 222.8 L596 225 L596.4 227.3 L596.8 229.8 L597.2 232.3 L597.4 235 L597.7 237.9 L597.9 240.9 L598 244.1 L598.2 247.6 L598.2 251.6Z" fill="#0077a8"/>
<path d="M621.3 257.3 L621.4 263 L621.4 267 L621.6 270.5 L621.7 273.7 L621.9 276.7 L622.2 279.6 L622.4 282.3 L622.8 284.8 L623.2 287.3 L623.6 289.6 L624.1 291.8 L624.6 293.8 L625.1 295.8 L625.7 297.7 L626.3 299.4 L627 301.1 L627.7 302.6 L628.5 304 L629.3 305.3 L630.2 306.5 L631.1 307.6 L632 308.6 L633 309.5 L634 310.2 L635.2 310.9 L636.3 311.4 L637.6 311.8 L638.9 312.1 L640.5 312.2 L642.7 312.3 L644.9 312.2 L646.5 312.1 L647.8 311.8 L649.1 311.4 L650.2 310.9 L651.4 310.2 L652.4 309.5 L653.4 308.6 L654.3 307.6 L655.2 306.5 L656.1 305.3 L656.9 304 L657.7 302.6 L658.4 301.1 L659.1 299.4 L659.7 297.7 L660.3 295.8 L660.8 293.8 L661.3 291.8 L661.8 289.6 L662.2 287.3 L662.6 284.8 L663 282.3 L663.2 279.6 L663.5 276.7 L663.7 273.7 L663.8 270.5 L664 267 L664 263 L664 257.3 L664 251.6 L664 247.6 L663.8 244.1 L663.7 240.9 L663.5 237.9 L663.2 235 L663 232.3 L662.6 229.8 L662.2 227.3 L661.8 225 L661.3 222.8 L660.8 220.8 L660.3 218.8 L659.7 216.9 L659.1 215.2 L658.4 213.5 L657.7 212 L656.9 210.6 L656.1 209.3 L655.2 208.1 L654.3 207 L653.4 206 L652.4 205.1 L651.4 204.4 L650.2 203.7 L649.1 203.2 L647.8 202.8 L646.5 202.5 L644.9 202.4 L642.7 202.3 L640.5 202.4 L638.9 202.5 L637.6 202.8 L636.3 203.2 L635.2 203.7 L634 204.4 L633 205.1 L632 206 L631.1 207 L630.2 208.1 L629.3 209.3 L628.5 210.6 L627.7 212 L627 213.5 L626.3 215.2 L625.7 216.9 L625.1 218.8 L624.6 220.8 L624.1 222.8 L623.6 225 L623.2 227.3 L622.8 229.8 L622.4 232.3 L622.2 235 L621.9 237.9 L621.7 240.9 L621.6 244.1 L621.4 247.6 L621.4 251.6Z" fill="#0077a8"/>
<path d="M591.9 257.3 L591.9 260.5 L591.8 263.1 L591.7 265.5 L591.6 267.8 L591.5 270.1 L591.3 272.2 L591 274.2 L590.8 276.2 L590.5 278.1 L590.1 279.9 L589.8 281.6 L589.4 283.3 L588.9 284.9 L588.5 286.4 L588 287.9 L587.5 289.2 L586.9 290.5 L586.3 291.6 L585.7 292.7 L585.1 293.7 L584.4 294.7 L583.7 295.5 L583 296.2 L582.3 296.8 L581.5 297.4 L580.7 297.8 L579.8 298.2 L579 298.4 L578 298.6 L576.9 298.6 L575.7 298.6 L574.7 298.4 L573.9 298.2 L573 297.8 L572.2 297.4 L571.4 296.8 L570.7 296.2 L570 295.5 L569.3 294.7 L568.6 293.7 L568 292.7 L567.4 291.6 L566.8 290.5 L566.2 289.2 L565.7 287.9 L565.2 286.4 L564.8 284.9 L564.3 283.3 L563.9 281.6 L563.6 279.9 L563.2 278.1 L562.9 276.2 L562.7 274.2 L562.4 272.2 L562.2 270.1 L562.1 267.8 L562 265.5 L561.9 263.1 L561.8 260.5 L561.8 257.3 L561.8 254.1 L561.9 251.5 L562 249.1 L562.1 246.8 L562.2 244.5 L562.4 242.4 L562.7 240.4 L562.9 238.4 L563.2 236.5 L563.6 234.7 L563.9 233 L564.3 231.3 L564.8 229.7 L565.2 228.2 L565.7 226.7 L566.2 225.4 L566.8 224.1 L567.4 223 L568 221.9 L568.6 220.9 L569.3 219.9 L570 219.1 L570.7 218.4 L571.4 217.8 L572.2 217.2 L573 216.8 L573.9 216.4 L574.7 216.2 L575.7 216 L576.8 216 L578 216 L579 216.2 L579.8 216.4 L580.7 216.8 L581.5 217.2 L582.3 217.8 L583 218.4 L583.7 219.1 L584.4 219.9 L585.1 220.9 L585.7 221.9 L586.3 223 L586.9 224.1 L587.5 225.4 L588 226.7 L588.5 228.2 L588.9 229.7 L589.4 231.3 L589.8 233 L590.1 234.7 L590.5 236.5 L590.8 238.4 L591 240.4 L591.3 242.4 L591.5 244.5 L591.6 246.8 L591.7 249.1 L591.8 251.5 L591.9 254.1Z" fill="#0000a8"/>
<path d="M627.7 257.3 L627.7 260.5 L627.8 263.1 L627.9 265.5 L628 267.8 L628.1 270.1 L628.3 272.2 L628.6 274.2 L628.8 276.2 L629.1 278.1 L629.5 279.9 L629.8 281.6 L630.2 283.3 L630.7 284.9 L631.1 286.4 L631.6 287.9 L632.1 289.2 L632.7 290.5 L633.3 291.6 L633.9 292.7 L634.5 293.7 L635.2 294.7 L635.9 295.5 L636.6 296.2 L637.3 296.8 L638.1 297.4 L638.9 297.8 L639.8 298.2 L640.6 298.4 L641.6 298.6 L642.7 298.6 L643.9 298.6 L644.9 298.4 L645.7 298.2 L646.6 297.8 L647.4 297.4 L648.2 296.8 L648.9 296.2 L649.6 295.5 L650.3 294.7 L651 293.7 L651.6 292.7 L652.2 291.6 L652.8 290.5 L653.4 289.2 L653.9 287.9 L654.4 286.4 L654.8 284.9 L655.3 283.3 L655.7 281.6 L656 279.9 L656.4 278.1 L656.7 276.2 L656.9 274.2 L657.2 272.2 L657.4 270.1 L657.5 267.8 L657.6 265.5 L657.7 263.1 L657.8 260.5 L657.8 257.3 L657.8 254.1 L657.7 251.5 L657.6 249.1 L657.5 246.8 L657.4 244.5 L657.2 242.4 L656.9 240.4 L656.7 238.4 L656.4 236.5 L656 234.7 L655.7 233 L655.3 231.3 L654.8 229.7 L654.4 228.2 L653.9 226.7 L653.4 225.4 L652.8 224.1 L652.2 223 L651.6 221.9 L651 220.9 L650.3 219.9 L649.6 219.1 L648.9 218.4 L648.2 217.8 L647.4 217.2 L646.6 216.8 L645.7 216.4 L644.9 216.2 L643.9 216 L642.8 216 L641.6 216 L640.6 216.2 L639.8 216.4 L638.9 216.8 L638.1 217.2 L637.3 217.8 L636.6 218.4 L635.9 219.1 L635.2 219.9 L634.5 220.9 L633.9 221.9 L633.3 223 L632.7 224.1 L632.1 225.4 L631.6 226.7 L631.1 228.2 L630.7 229.7 L630.2 231.3 L629.8 233 L629.5 234.7 L629.1 236.5 L628.8 238.4 L628.6 240.4 L628.3 242.4 L628.1 244.5 L628 246.8 L627.9 249.1 L627.8 251.5 L627.7 254.1Z" fill="#0000a8"/>
</g>
<path d="M620.1 256.9 L639.6 256.9 L643.9 262.2 L639.6 267.6 L620.1 267.6Z" fill="#0000ff"/>
<circle cx="644.6" cy="262.2" r="0.6" fill="#5a5040"/>
<text transform="translate(622.8 265.3) scale(0.95 1)" class="mn">Min</text>
<rect x="1.2" y="35.8" width="9.8" height="10.9" fill="#ff0000"/>
<rect x="1.2" y="46.7" width="9.8" height="10.9" fill="#ffb400"/>
<rect x="1.2" y="57.5" width="9.8" height="10.9" fill="#e6ff00"/>
<rect x="1.2" y="68.4" width="9.8" height="10.9" fill="#5aff00"/>
<rect x="1.2" y="79.3" width="9.8" height="10.9" fill="#00ff64"/>
<rect x="1.2" y="90.2" width="9.8" height="10.9" fill="#00ffe6"/>
<rect x="1.2" y="101" width="9.8" height="10.9" fill="#00b4ff"/>
<rect x="1.2" y="111.9" width="9.8" height="10.9" fill="#0000ff"/>
<rect x="1.2" y="46.3" width="9.8" height="0.8" fill="rgba(0,0,0,0.28)"/>
<rect x="1.2" y="57.1" width="9.8" height="0.8" fill="rgba(0,0,0,0.28)"/>
<rect x="1.2" y="68" width="9.8" height="0.8" fill="rgba(0,0,0,0.28)"/>
<rect x="1.2" y="78.9" width="9.8" height="0.8" fill="rgba(0,0,0,0.28)"/>
<rect x="1.2" y="89.8" width="9.8" height="0.8" fill="rgba(0,0,0,0.28)"/>
<rect x="1.2" y="100.6" width="9.8" height="0.8" fill="rgba(0,0,0,0.28)"/>
<rect x="1.2" y="111.5" width="9.8" height="0.8" fill="rgba(0,0,0,0.28)"/>
<rect x="1.4" y="36" width="9.3" height="86.5" fill="none" stroke="rgba(0,0,40,0.35)" stroke-width="0.5"/>
<g style="font-size:8.5px">
<text transform="translate(17 38.2) scale(0.965 1)" class="lb b">-2.3905 Max</text>
<text transform="translate(17 49.1) scale(0.965 1)" class="lb">-2.6306</text>
<text transform="translate(17 59.9) scale(0.965 1)" class="lb">-2.8707</text>
<text transform="translate(17 70.8) scale(0.965 1)" class="lb">-3.1108</text>
<text transform="translate(17 81.7) scale(0.965 1)" class="lb">-3.3508</text>
<text transform="translate(17 92.6) scale(0.965 1)" class="lb">-3.5909</text>
<text transform="translate(17 103.5) scale(0.965 1)" class="lb">-3.831</text>
<text transform="translate(17 114.3) scale(0.965 1)" class="lb">-4.0711</text>
<text transform="translate(17 125.2) scale(0.965 1)" class="lb b">-4.3112 Min</text>
</g>
<rect x="227.9" y="39.8" width="9.1" height="9.9" fill="#ff0000"/>
<rect x="227.9" y="49.7" width="9.1" height="9.9" fill="#ffb400"/>
<rect x="227.9" y="59.6" width="9.1" height="9.9" fill="#e6ff00"/>
<rect x="227.9" y="69.5" width="9.1" height="9.9" fill="#5aff00"/>
<rect x="227.9" y="79.3" width="9.1" height="9.9" fill="#00ff64"/>
<rect x="227.9" y="89.2" width="9.1" height="9.9" fill="#00ffe6"/>
<rect x="227.9" y="99.1" width="9.1" height="9.9" fill="#00b4ff"/>
<rect x="227.9" y="109" width="9.1" height="9.9" fill="#0000ff"/>
<rect x="227.9" y="49.3" width="9.1" height="0.8" fill="rgba(0,0,0,0.28)"/>
<rect x="227.9" y="59.2" width="9.1" height="0.8" fill="rgba(0,0,0,0.28)"/>
<rect x="227.9" y="69.1" width="9.1" height="0.8" fill="rgba(0,0,0,0.28)"/>
<rect x="227.9" y="78.9" width="9.1" height="0.8" fill="rgba(0,0,0,0.28)"/>
<rect x="227.9" y="88.8" width="9.1" height="0.8" fill="rgba(0,0,0,0.28)"/>
<rect x="227.9" y="98.7" width="9.1" height="0.8" fill="rgba(0,0,0,0.28)"/>
<rect x="227.9" y="108.6" width="9.1" height="0.8" fill="rgba(0,0,0,0.28)"/>
<rect x="228.2" y="40" width="8.6" height="78.6" fill="none" stroke="rgba(0,0,40,0.35)" stroke-width="0.5"/>
<g style="font-size:8.5px">
<text transform="translate(242.6 42.7) scale(0.894 1)" class="lb b">-1.8238 Max</text>
<text transform="translate(242.6 52.1) scale(0.894 1)" class="lb">-2.174</text>
<text transform="translate(242.6 62) scale(0.894 1)" class="lb">-2.5242</text>
<text transform="translate(242.6 71.9) scale(0.894 1)" class="lb">-2.8744</text>
<text transform="translate(242.6 81.8) scale(0.894 1)" class="lb">-3.2246</text>
<text transform="translate(242.6 91.6) scale(0.894 1)" class="lb">-3.5747</text>
<text transform="translate(242.6 101.5) scale(0.894 1)" class="lb">-3.9249</text>
<text transform="translate(242.6 111.4) scale(0.894 1)" class="lb">-4.2751</text>
<text transform="translate(242.6 121.3) scale(0.894 1)" class="lb b">-4.6253 Min</text>
</g>
<rect x="463" y="37" width="8.9" height="10.6" fill="#ff0000"/>
<rect x="463" y="47.6" width="8.9" height="10.6" fill="#ffb400"/>
<rect x="463" y="58.1" width="8.9" height="10.6" fill="#e6ff00"/>
<rect x="463" y="68.7" width="8.9" height="10.6" fill="#5aff00"/>
<rect x="463" y="79.3" width="8.9" height="10.6" fill="#00ff64"/>
<rect x="463" y="89.9" width="8.9" height="10.6" fill="#00ffe6"/>
<rect x="463" y="100.4" width="8.9" height="10.6" fill="#00b4ff"/>
<rect x="463" y="111" width="8.9" height="10.6" fill="#0000ff"/>
<rect x="463" y="47.2" width="8.9" height="0.8" fill="rgba(0,0,0,0.28)"/>
<rect x="463" y="57.8" width="8.9" height="0.8" fill="rgba(0,0,0,0.28)"/>
<rect x="463" y="68.3" width="8.9" height="0.8" fill="rgba(0,0,0,0.28)"/>
<rect x="463" y="78.9" width="8.9" height="0.8" fill="rgba(0,0,0,0.28)"/>
<rect x="463" y="89.5" width="8.9" height="0.8" fill="rgba(0,0,0,0.28)"/>
<rect x="463" y="100" width="8.9" height="0.8" fill="rgba(0,0,0,0.28)"/>
<rect x="463" y="110.6" width="8.9" height="0.8" fill="rgba(0,0,0,0.28)"/>
<rect x="463.2" y="37.2" width="8.4" height="84.1" fill="none" stroke="rgba(0,0,40,0.35)" stroke-width="0.5"/>
<g style="font-size:8.5px">
<text transform="translate(477.8 40.1) scale(0.906 1)" class="lb b">-2.2744 Max</text>
<text transform="translate(477.8 50) scale(0.906 1)" class="lb">-2.5385</text>
<text transform="translate(477.8 60.5) scale(0.906 1)" class="lb">-2.8026</text>
<text transform="translate(477.8 71.1) scale(0.906 1)" class="lb">-3.0666</text>
<text transform="translate(477.8 81.7) scale(0.906 1)" class="lb">-3.3307</text>
<text transform="translate(477.8 92.3) scale(0.906 1)" class="lb">-3.5947</text>
<text transform="translate(477.8 102.8) scale(0.906 1)" class="lb">-3.8588</text>
<text transform="translate(477.8 113.4) scale(0.906 1)" class="lb">-4.1229</text>
<text transform="translate(477.8 124) scale(0.906 1)" class="lb b">-4.3869 Min</text>
</g>
<rect x="1.8" y="201.8" width="9" height="10.5" fill="#ff0000"/>
<rect x="1.8" y="212.3" width="9" height="10.5" fill="#ffb400"/>
<rect x="1.8" y="222.8" width="9" height="10.5" fill="#e6ff00"/>
<rect x="1.8" y="233.2" width="9" height="10.5" fill="#5aff00"/>
<rect x="1.8" y="243.7" width="9" height="10.5" fill="#00ff64"/>
<rect x="1.8" y="254.2" width="9" height="10.5" fill="#00ffe6"/>
<rect x="1.8" y="264.7" width="9" height="10.5" fill="#00b4ff"/>
<rect x="1.8" y="275.1" width="9" height="10.5" fill="#0000ff"/>
<rect x="1.8" y="211.9" width="9" height="0.8" fill="rgba(0,0,0,0.28)"/>
<rect x="1.8" y="222.3" width="9" height="0.8" fill="rgba(0,0,0,0.28)"/>
<rect x="1.8" y="232.8" width="9" height="0.8" fill="rgba(0,0,0,0.28)"/>
<rect x="1.8" y="243.3" width="9" height="0.8" fill="rgba(0,0,0,0.28)"/>
<rect x="1.8" y="253.8" width="9" height="0.8" fill="rgba(0,0,0,0.28)"/>
<rect x="1.8" y="264.3" width="9" height="0.8" fill="rgba(0,0,0,0.28)"/>
<rect x="1.8" y="274.7" width="9" height="0.8" fill="rgba(0,0,0,0.28)"/>
<rect x="2" y="202.1" width="8.5" height="83.3" fill="none" stroke="rgba(0,0,40,0.35)" stroke-width="0.5"/>
<g style="font-size:8.5px">
<text transform="translate(16 204.2) scale(0.882 1)" class="lb b">-2.2597 Max</text>
<text transform="translate(16 214.7) scale(0.882 1)" class="lb">-2.5269</text>
<text transform="translate(16 225.2) scale(0.882 1)" class="lb">-2.7942</text>
<text transform="translate(16 235.6) scale(0.882 1)" class="lb">-3.0615</text>
<text transform="translate(16 246.1) scale(0.882 1)" class="lb">-3.3287</text>
<text transform="translate(16 256.6) scale(0.882 1)" class="lb">-3.596</text>
<text transform="translate(16 267.1) scale(0.882 1)" class="lb">-3.8632</text>
<text transform="translate(16 277.5) scale(0.882 1)" class="lb">-4.1305</text>
<text transform="translate(16 288) scale(0.882 1)" class="lb b">-4.3978 Min</text>
</g>
<rect x="229.3" y="202.4" width="9.6" height="10.4" fill="#ff0000"/>
<rect x="229.3" y="212.8" width="9.6" height="10.4" fill="#ffb400"/>
<rect x="229.3" y="223.2" width="9.6" height="10.4" fill="#e6ff00"/>
<rect x="229.3" y="233.7" width="9.6" height="10.4" fill="#5aff00"/>
<rect x="229.3" y="244.1" width="9.6" height="10.4" fill="#00ff64"/>
<rect x="229.3" y="254.5" width="9.6" height="10.4" fill="#00ffe6"/>
<rect x="229.3" y="264.9" width="9.6" height="10.4" fill="#00b4ff"/>
<rect x="229.3" y="275.3" width="9.6" height="10.4" fill="#0000ff"/>
<rect x="229.3" y="212.4" width="9.6" height="0.8" fill="rgba(0,0,0,0.28)"/>
<rect x="229.3" y="222.8" width="9.6" height="0.8" fill="rgba(0,0,0,0.28)"/>
<rect x="229.3" y="233.3" width="9.6" height="0.8" fill="rgba(0,0,0,0.28)"/>
<rect x="229.3" y="243.7" width="9.6" height="0.8" fill="rgba(0,0,0,0.28)"/>
<rect x="229.3" y="254.1" width="9.6" height="0.8" fill="rgba(0,0,0,0.28)"/>
<rect x="229.3" y="264.5" width="9.6" height="0.8" fill="rgba(0,0,0,0.28)"/>
<rect x="229.3" y="274.9" width="9.6" height="0.8" fill="rgba(0,0,0,0.28)"/>
<rect x="229.6" y="202.7" width="9.1" height="82.8" fill="none" stroke="rgba(0,0,40,0.35)" stroke-width="0.5"/>
<g style="font-size:8.5px">
<text transform="translate(243.6 204.8) scale(0.912 1)" class="lb b">-2.3719 Max</text>
<text transform="translate(243.6 215.2) scale(0.912 1)" class="lb">-2.6131</text>
<text transform="translate(243.6 225.6) scale(0.912 1)" class="lb">-2.8543</text>
<text transform="translate(243.6 236.1) scale(0.912 1)" class="lb">-3.0955</text>
<text transform="translate(243.6 246.5) scale(0.912 1)" class="lb">-3.3366</text>
<text transform="translate(243.6 256.9) scale(0.912 1)" class="lb">-3.5778</text>
<text transform="translate(243.6 267.3) scale(0.912 1)" class="lb">-3.819</text>
<text transform="translate(243.6 277.7) scale(0.912 1)" class="lb">-4.0602</text>
<text transform="translate(243.6 288.1) scale(0.912 1)" class="lb b">-4.3014 Min</text>
</g>
<rect x="460.1" y="201.2" width="9.1" height="10.7" fill="#ff0000"/>
<rect x="460.1" y="211.9" width="9.1" height="10.7" fill="#ffb400"/>
<rect x="460.1" y="222.6" width="9.1" height="10.7" fill="#e6ff00"/>
<rect x="460.1" y="233.3" width="9.1" height="10.7" fill="#5aff00"/>
<rect x="460.1" y="243.9" width="9.1" height="10.7" fill="#00ff64"/>
<rect x="460.1" y="254.6" width="9.1" height="10.7" fill="#00ffe6"/>
<rect x="460.1" y="265.3" width="9.1" height="10.7" fill="#00b4ff"/>
<rect x="460.1" y="276" width="9.1" height="10.7" fill="#0000ff"/>
<rect x="460.1" y="211.5" width="9.1" height="0.8" fill="rgba(0,0,0,0.28)"/>
<rect x="460.1" y="222.2" width="9.1" height="0.8" fill="rgba(0,0,0,0.28)"/>
<rect x="460.1" y="232.9" width="9.1" height="0.8" fill="rgba(0,0,0,0.28)"/>
<rect x="460.1" y="243.5" width="9.1" height="0.8" fill="rgba(0,0,0,0.28)"/>
<rect x="460.1" y="254.2" width="9.1" height="0.8" fill="rgba(0,0,0,0.28)"/>
<rect x="460.1" y="264.9" width="9.1" height="0.8" fill="rgba(0,0,0,0.28)"/>
<rect x="460.1" y="275.6" width="9.1" height="0.8" fill="rgba(0,0,0,0.28)"/>
<rect x="460.4" y="201.4" width="8.6" height="85" fill="none" stroke="rgba(0,0,40,0.35)" stroke-width="0.5"/>
<g style="font-size:8.5px">
<text transform="translate(474.9 203.6) scale(0.924 1)" class="lb b">-2.326 Max</text>
<text transform="translate(474.9 214.3) scale(0.924 1)" class="lb">-2.5786</text>
<text transform="translate(474.9 225) scale(0.924 1)" class="lb">-2.8313</text>
<text transform="translate(474.9 235.7) scale(0.924 1)" class="lb">-3.0839</text>
<text transform="translate(474.9 246.3) scale(0.924 1)" class="lb">-3.3366</text>
<text transform="translate(474.9 257) scale(0.924 1)" class="lb">-3.5892</text>
<text transform="translate(474.9 267.7) scale(0.924 1)" class="lb">-3.8418</text>
<text transform="translate(474.9 278.4) scale(0.924 1)" class="lb">-4.0945</text>
<text transform="translate(474.9 289.1) scale(0.924 1)" class="lb b">-4.3471 Min</text>
</g>
<text x="126.5" y="20.2" class="tt">(a)</text>
<text x="361.9" y="20.2" class="tt">(b)</text>
<text x="597.1" y="20.2" class="tt">(c)</text>
<text x="126.9" y="183.5" class="tt">(d)</text>
<text x="366.3" y="183.5" class="tt">(e)</text>
<text x="601.7" y="183.5" class="tt">(f)</text>
</svg>
</body></html>
